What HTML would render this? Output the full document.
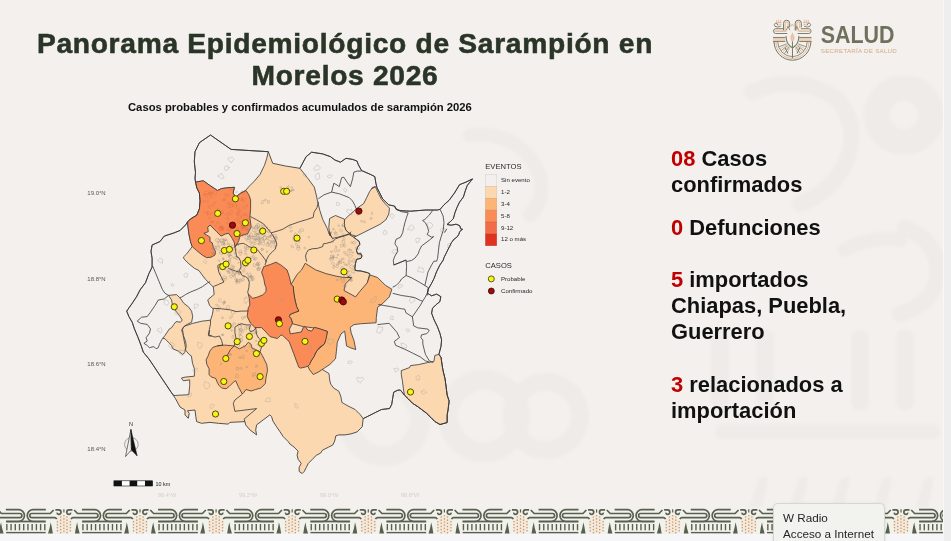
<!DOCTYPE html>
<html><head><meta charset="utf-8">
<style>
*{margin:0;padding:0;box-sizing:border-box}
html,body{width:951px;height:541px;overflow:hidden;background:#f6f6f8;font-family:"Liberation Sans",sans-serif}
#slide{position:absolute;left:0;top:0;width:944px;height:534.3px;background:#f3f0ed;overflow:hidden;will-change:transform}
.t{position:absolute;white-space:nowrap}
#title{left:0;width:690px;top:26.8px;text-align:center;font-weight:bold;font-size:28.2px;line-height:32px;color:#2a3427;letter-spacing:0.7px;-webkit-text-stroke:0.55px #2a3427}
#sub{left:128px;top:101px;font-weight:bold;font-size:11.25px;color:#111}
.rt{position:absolute;left:671px;font-weight:bold;font-size:21.9px;line-height:25.8px;color:#111;white-space:nowrap}
.rt b{color:#c00000}
#tip{position:absolute;left:773px;top:503px;width:112px;height:50px;background:#f2f2ee;border:1px solid #d6d6d2;border-radius:5px;box-shadow:0 1px 3px rgba(0,0,0,0.12)}
#tip div{position:absolute;left:9px;font-size:11.7px;color:#262626;white-space:nowrap}
svg{position:absolute;left:0;top:0}
</style></head><body>
<div id="slide">
<svg width="944" height="535" viewBox="0 0 944 535">
<defs><filter id="wmb" x="-10%" y="-10%" width="120%" height="120%"><feGaussianBlur stdDeviation="1.6"/></filter></defs>
<g filter="url(#wmb)">
<g fill="none" stroke="#eeebe8" stroke-linecap="round">
<circle cx="904" cy="115" r="27" stroke-width="26"/>
<path d="M752,92 Q800,72 838,100 Q860,125 846,162 Q832,192 800,204" stroke-width="16"/>
<path d="M905,228 Q938,240 938,275 Q932,305 900,314" stroke-width="16"/>
<path d="M845,250 Q870,236 900,240" stroke-width="14"/>
<circle cx="484" cy="416" r="36" stroke-width="20"/>
<circle cx="546" cy="416" r="34" stroke-width="18"/>
<circle cx="384" cy="420" r="36" stroke-width="20"/>
<path d="M470,135 Q520,130 540,175 Q545,200 530,215" stroke-width="14"/>
</g>
<g fill="#eeebe8">
<rect x="711" y="330" width="18" height="80" rx="8"/>
<rect x="756" y="330" width="18" height="80" rx="8"/>
<rect x="851" y="330" width="18" height="80" rx="8"/>
<rect x="896" y="330" width="18" height="80" rx="8"/>
<rect x="715" y="424" width="225" height="15" rx="7"/>
<path d="M750,507 L758,480 Q762,474 768,478 L762,507 Z"/>
<path d="M790,507 L798,480 Q802,474 808,478 L802,507 Z"/>
<path d="M832,507 L840,480 Q844,474 850,478 L844,507 Z"/>
<path d="M874,507 L882,480 Q886,474 892,478 L886,507 Z"/>
<path d="M916,507 L924,480 Q928,474 934,478 L928,507 Z"/>
</g>
</g>

<polygon points="210.5,135.0 220.0,141.7 231.1,149.4 268.3,151.7 272.7,163.3 285.5,166.0 299.9,168.3 306.1,156.7 311.6,152.2 322.7,153.9 330.5,156.7 334.9,160.0 340.5,162.2 346.0,158.3 352.6,159.4 357.1,161.1 358.2,164.4 361.5,170.5 370.4,174.4 374.8,176.6 375.9,183.3 377.0,187.7 379.3,192.1 382.6,198.8 388.8,204.9 394.4,206.0 396.6,209.3 400.0,210.6 410.4,211.2 425.9,210.0 437.5,210.0 440.1,209.3 444.0,204.8 449.2,200.2 454.4,193.1 459.5,184.7 466.0,182.1 472.5,178.9 467.3,185.4 465.4,190.5 463.4,197.0 459.5,202.2 457.0,207.4 455.0,212.5 453.3,218.7 450.5,221.5 447.0,224.5 451.4,225.2 456.0,224.2 459.7,225.6 460.7,228.9 462.5,229.3 459.7,231.6 458.8,234.4 456.9,237.2 454.2,239.0 451.4,242.7 449.6,246.4 447.7,250.1 445.9,253.8 444.0,257.5 443.3,260.0 439.9,265.0 436.6,271.6 434.1,278.3 431.6,283.3 428.3,289.1 427.5,293.3 431.6,295.8 436.6,294.1 440.8,296.6 439.9,301.6 435.8,304.9 432.5,308.3 431.6,313.2 434.1,319.9 437.4,326.6 439.9,333.2 441.6,339.9 441.0,346.3 438.9,354.4 441.0,357.4 442.0,364.6 443.0,370.6 445.0,378.8 446.1,386.9 447.1,395.0 449.1,401.1 448.1,409.3 447.1,415.4 447.1,422.5 440.0,424.5 434.9,421.5 430.8,417.4 426.7,413.3 422.7,410.3 418.6,407.2 412.5,403.2 408.5,399.1 404.4,395.0 400.3,390.0 397.8,390.2 393.7,392.2 392.7,398.3 391.7,404.4 389.6,408.5 381.5,409.5 375.4,412.5 367.3,416.6 363.2,418.6 362.2,426.8 357.1,431.9 351.0,433.9 344.9,434.9 338.8,434.9 335.8,435.9 334.7,441.0 332.7,445.1 328.6,447.1 322.5,450.2 320.5,453.2 316.4,455.2 312.4,459.3 308.3,463.4 306.3,467.4 304.2,471.5 302.2,473.5 299.2,471.5 299.2,467.4 301.2,463.4 298.1,459.3 297.1,455.2 298.1,451.2 294.1,447.1 290.0,444.1 288.2,441.6 283.2,436.6 279.9,431.6 276.5,426.6 273.2,421.6 271.5,416.6 269.9,414.9 263.2,419.9 256.6,424.9 255.7,429.9 256.6,434.9 249.9,429.9 245.7,424.9 244.9,421.6 229.9,422.4 228.3,424.1 218.3,423.3 210.0,422.4 201.6,423.3 196.6,421.6 195.8,416.6 195.0,410.0 187.5,410.8 189.2,413.3 188.3,418.3 185.0,414.9 185.0,410.0 180.0,407.0 175.5,398.7 171.0,392.0 166.6,385.4 162.1,378.7 157.7,372.1 153.3,365.4 148.8,358.8 143.3,352.1 141.1,345.5 137.7,336.6 134.4,328.8 132.2,322.2 128.9,316.6 126.7,311.1 132.2,303.3 136.6,296.7 140.0,290.0 145.5,282.7 148.8,273.8 152.1,267.1 152.1,258.3 151.0,251.6 152.1,245.0 159.9,241.6 164.3,236.1 174.3,232.8 180.0,230.5 185.5,225.0 187.8,221.6 190.4,219.0 196.8,215.1 199.4,208.7 200.0,200.9 199.4,193.1 196.8,188.0 195.5,182.1 195.0,178.2 195.5,172.7 194.3,161.6 195.0,151.6 199.4,142.7" fill="#fcd8b1" stroke="#363636" stroke-width="0" stroke-linejoin="round"/>
<polygon points="210.5,135.0 220.0,141.7 231.1,149.4 268.3,151.7 266.6,158.9 264.4,165.5 260.0,174.4 254.4,181.1 248.9,186.6 245.5,190.5 240.8,193.1 235.7,197.0 233.1,193.1 234.4,187.3 226.6,187.9 221.4,188.6 217.5,190.5 209.8,185.4 203.3,180.8 195.5,182.1 195.0,178.2 195.5,172.7 194.3,161.6 195.0,151.6 199.4,142.7" fill="#f2efec" stroke="#363636" stroke-width="0.8" stroke-linejoin="round"/>
<polygon points="299.9,168.3 306.1,156.7 311.6,152.2 322.7,153.9 330.5,156.7 334.9,160.0 340.5,162.2 346.0,158.3 352.6,159.4 357.1,161.1 358.2,164.4 361.5,170.5 370.4,174.4 374.8,176.6 375.9,183.3 377.0,187.7 379.3,192.1 382.6,198.8 388.8,204.9 394.4,206.0 396.6,209.3 400.0,210.6 410.4,211.2 425.9,210.0 437.5,210.0 440.1,209.3 444.0,204.8 449.2,200.2 454.4,193.1 459.5,184.7 466.0,182.1 472.5,178.9 467.3,185.4 465.4,190.5 463.4,197.0 459.5,202.2 457.0,207.4 455.0,212.5 453.3,218.7 450.5,221.5 447.0,224.5 451.4,225.2 456.0,224.2 459.7,225.6 460.7,228.9 462.5,229.3 459.7,231.6 458.8,234.4 456.9,237.2 454.2,239.0 451.4,242.7 449.6,246.4 447.7,250.1 445.9,253.8 444.0,257.5 443.3,260.0 439.9,265.0 436.6,271.6 434.1,278.3 431.6,283.3 428.3,289.1 427.5,293.3 431.6,295.8 436.6,294.1 440.8,296.6 439.9,301.6 435.8,304.9 432.5,308.3 431.6,313.2 434.1,319.9 437.4,326.6 439.9,333.2 441.6,339.9 441.0,346.3 438.9,354.4 441.0,357.4 442.0,364.6 443.0,370.6 445.0,378.8 446.1,386.9 447.1,395.0 449.1,401.1 448.1,409.3 447.1,415.4 447.1,422.5 440.0,424.5 434.9,421.5 430.8,417.4 426.7,413.3 422.7,410.3 418.6,407.2 412.5,403.2 408.5,399.1 404.4,395.0 400.3,390.0 397.8,390.2 393.7,392.2 392.7,398.3 391.7,404.4 389.6,408.5 381.5,409.5 375.4,412.5 367.3,416.6 363.2,418.6 360.2,414.6 355.1,409.5 346.9,405.4 341.9,402.4 340.8,396.3 338.8,391.2 333.7,388.1 330.7,384.1 329.7,380.0 329.0,373.6 321.6,369.0 330.0,352.0 345.0,312.0 365.0,292.0 369.8,273.8 367.6,272.7 361.0,271.0 355.4,270.5 354.9,268.2 355.4,263.8 356.5,259.4 361.0,258.3 362.0,256.0 361.0,253.8 357.6,253.8 356.5,250.5 357.6,247.2 359.8,244.4 359.3,241.6 356.5,239.4 353.7,237.2 356.2,236.2 345.0,228.0 332.5,238.4 328.8,232.9 327.3,228.5 322.8,219.6 319.9,210.7 317.7,201.8 316.5,196.0 314.3,187.1 307.7,178.2" fill="#f2efec" stroke="#363636" stroke-width="0.8" stroke-linejoin="round"/>
<polygon points="187.8,221.6 185.5,225.0 180.0,230.5 174.3,232.8 164.3,236.1 159.9,241.6 152.1,245.0 151.0,251.6 152.1,258.3 152.1,267.1 148.8,273.8 145.5,282.7 140.0,290.0 136.6,296.7 132.2,303.3 126.7,311.1 128.9,316.6 132.2,322.2 134.4,328.8 137.7,336.6 141.1,345.5 143.3,352.1 148.8,358.8 153.3,365.4 157.7,372.1 162.1,378.7 166.6,385.4 171.0,392.0 174.0,395.5 188.8,394.7 189.7,385.5 189.7,379.9 183.3,380.8 181.4,378.1 185.1,377.1 194.4,376.2 194.4,368.8 192.5,363.3 191.4,356.0 189.2,354.5 185.5,350.1 186.2,345.7 185.5,341.2 183.3,335.3 182.5,329.4 184.0,326.4 192.2,323.5 201.8,321.2 210.5,320.2 212.3,314.7 213.3,309.1 209.6,305.5 207.7,299.9 214.2,294.4 213.3,287.0 208.9,282.7 205.5,279.4 202.2,275.0 198.9,270.5 194.4,268.3 188.9,263.8 184.4,259.4 183.3,257.2 186.7,253.9 192.2,246.6 190.5,241.6 188.9,233.9 187.8,225.0" fill="#f2efec" stroke="#363636" stroke-width="0.8" stroke-linejoin="round"/>
<polygon points="168.5,295.4 176.6,294.6 179.6,297.6 181.6,300.0 183.8,303.3 188.3,306.7 191.6,311.1 192.7,316.6 191.6,322.2 187.2,324.4 183.8,326.6 181.6,330.0 182.7,333.3 183.8,338.8 184.9,344.4 185.5,347.7 184.9,352.2 182.7,354.4 178.3,351.1 172.7,348.8 171.6,345.5 168.3,342.2 165.0,338.8 162.7,338.3 165.0,335.5 167.2,332.2 169.4,328.9 171.6,327.7 173.8,324.4 176.1,321.6 180.5,322.2 182.2,320.0 179.4,315.5 175.0,310.0 172.7,306.7 171.6,300.0" fill="#fcd8b1" stroke="#363636" stroke-width="0.8" stroke-linejoin="round"/>
<polygon points="356.2,208.8 363.6,203.7 366.6,197.8 369.5,191.8 372.5,187.4 375.4,186.7 378.4,193.3 381.4,199.2 385.8,204.4 389.5,208.1 388.8,214.0 385.8,219.9 379.9,224.4 371.0,228.8 362.1,233.3 356.2,236.2 351.0,234.7 345.9,230.3 344.4,225.9 344.4,219.9 348.8,215.5 353.3,211.8" fill="#fcd8b1" stroke="#363636" stroke-width="0.8" stroke-linejoin="round"/>
<polygon points="329.6,218.5 335.5,215.5 344.4,219.2 344.4,225.9 345.9,230.3 351.0,234.7 350.3,233.3 344.4,235.5 338.5,237.0 332.5,238.4 329.6,233.3 328.8,227.3" fill="#fcd8b1" stroke="#363636" stroke-width="0.8" stroke-linejoin="round"/>
<polygon points="401.3,370.6 409.5,367.6 410.5,365.6 418.6,364.6 427.8,362.5 433.9,361.5 434.9,355.4 438.9,354.4 441.0,357.4 442.0,364.6 443.0,370.6 445.0,378.8 446.1,386.9 447.1,395.0 449.1,401.1 448.1,409.3 447.1,415.4 447.1,422.5 440.0,424.5 434.9,421.5 430.8,417.4 426.7,413.3 422.7,410.3 418.6,407.2 412.5,403.2 408.5,399.1 404.4,395.0 403.4,388.9 402.4,380.8 401.3,374.7" fill="#fcd8b1" stroke="#363636" stroke-width="0.8" stroke-linejoin="round"/>
<polygon points="195.5,182.1 203.3,180.8 209.8,185.4 217.5,190.5 221.4,188.6 226.6,187.9 234.4,187.3 233.1,193.1 235.7,197.0 240.8,193.1 246.0,190.5 248.6,194.4 250.6,199.6 250.6,208.7 249.9,217.7 251.2,226.8 247.3,234.5 246.6,233.9 240.0,236.1 238.8,240.5 237.7,242.8 234.9,247.2 234.4,242.8 232.2,238.3 228.8,233.3 225.5,233.9 221.1,236.1 216.6,231.7 210.0,225.0 209.8,225.5 207.7,227.2 208.3,231.7 203.9,233.3 206.6,235.0 210.0,237.2 210.0,241.6 212.2,242.8 213.3,247.2 215.5,251.6 215.0,255.0 211.1,257.2 206.6,257.7 202.2,255.0 196.6,250.5 192.2,246.6 190.5,241.6 188.9,233.9 187.8,225.0 187.8,221.6 190.4,219.0 196.8,215.1 199.4,208.7 200.0,200.9 199.4,193.1 196.8,188.0" fill="#fb8b56" stroke="#363636" stroke-width="0.8" stroke-linejoin="round"/>
<polygon points="305.2,263.3 315.5,269.8 325.9,273.6 336.2,276.2 344.0,277.5 351.8,277.5 345.3,284.0 344.0,290.5 355.6,296.9 359.5,291.8 367.3,282.7 369.9,274.9 377.6,277.5 385.4,285.3 391.9,289.2 389.3,296.9 382.8,303.4 377.6,307.3 376.3,317.6 376.1,322.8 361.3,323.7 353.9,324.6 350.2,327.4 351.2,332.9 353.9,340.3 355.8,349.6 350.2,347.7 346.5,345.9 344.7,331.1 341.0,333.9 337.3,342.2 336.4,351.4 335.5,358.8 329.9,364.4 324.4,368.1 318.8,371.8 313.3,374.5 309.6,369.9 307.9,366.2 312.5,358.8 317.1,350.5 324.4,344.0 327.4,331.5 317.0,328.3 303.3,326.6 292.2,323.7 292.2,322.1 291.1,318.8 289.4,316.6 290.0,314.4 295.5,312.2 298.8,311.1 296.6,306.6 295.0,300.0 293.8,293.3 293.3,286.7 291.1,284.4 297.1,274.4 301.5,270.0" fill="#fdb577" stroke="#363636" stroke-width="0.8" stroke-linejoin="round"/>
<polygon points="263.8,266.6 270.5,264.4 276.0,262.2 281.6,265.5 287.1,270.0 289.3,276.6 291.1,284.4 293.3,286.7 293.8,293.3 295.0,300.0 296.6,306.6 298.8,311.1 295.5,312.2 290.0,314.4 289.4,316.6 291.1,318.8 292.2,322.1 292.2,323.7 289.4,329.2 290.3,333.9 295.9,332.9 301.4,332.0 303.3,327.4 305.1,326.5 307.9,330.2 311.6,331.1 314.4,327.4 318.1,328.3 323.2,329.9 327.4,331.5 326.2,338.5 324.4,344.0 319.7,347.2 317.1,350.5 315.3,353.3 314.4,356.0 312.5,358.8 310.7,361.6 309.7,364.4 307.9,366.2 305.1,367.1 300.5,368.1 298.7,367.1 297.7,364.4 296.3,360.7 295.0,357.0 293.6,353.3 292.2,349.6 290.8,345.9 289.4,342.2 287.6,339.9 284.8,337.6 282.0,334.8 280.2,335.7 277.4,338.5 273.7,337.6 270.0,336.6 266.0,332.1 261.6,327.6 255.0,327.6 250.5,323.2 247.2,316.5 248.3,307.7 249.9,305.0 249.3,298.3 248.2,293.9 252.7,298.3 257.1,297.2 262.6,295.0 266.0,291.7 266.0,287.2 264.9,285.0 263.8,278.8 261.6,272.2" fill="#fb8b56" stroke="#363636" stroke-width="0.8" stroke-linejoin="round"/>
<polygon points="212.8,347.4 217.2,345.9 224.6,345.1 234.2,345.9 239.4,348.8 245.3,345.9 248.3,342.2 251.2,344.4 252.0,348.1 255.7,349.6 260.1,351.8 262.3,355.5 264.5,359.9 266.7,364.4 267.5,370.3 266.0,377.7 265.3,383.6 260.8,388.0 255.7,389.5 251.2,391.0 246.0,389.5 243.8,392.5 242.3,394.0 238.3,386.6 235.7,380.7 233.5,382.1 229.0,386.6 226.1,388.8 221.6,388.0 218.7,385.1 217.2,382.1 215.7,378.4 211.3,377.0 209.1,374.7 209.1,368.8 206.8,364.4 206.1,359.9 208.3,355.5 209.8,351.1" fill="#fdb577" stroke="#363636" stroke-width="0.8" stroke-linejoin="round"/>
<path d="M257.3,226.7 L257.4,228.5 L256.0,227.4 L255.2,226.6 L255.9,225.7 L257.5,224.6Z M267.3,239.4 L267.1,239.8 L266.4,239.9 L266.1,240.1 L265.7,239.7 L265.3,239.4 L265.5,239.1 L265.9,239.1 L266.3,238.6 L266.7,239.1Z M265.6,235.7 L265.4,236.5 L264.2,236.8 L263.4,236.5 L263.8,235.4 L264.7,234.9 L265.1,235.1Z M268.6,244.8 L268.7,246.3 L267.6,245.8 L266.3,246.3 L265.7,245.4 L266.2,244.0 L267.5,243.6 L269.0,243.7Z M258.2,240.5 L258.3,241.2 L257.0,241.1 L256.1,241.0 L256.0,239.2 L257.4,239.3 L258.1,239.4Z M252.1,226.9 L251.4,227.8 L250.8,228.3 L250.1,227.6 L249.5,227.0 L250.9,226.1 L251.5,226.6Z M269.1,238.5 L268.4,239.1 L268.1,239.6 L267.5,239.4 L267.1,239.3 L266.7,238.7 L266.6,237.6 L268.0,238.0 L268.5,238.0Z M259.2,225.7 L259.7,226.7 L257.7,227.5 L256.5,227.2 L255.4,227.0 L255.6,225.1 L257.0,223.5 L257.8,223.6 L259.1,223.7Z M264.1,249.3 L263.2,249.9 L261.9,250.8 L261.1,249.6 L261.4,248.4 L262.1,248.2 L262.9,248.7Z M247.8,230.6 L247.8,231.6 L246.9,231.3 L246.8,231.1 L246.4,230.9 L245.5,230.3 L246.2,229.6 L246.6,229.1 L247.0,229.2 L248.1,229.9Z M271.3,236.0 L270.5,237.0 L269.9,236.9 L269.3,237.5 L269.0,236.6 L269.2,235.6 L270.1,235.3 L270.9,235.4Z M252.0,238.5 L251.5,239.3 L250.6,238.8 L250.4,238.5 L250.5,237.9 L251.2,237.8Z M259.4,235.6 L258.5,236.6 L257.6,236.5 L257.0,236.7 L256.2,237.3 L255.9,236.0 L256.2,234.7 L256.7,234.4 L258.0,234.0 L258.3,234.6Z M254.9,230.3 L254.6,231.1 L255.0,232.6 L253.5,231.5 L252.7,231.5 L252.2,230.0 L252.4,229.5 L253.7,227.9 L255.2,228.3 L255.1,229.1Z M260.1,233.7 L259.8,234.3 L258.7,235.2 L258.4,234.1 L258.6,233.6 L259.0,232.4 L260.0,232.4Z M252.1,242.3 L251.9,242.6 L251.6,242.8 L250.8,242.9 L250.4,242.2 L250.5,241.8 L251.1,241.4 L251.5,241.4 L251.7,241.8Z M253.7,244.6 L253.1,245.9 L252.0,246.1 L250.8,245.4 L250.4,244.3 L250.8,244.2 L251.5,242.7 L252.6,243.5Z M276.3,240.9 L275.7,241.0 L274.9,241.4 L274.8,240.9 L274.5,240.3 L275.0,239.8 L275.6,240.4Z M249.4,237.1 L249.0,238.2 L247.3,239.0 L245.7,238.7 L244.7,238.6 L244.9,236.7 L245.0,235.4 L246.2,235.4 L246.8,236.0 L247.4,236.3Z M270.5,229.7 L270.4,230.8 L269.1,230.6 L269.1,229.8 L269.4,229.3 L270.0,229.0Z M254.1,227.5 L253.7,228.4 L252.8,228.4 L252.0,227.7 L252.5,227.1 L253.3,226.7Z M266.2,237.8 L265.4,238.8 L265.1,239.8 L264.6,240.1 L263.0,238.6 L262.6,237.6 L263.1,237.2 L264.1,235.7 L265.8,235.9 L266.7,236.6Z M268.9,242.5 L268.1,243.7 L267.6,243.3 L266.9,243.1 L267.4,242.2 L268.1,242.3Z M249.9,237.6 L250.7,238.9 L249.7,239.7 L247.7,238.9 L247.4,238.5 L247.0,236.8 L248.1,236.1 L248.9,236.7 L250.3,236.2Z M256.7,239.0 L256.1,239.4 L255.3,239.8 L255.1,239.1 L255.4,238.1 L256.0,238.5Z M250.3,236.5 L249.2,236.9 L248.2,237.6 L247.6,236.4 L248.0,235.4 L249.2,235.7Z M274.8,236.8 L273.0,238.0 L272.8,239.1 L271.2,238.4 L270.7,237.6 L270.3,235.7 L271.6,235.0 L273.3,236.6Z M276.8,243.2 L277.6,245.1 L276.3,246.0 L273.6,244.9 L274.6,243.5 L274.3,241.7 L275.1,240.7 L276.7,242.2Z M272.1,245.8 L271.2,247.3 L269.9,246.8 L269.3,246.0 L269.9,244.2 L271.3,244.7Z M251.5,236.0 L250.7,237.0 L250.3,237.3 L249.5,236.6 L249.4,236.1 L249.0,235.1 L250.1,235.1 L251.0,235.1Z M260.3,238.4 L260.3,239.0 L259.3,239.8 L258.8,238.7 L258.7,238.0 L259.4,237.6 L260.0,237.7Z M264.6,240.3 L263.5,242.4 L261.8,242.4 L259.5,241.6 L260.4,240.5 L262.0,238.5 L263.6,239.8Z M276.5,237.7 L276.9,238.5 L275.8,239.7 L274.8,239.0 L274.5,238.1 L275.0,237.6 L275.4,236.9 L276.3,236.5 L276.3,237.2Z M255.3,240.8 L254.4,242.2 L253.3,243.0 L252.4,241.6 L253.8,239.8 L254.9,239.1Z M255.4,238.3 L254.2,238.4 L252.9,239.2 L252.7,237.8 L252.9,236.0 L254.0,237.0Z M258.1,234.2 L257.2,235.5 L256.6,235.7 L255.7,234.9 L255.7,234.1 L256.8,233.6 L258.0,233.3Z M275.9,236.9 L275.5,237.7 L273.8,237.4 L273.6,236.9 L273.2,234.4 L276.3,234.8Z M258.7,226.9 L257.9,228.6 L256.9,228.9 L256.2,229.1 L254.0,228.7 L253.8,227.2 L255.4,226.3 L257.4,225.2 L257.4,226.8Z M263.5,232.9 L262.5,234.9 L261.0,235.3 L259.7,234.0 L258.9,232.2 L260.5,232.0 L262.0,231.2Z M260.0,231.7 L258.5,233.3 L257.1,234.4 L255.5,231.5 L257.3,231.0 L258.3,230.2Z M259.6,229.3 L260.0,230.2 L258.8,231.0 L258.1,230.4 L257.2,229.7 L257.2,228.8 L257.8,228.5 L258.3,228.4 L259.4,228.8Z M264.4,227.1 L264.0,227.4 L262.7,228.1 L262.5,226.9 L262.7,225.6 L264.3,225.6Z M274.0,241.8 L273.9,242.6 L273.2,242.6 L272.8,242.4 L272.2,241.7 L272.5,241.5 L273.4,241.1 L273.7,241.0Z M267.5,251.9 L267.5,252.2 L266.9,252.3 L266.7,252.6 L266.3,251.8 L266.1,251.7 L266.3,251.1 L267.2,250.8 L267.4,251.0Z M269.2,232.4 L269.4,233.0 L268.7,233.0 L268.4,233.0 L268.2,232.4 L268.3,232.2 L268.8,231.7 L268.9,232.1Z M260.0,238.6 L260.0,240.3 L257.8,239.7 L256.8,239.0 L258.2,237.1 L259.1,236.6Z M272.3,241.2 L272.3,242.2 L271.7,242.4 L270.9,242.2 L271.1,241.7 L270.4,240.8 L271.5,240.6 L271.9,240.3 L272.3,240.8Z M257.5,237.5 L255.9,240.0 L254.1,240.0 L252.5,238.4 L253.8,235.9 L255.7,236.7Z M270.9,242.8 L270.2,243.9 L268.5,243.7 L267.5,242.9 L267.6,242.2 L268.9,240.2 L270.0,240.4Z M274.7,241.8 L274.2,243.5 L273.1,243.6 L271.9,243.2 L271.5,242.0 L272.3,241.6 L273.1,240.6 L274.1,240.6Z M271.5,235.7 L271.6,236.2 L271.0,236.7 L270.7,236.2 L269.9,236.4 L269.9,235.5 L270.2,234.9 L271.4,234.8 L271.4,235.5Z M250.4,240.0 L249.3,242.4 L247.3,241.2 L245.9,240.0 L247.1,239.4 L248.8,239.6Z M262.8,249.6 L262.6,250.0 L262.1,250.7 L261.6,250.2 L260.8,249.7 L261.1,248.9 L261.7,248.4 L262.9,249.2Z M264.7,243.3 L264.5,244.3 L263.1,245.4 L261.5,243.8 L260.9,242.4 L260.7,241.4 L262.0,240.3 L264.0,240.9Z M267.8,231.3 L267.5,231.9 L267.1,231.7 L266.5,231.4 L267.0,231.1 L267.5,230.9Z M263.6,238.1 L263.5,238.9 L263.1,239.7 L262.2,238.7 L261.4,238.4 L261.9,236.7 L262.7,237.1 L263.4,236.8Z M265.6,232.6 L264.8,233.2 L264.4,233.3 L263.7,233.6 L262.2,233.6 L262.3,232.3 L263.5,231.5 L264.2,230.9 L265.4,231.5Z M260.1,240.3 L259.8,242.1 L258.8,241.0 L257.6,240.0 L258.4,239.0 L259.8,239.5Z M250.4,229.2 L249.7,229.5 L249.6,229.8 L248.7,229.5 L248.3,228.7 L248.6,228.3 L249.5,228.5 L249.7,228.6Z M275.7,247.4 L275.3,248.0 L274.9,248.6 L273.9,247.7 L273.8,246.5 L274.6,246.0 L275.9,246.4Z M261.3,244.0 L261.0,244.9 L260.2,244.5 L259.1,245.1 L257.9,244.2 L259.5,243.1 L259.6,242.1 L260.4,243.0Z M277.7,237.7 L277.3,238.4 L276.5,240.1 L275.4,239.7 L275.3,238.4 L275.6,237.9 L276.1,237.0 L276.6,236.6 L277.2,237.0Z M256.3,243.7 L255.7,244.1 L254.8,245.0 L254.5,244.5 L253.9,243.7 L254.0,242.9 L255.2,241.9 L255.7,242.8Z M261.0,237.4 L260.6,238.9 L259.6,238.7 L258.6,237.8 L259.0,236.5 L260.3,237.0Z M269.6,236.9 L268.6,237.4 L268.2,237.4 L267.3,236.7 L268.1,236.2 L268.8,236.4Z M257.6,234.7 L256.7,235.8 L255.3,236.6 L254.2,235.3 L254.6,234.4 L254.9,233.1 L256.9,233.6Z M252.9,234.9 L253.0,236.5 L251.8,236.5 L250.4,237.2 L249.6,236.3 L249.4,234.6 L250.3,234.2 L250.3,233.0 L251.8,232.7 L252.5,234.8Z M268.1,228.1 L267.5,228.3 L266.9,228.4 L266.4,228.3 L266.3,227.7 L267.0,226.8 L267.7,227.1Z M261.9,225.9 L261.9,227.7 L261.0,228.0 L259.7,227.5 L258.9,226.8 L259.4,225.6 L260.2,225.4 L260.8,224.9 L262.0,224.9Z M259.3,243.4 L259.4,244.1 L258.9,244.6 L258.3,243.9 L257.9,244.1 L258.3,243.1 L258.4,242.9 L259.2,242.2 L259.3,242.8Z" fill="none" stroke="#8f8780" stroke-width="0.4" stroke-opacity="0.85"/>
<path d="M255.4,259.0 L255.0,259.8 L254.7,260.3 L254.0,260.1 L253.3,259.5 L253.0,258.8 L254.0,258.6 L254.4,258.1 L254.8,258.3Z M233.9,269.9 L234.3,271.2 L232.6,271.8 L232.1,270.7 L231.4,270.4 L231.7,269.4 L232.8,268.8 L234.2,269.2Z M220.8,268.6 L220.2,269.4 L219.3,270.2 L218.4,269.7 L218.0,269.2 L218.1,268.3 L217.7,267.1 L219.4,267.3 L220.5,267.3Z M234.7,267.1 L234.1,267.9 L233.4,268.6 L232.0,268.1 L231.7,267.5 L232.7,266.4 L233.1,266.1 L234.7,266.2Z M235.3,274.2 L235.2,275.0 L234.6,275.2 L233.8,275.0 L233.9,274.2 L233.7,273.7 L234.3,273.3 L235.0,273.2 L235.1,273.6Z M219.8,260.9 L219.4,261.0 L219.1,261.6 L218.8,261.3 L218.2,260.9 L218.3,260.5 L218.4,259.7 L219.1,260.2 L219.6,260.1Z M237.2,273.0 L237.0,273.7 L236.1,273.7 L235.2,273.3 L235.4,272.6 L236.0,271.9 L236.7,272.4Z M254.5,256.8 L254.5,257.3 L253.6,257.5 L252.7,257.1 L252.6,256.3 L252.8,255.5 L253.4,255.3 L254.3,255.7Z M219.5,240.3 L219.0,242.0 L217.6,242.1 L216.2,241.9 L215.4,240.7 L215.4,239.8 L216.3,238.2 L217.3,238.9 L218.7,238.3Z M258.9,268.4 L258.4,268.8 L257.5,269.1 L256.5,268.8 L257.2,267.7 L257.6,267.5 L258.4,266.8Z M242.2,280.4 L241.1,281.7 L240.3,281.8 L240.0,280.2 L239.9,278.7 L241.4,279.3Z M223.9,243.7 L223.5,244.3 L223.4,245.2 L221.5,244.7 L222.1,243.5 L221.9,242.4 L222.9,241.7 L224.0,242.1Z M228.3,271.6 L228.2,272.5 L227.7,272.2 L227.1,272.0 L226.9,271.6 L226.8,271.1 L227.3,270.7 L227.6,270.4 L228.1,271.0Z M245.0,267.7 L244.5,269.8 L243.5,269.3 L242.4,270.3 L241.5,269.3 L240.7,267.8 L242.1,266.9 L242.3,266.8 L243.6,266.1 L245.3,266.9Z M254.4,278.4 L253.8,279.2 L252.6,279.4 L251.5,278.9 L250.7,278.0 L251.3,276.2 L252.5,277.0 L253.7,276.6Z M258.7,265.0 L258.9,265.6 L258.5,265.7 L257.6,265.7 L257.7,265.2 L257.8,264.8 L258.0,264.6 L258.5,264.4 L258.8,264.6Z M238.3,244.8 L238.5,245.5 L238.2,245.6 L237.5,245.5 L237.5,245.1 L237.1,244.3 L237.5,244.2 L237.9,243.9 L238.6,244.1Z M252.0,276.0 L251.2,277.2 L250.7,276.7 L248.8,277.5 L247.7,275.7 L249.0,273.4 L250.6,272.9 L251.3,274.9Z M228.7,248.7 L229.0,249.2 L227.9,249.3 L227.9,249.3 L227.1,249.5 L226.9,248.5 L227.0,248.4 L227.8,247.8 L228.2,248.3 L228.6,248.0Z M260.2,269.1 L259.8,269.7 L259.3,270.0 L258.7,270.1 L257.6,269.8 L257.9,268.9 L258.1,268.1 L258.3,267.9 L259.0,267.9 L260.0,268.3Z M224.4,243.2 L224.4,244.3 L224.0,244.9 L223.0,244.2 L222.8,243.5 L223.1,242.5 L223.5,242.2 L224.7,242.1Z M247.0,247.3 L246.0,248.8 L245.6,248.7 L244.7,248.7 L244.5,247.8 L244.3,246.1 L245.1,246.2 L246.3,246.7Z M239.0,258.2 L239.0,258.9 L238.1,259.5 L236.6,259.9 L236.7,259.2 L235.2,258.2 L236.1,256.8 L237.3,257.2 L237.7,256.4 L238.6,257.7Z M248.2,261.9 L247.9,263.5 L245.8,262.7 L244.3,262.0 L245.2,260.3 L247.3,260.1Z M248.9,264.5 L247.9,265.3 L246.8,266.8 L245.8,265.3 L245.5,264.2 L246.5,263.6 L247.7,261.9 L248.4,263.1Z M239.0,262.6 L238.9,263.1 L238.3,263.0 L237.7,262.9 L238.3,262.4 L238.9,262.1Z M238.6,270.4 L238.7,270.9 L237.8,270.9 L237.4,270.5 L237.5,269.7 L238.5,269.9Z M241.4,272.6 L241.3,273.3 L240.2,273.0 L239.5,272.0 L240.2,271.8 L241.0,271.6Z M240.1,282.6 L238.9,282.8 L237.8,283.7 L236.0,283.4 L236.1,281.6 L237.1,279.3 L238.5,281.2Z M243.9,280.4 L244.0,280.6 L243.7,281.2 L243.0,281.2 L242.3,280.9 L240.9,280.8 L241.7,278.6 L242.2,278.8 L243.8,279.0 L244.7,279.0Z M258.6,264.7 L258.4,265.6 L257.5,265.4 L256.9,264.5 L257.5,263.7 L258.4,263.4Z M214.6,253.3 L214.3,253.6 L213.6,254.1 L213.2,254.2 L212.6,254.3 L212.4,253.5 L213.0,253.1 L213.5,252.5 L213.6,252.5 L214.4,252.6Z M219.8,248.2 L218.6,249.3 L217.0,249.9 L216.3,248.7 L215.3,246.7 L217.6,246.8 L219.0,246.7Z M248.1,257.1 L248.1,257.8 L247.3,257.8 L246.5,257.9 L246.5,257.2 L246.4,256.8 L246.9,256.4 L247.3,256.1 L247.7,256.5Z M252.8,276.9 L252.2,278.1 L251.6,278.1 L250.6,277.9 L249.9,277.2 L250.2,276.9 L250.9,275.3 L251.7,276.4 L252.6,275.7Z M228.1,263.0 L228.0,263.4 L227.3,263.6 L226.6,263.6 L225.8,263.1 L226.3,262.7 L226.1,262.2 L226.7,261.5 L227.8,261.3 L227.8,262.1Z M230.7,262.3 L230.3,263.3 L229.1,264.4 L227.9,263.2 L227.8,261.2 L229.3,260.4 L230.6,260.6Z M223.7,279.2 L223.4,280.6 L222.0,279.7 L220.8,279.2 L221.5,277.9 L222.6,278.1Z M256.1,264.6 L255.4,266.7 L253.4,266.4 L253.2,265.7 L253.2,264.4 L253.8,263.4 L254.5,264.1Z M237.3,258.0 L236.3,258.8 L235.0,258.7 L233.0,257.6 L235.1,256.8 L236.0,255.9Z M214.3,248.1 L213.4,248.7 L211.8,249.3 L211.3,248.3 L212.7,247.2 L213.9,246.7Z M237.9,281.8 L237.5,282.2 L236.8,282.2 L236.4,282.1 L236.0,282.2 L235.4,281.6 L236.3,281.0 L236.9,280.3 L237.6,280.9Z M258.6,263.4 L258.9,264.0 L257.9,264.3 L257.2,264.1 L256.2,264.2 L256.5,263.3 L257.2,262.0 L257.6,262.4 L258.6,262.9Z M224.2,258.9 L223.8,259.6 L223.4,259.7 L222.8,259.7 L222.8,258.8 L222.8,257.9 L223.4,258.4 L223.8,258.5Z M247.4,273.8 L247.2,274.4 L246.6,274.5 L246.1,274.2 L246.1,273.5 L246.7,272.9 L247.5,272.6Z M252.0,278.9 L252.4,280.3 L249.9,281.0 L249.1,280.1 L248.3,277.5 L250.0,276.2 L251.4,277.3Z M226.6,265.9 L226.2,267.0 L225.2,267.1 L224.4,266.0 L225.3,265.0 L225.9,265.1Z M238.9,280.5 L239.4,282.1 L238.4,281.4 L237.2,282.1 L237.3,281.5 L236.1,281.1 L236.1,279.6 L237.9,279.6 L238.6,279.3 L239.9,279.6Z M227.7,242.1 L227.8,243.6 L226.0,244.3 L224.9,244.1 L224.1,243.3 L224.0,240.8 L225.4,240.9 L227.2,239.8 L227.1,241.3Z M220.8,273.8 L220.9,274.5 L220.3,274.7 L219.5,274.9 L219.4,273.8 L219.4,273.3 L220.1,272.5 L220.7,273.3Z M242.7,253.2 L241.1,254.2 L240.2,255.7 L239.8,254.6 L239.3,253.8 L239.1,253.4 L239.2,252.2 L239.4,252.1 L240.8,252.3 L241.7,252.2Z M227.4,263.9 L227.3,264.0 L226.4,264.4 L226.3,264.4 L226.0,263.8 L226.1,263.5 L226.2,262.8 L226.7,262.6 L226.9,263.3Z M224.9,244.5 L225.0,244.8 L224.3,245.4 L224.0,245.2 L223.4,244.5 L223.8,244.3 L224.1,243.8 L224.4,243.6 L225.0,243.7Z M226.0,240.4 L225.1,240.8 L224.4,241.0 L223.5,240.6 L223.0,240.1 L222.0,239.2 L223.4,239.3 L224.1,238.9 L224.6,239.5Z M252.3,257.6 L251.9,258.4 L250.5,258.7 L250.6,257.4 L250.7,256.8 L251.8,256.8Z M222.9,241.9 L222.3,242.4 L222.1,243.1 L221.4,243.3 L220.8,242.1 L220.7,241.4 L221.2,241.1 L222.0,241.2 L222.8,241.4Z M244.3,277.1 L244.4,277.7 L243.6,277.9 L243.4,277.9 L243.0,277.4 L243.1,276.6 L243.4,276.3 L244.1,276.0 L244.4,276.1Z M248.3,248.5 L248.6,249.3 L248.1,249.4 L247.4,249.7 L246.2,249.0 L245.9,248.2 L245.7,247.7 L247.3,247.6 L248.0,247.4 L248.7,247.1Z M240.8,273.5 L240.6,273.9 L240.3,274.3 L240.0,274.7 L239.2,274.4 L239.0,273.6 L239.2,272.9 L240.1,273.1 L240.5,273.0 L241.1,273.2Z M232.7,271.3 L232.5,272.8 L230.6,273.2 L229.0,273.5 L229.4,272.6 L228.2,271.1 L230.1,270.8 L230.5,270.7 L231.9,271.2Z M241.4,251.7 L241.7,252.6 L239.7,252.6 L239.3,252.1 L238.1,251.4 L238.9,251.0 L239.4,250.4 L240.2,249.6 L241.4,250.1Z M236.0,248.1 L236.9,249.7 L234.7,249.6 L234.2,250.3 L232.7,249.8 L232.7,248.7 L232.4,247.8 L234.0,247.5 L235.3,245.8 L235.2,247.5Z M246.4,250.8 L246.4,251.2 L246.2,251.6 L244.8,251.8 L245.1,251.1 L244.4,250.6 L244.3,250.0 L245.4,249.8 L245.9,249.9 L246.5,249.4Z M231.0,254.5 L229.8,255.5 L228.9,256.2 L227.3,255.0 L227.8,254.2 L228.5,253.2 L229.5,253.8Z M257.3,259.1 L256.2,259.4 L255.7,259.8 L255.0,260.2 L254.8,259.1 L253.8,259.2 L254.7,258.2 L255.1,257.7 L256.4,257.6 L257.1,258.0Z M240.4,273.0 L240.1,273.7 L238.7,274.9 L238.3,273.3 L237.5,271.7 L239.2,272.0 L240.9,271.5Z M229.6,244.3 L229.5,244.5 L229.6,245.4 L229.0,245.2 L228.0,244.9 L227.8,244.5 L228.7,243.9 L228.8,243.1 L229.5,243.6 L230.2,243.8Z M215.0,252.1 L214.1,253.6 L213.5,253.6 L212.2,254.2 L211.3,253.1 L212.1,251.5 L213.4,250.9 L214.6,251.5Z M229.8,272.3 L229.6,272.8 L228.4,273.1 L228.1,273.1 L227.9,272.1 L227.5,272.0 L228.0,270.9 L228.7,270.6 L229.4,271.1Z M219.7,240.9 L220.0,241.8 L218.8,242.6 L217.8,242.3 L217.7,241.4 L217.4,240.6 L218.0,240.0 L218.6,238.9 L219.0,239.8 L219.4,240.4Z M247.1,254.1 L246.3,255.0 L246.0,254.8 L245.4,255.0 L245.1,254.5 L244.7,253.6 L244.8,253.0 L245.7,253.1 L246.5,253.1Z M251.0,275.4 L250.3,276.4 L249.5,277.4 L249.2,276.4 L248.2,275.6 L249.2,275.4 L249.7,274.9 L250.1,275.3Z M259.7,269.8 L259.3,270.6 L258.4,270.5 L257.2,270.8 L257.3,269.2 L258.9,267.4 L260.8,267.9Z M215.3,248.3 L214.7,250.1 L213.4,249.7 L212.3,248.4 L213.3,247.7 L214.2,247.8Z M235.1,246.4 L234.0,247.8 L232.5,248.3 L231.6,247.7 L231.6,244.8 L233.1,245.3 L234.0,245.6Z M223.3,240.0 L223.3,241.0 L222.0,241.7 L220.1,242.1 L220.5,240.0 L220.5,239.0 L221.7,239.0 L223.8,238.8Z M254.3,279.5 L253.4,280.5 L252.0,280.5 L251.4,279.9 L250.6,278.1 L252.2,278.4 L253.1,278.4Z M245.6,262.8 L245.1,264.1 L244.7,264.8 L244.1,264.5 L243.4,263.7 L243.3,263.1 L243.3,262.5 L244.1,262.3 L244.8,262.2 L245.2,262.4Z M226.5,279.8 L226.0,280.3 L224.9,281.1 L224.3,280.7 L224.3,279.6 L223.8,278.8 L225.2,278.3 L226.8,278.8Z M233.2,276.2 L231.9,277.6 L230.0,277.8 L229.0,276.5 L230.2,275.1 L231.6,275.3Z M244.8,271.4 L244.5,272.1 L244.1,272.3 L243.6,272.4 L243.3,272.1 L243.2,271.6 L242.7,271.1 L243.4,270.9 L243.9,270.4 L244.4,270.8Z M234.9,274.9 L233.8,275.0 L232.8,276.6 L232.0,275.7 L232.0,274.6 L232.6,273.6 L233.3,272.2 L234.5,273.6Z M216.8,247.6 L216.1,249.0 L213.6,249.0 L213.2,247.9 L214.2,245.8 L216.3,246.1Z M237.2,278.6 L236.6,279.3 L236.1,280.2 L235.0,279.7 L234.7,279.5 L234.9,278.7 L235.3,277.7 L235.5,277.7 L236.5,278.5Z M235.3,275.9 L235.3,276.6 L234.6,277.3 L233.6,276.6 L233.9,276.1 L234.4,275.5 L234.9,275.2 L235.2,275.3Z M226.4,277.9 L225.7,278.0 L225.3,278.8 L224.4,278.6 L224.1,278.3 L222.7,277.3 L223.5,276.4 L223.7,275.8 L225.1,276.2 L226.2,276.7Z M224.0,258.4 L223.9,259.2 L222.7,259.5 L222.3,258.8 L222.5,257.9 L223.0,257.6 L223.4,257.7Z M260.2,263.5 L259.6,265.5 L258.3,265.0 L256.8,265.4 L256.5,264.4 L257.0,263.6 L257.2,262.9 L258.9,261.8 L259.3,262.7Z M220.3,245.7 L219.5,246.7 L218.6,246.4 L217.8,245.8 L217.5,244.4 L218.0,243.6 L219.1,244.6Z M228.5,268.1 L227.8,269.6 L226.6,270.2 L224.8,269.5 L224.9,266.6 L226.3,266.8 L227.7,266.4Z M237.5,280.7 L237.6,281.5 L237.1,281.5 L236.2,281.6 L236.0,280.9 L236.0,280.6 L236.5,280.5 L236.8,280.2 L237.2,280.4Z M230.9,259.9 L230.0,260.5 L229.5,260.8 L228.5,261.1 L228.4,260.1 L228.5,259.6 L229.2,258.9 L230.2,259.1Z M231.5,255.1 L230.3,255.7 L229.0,257.2 L228.6,255.9 L228.5,255.0 L229.1,254.1 L230.5,254.2Z M224.8,264.1 L224.7,264.5 L224.4,264.7 L223.7,264.5 L223.9,264.1 L223.9,263.5 L224.4,263.4 L224.7,263.8Z M226.5,239.1 L226.5,240.0 L225.6,240.2 L224.6,240.5 L223.8,240.1 L224.2,239.7 L224.4,239.1 L225.1,238.6 L225.4,238.7 L226.4,238.8Z M223.5,251.9 L222.9,253.5 L222.1,254.9 L220.3,253.7 L218.9,252.8 L220.1,252.1 L219.2,250.8 L220.9,250.6 L221.9,251.8Z M232.3,257.0 L231.7,258.3 L230.3,258.1 L229.3,257.7 L228.8,257.3 L229.2,255.4 L230.0,255.6 L232.0,255.5Z M239.5,271.9 L238.3,274.1 L236.9,273.2 L236.1,272.3 L237.2,270.9 L239.1,271.0Z M233.3,267.1 L233.4,267.8 L231.4,268.3 L230.0,268.3 L230.8,266.7 L231.1,266.2 L231.2,264.6 L233.0,265.4Z M235.8,253.4 L235.6,253.8 L234.7,254.1 L234.1,253.9 L234.1,253.4 L234.0,252.8 L234.8,252.1 L235.4,252.8Z" fill="none" stroke="#8f8780" stroke-width="0.4" stroke-opacity="0.85"/>
<path d="M220.7,307.9 L219.9,308.0 L219.3,308.9 L218.6,308.9 L218.2,307.9 L217.7,308.0 L218.4,307.2 L218.8,306.3 L219.7,306.4 L220.4,307.1Z M240.1,330.0 L240.1,330.6 L239.4,330.7 L238.9,330.6 L238.8,330.0 L238.9,329.1 L239.6,329.2 L240.0,329.7Z M243.7,330.6 L243.7,331.5 L242.8,332.6 L242.0,331.4 L241.3,330.9 L240.5,330.5 L241.4,329.0 L242.4,329.3 L243.8,330.2Z M223.0,335.0 L222.8,335.4 L222.6,335.7 L221.9,335.5 L221.9,335.1 L221.3,334.7 L221.8,334.3 L221.9,334.2 L222.5,334.4 L222.7,334.6Z M225.5,302.6 L225.2,303.0 L224.5,303.4 L223.8,303.6 L223.5,302.9 L223.8,302.2 L224.3,301.5 L224.5,301.0 L225.4,301.8Z M230.0,306.7 L228.8,308.8 L226.6,308.9 L226.4,307.4 L227.4,305.5 L228.6,305.4Z M223.6,334.6 L223.7,335.3 L222.9,335.7 L222.8,335.5 L222.0,335.1 L221.8,334.6 L222.4,334.5 L222.7,333.8 L222.9,334.1 L223.7,334.3Z M243.4,317.9 L243.2,319.1 L242.5,319.5 L241.8,318.4 L241.8,318.1 L241.6,317.1 L242.8,316.6 L243.4,317.2Z M235.4,311.9 L234.3,313.8 L232.5,314.4 L231.4,313.0 L231.5,311.2 L232.6,310.5 L234.8,311.0Z M224.4,302.9 L224.1,303.4 L223.8,305.0 L222.8,304.1 L222.6,303.4 L222.2,302.8 L221.9,302.5 L222.8,302.1 L223.4,301.7 L224.8,302.0Z M219.2,310.5 L219.0,311.0 L217.5,311.2 L216.4,310.8 L216.7,310.0 L216.2,309.1 L217.6,308.9 L218.7,309.5Z M218.4,305.0 L217.5,305.6 L217.5,306.1 L216.7,305.9 L216.0,305.7 L215.4,305.1 L216.2,304.1 L216.4,303.9 L217.1,304.3 L217.7,304.7Z M240.6,335.0 L239.8,335.8 L239.2,335.3 L239.0,335.2 L238.2,334.6 L238.8,334.3 L239.2,334.2 L240.3,333.9Z M224.9,302.0 L225.1,302.9 L224.5,303.2 L223.6,302.9 L223.9,302.0 L223.8,301.5 L224.7,300.7 L225.2,301.5Z M223.3,317.7 L223.4,318.6 L221.8,318.7 L221.8,317.4 L222.3,316.5 L222.8,316.8Z M239.2,323.9 L239.0,324.6 L238.6,324.5 L237.8,323.8 L238.3,323.2 L238.9,323.4Z M245.9,317.5 L245.5,317.7 L244.9,318.2 L244.3,318.1 L244.0,317.8 L244.3,317.1 L244.0,316.5 L244.8,316.2 L245.1,316.2 L245.2,316.9Z M232.5,316.7 L231.5,318.1 L230.3,318.8 L229.2,318.4 L230.2,317.0 L230.6,315.8 L232.7,315.9Z M233.5,325.9 L233.2,326.7 L231.9,327.0 L231.4,326.3 L232.1,325.1 L233.3,324.6Z M234.5,337.1 L234.1,337.9 L233.2,338.3 L232.5,338.4 L232.1,337.5 L231.6,337.2 L232.3,336.3 L232.6,335.4 L233.7,335.3 L233.6,336.5Z M232.7,330.7 L232.2,330.9 L231.6,331.5 L231.0,331.0 L230.9,329.8 L231.4,330.1 L232.1,329.7Z M235.6,323.7 L235.7,324.2 L234.4,324.1 L234.2,324.1 L233.0,323.7 L232.7,323.2 L234.1,322.7 L234.6,322.5 L234.9,322.8Z" fill="none" stroke="#8f8780" stroke-width="0.4" stroke-opacity="0.85"/>
<path d="M256.7,350.9 L256.5,351.8 L256.0,352.0 L255.4,351.9 L255.5,351.2 L255.4,351.0 L255.7,350.7 L256.4,350.2 L256.7,350.4Z M256.9,341.0 L256.7,341.3 L256.3,341.6 L255.8,341.8 L255.1,341.2 L255.8,340.3 L256.4,340.1 L256.7,340.6Z M257.4,352.6 L256.4,353.0 L255.3,354.1 L254.0,353.8 L254.1,352.9 L253.3,352.2 L254.4,351.4 L255.9,350.8 L256.5,351.3Z M251.8,346.4 L251.2,346.7 L250.1,347.3 L249.7,346.1 L250.3,344.8 L251.4,345.0Z M243.0,336.6 L242.8,337.9 L240.9,338.6 L239.7,338.0 L239.2,336.1 L241.1,334.9 L241.6,335.9Z M239.3,344.9 L240.1,346.1 L238.5,346.7 L237.7,345.8 L237.7,345.3 L237.9,344.3 L238.8,343.9 L239.1,344.5Z M257.6,332.2 L256.6,332.6 L256.3,333.6 L256.0,333.3 L254.8,332.6 L255.2,331.9 L255.5,331.4 L255.7,331.5 L256.3,331.1 L256.9,331.3Z M248.5,327.3 L248.4,328.1 L248.1,328.7 L247.4,328.3 L246.5,328.1 L246.5,326.7 L247.0,326.8 L248.1,326.2 L249.4,326.6Z M242.3,329.1 L242.3,331.3 L240.3,330.5 L238.9,330.0 L239.4,329.2 L240.7,328.4 L241.9,328.3Z M242.8,340.7 L241.8,340.8 L241.6,342.1 L240.8,341.2 L240.2,341.1 L240.0,340.0 L239.4,339.6 L240.8,338.7 L241.5,339.6 L242.6,339.3Z M247.4,351.4 L247.1,351.7 L246.6,351.8 L245.9,351.7 L246.0,350.9 L246.2,349.9 L247.4,350.4Z M240.9,338.8 L239.8,339.5 L239.7,340.0 L238.7,339.9 L238.6,339.2 L238.8,338.7 L239.0,338.0 L239.6,338.0 L240.0,338.5Z M250.5,333.0 L250.8,333.8 L249.7,333.9 L248.6,333.7 L249.0,332.2 L249.6,331.9 L250.4,331.5Z M261.6,346.9 L261.7,347.0 L261.4,347.9 L260.6,347.3 L260.1,347.1 L260.3,346.3 L260.8,346.3 L261.1,345.9 L261.9,346.2Z M241.7,326.3 L240.6,328.0 L240.3,328.8 L239.0,328.7 L238.5,326.9 L238.1,326.3 L237.3,325.2 L238.9,325.0 L240.5,324.2 L241.0,325.8Z M246.6,328.5 L246.5,329.8 L245.5,329.4 L244.5,329.3 L244.2,328.6 L244.1,327.3 L244.8,326.6 L246.7,327.4Z M245.4,346.8 L244.8,347.8 L243.8,347.3 L243.1,346.9 L243.2,346.1 L243.5,345.3 L244.7,345.8Z M259.0,344.8 L258.1,345.7 L257.6,345.2 L256.7,344.7 L257.5,344.3 L257.9,344.2Z M241.4,332.2 L241.3,334.5 L240.4,333.8 L239.3,333.0 L239.1,331.9 L240.1,331.7 L240.9,331.5Z M255.1,332.3 L255.4,333.7 L253.5,333.4 L252.5,334.0 L251.6,332.5 L251.8,331.2 L253.7,331.4 L254.4,331.6Z M255.9,349.9 L254.8,350.9 L254.0,352.0 L252.1,351.0 L252.0,348.9 L253.5,348.1 L254.3,348.9Z M241.9,324.9 L241.4,326.2 L240.4,325.8 L239.5,325.1 L239.5,324.5 L240.3,323.1 L241.7,323.5Z" fill="none" stroke="#8f8780" stroke-width="0.4" stroke-opacity="0.85"/>
<path d="M293.4,189.7 L292.8,190.3 L292.3,190.7 L291.1,190.7 L291.6,190.0 L291.4,189.5 L292.3,189.2 L293.1,189.4Z M292.4,187.4 L292.4,188.0 L292.2,188.4 L291.5,187.9 L291.2,187.6 L291.2,186.9 L291.7,187.0 L292.1,186.9 L292.4,187.2Z M288.8,186.7 L288.7,188.4 L287.6,187.6 L287.2,186.9 L287.8,186.0 L288.7,185.2Z M281.2,187.5 L280.8,187.8 L280.3,188.3 L279.8,187.6 L279.9,186.9 L280.3,186.9 L281.3,186.8Z M291.7,191.1 L291.7,191.9 L290.8,191.6 L289.9,191.8 L289.8,190.8 L290.7,190.4 L291.4,190.3Z M294.4,190.3 L293.8,190.4 L293.5,190.9 L292.8,190.6 L292.9,190.3 L293.1,189.6 L293.3,189.0 L294.0,189.8Z M290.2,190.8 L289.7,192.2 L288.8,192.4 L288.1,191.4 L287.8,190.9 L288.9,190.5 L289.6,190.3Z M284.7,191.7 L284.3,192.4 L283.3,192.9 L283.2,191.8 L282.9,190.9 L283.7,190.6 L284.4,190.4Z" fill="none" stroke="#8f8780" stroke-width="0.4" stroke-opacity="0.85"/>
<path d="M266.4,200.3 L265.8,200.5 L265.2,200.7 L264.8,200.6 L264.3,200.2 L264.4,200.0 L264.8,199.4 L265.2,199.2 L266.3,199.4Z M263.8,201.5 L263.6,203.2 L263.0,203.8 L261.1,203.6 L261.5,201.8 L261.6,201.4 L262.1,200.5 L262.4,200.0 L264.1,200.9Z M269.7,202.0 L269.3,202.8 L269.0,203.1 L267.4,203.1 L267.7,202.3 L267.1,201.1 L267.4,200.6 L269.0,200.8 L269.6,200.8Z" fill="none" stroke="#8f8780" stroke-width="0.4" stroke-opacity="0.85"/>
<path d="M297.3,234.5 L297.1,235.7 L294.9,235.9 L293.3,235.1 L294.5,234.3 L295.1,232.5 L296.0,233.1Z M291.6,227.8 L290.8,228.1 L290.4,228.3 L290.0,228.3 L289.6,227.9 L288.7,227.8 L289.4,226.8 L289.5,226.2 L290.2,225.8 L291.7,226.7Z M293.4,246.4 L293.5,247.8 L292.4,247.8 L290.9,246.9 L291.1,245.5 L291.9,244.7 L293.1,245.9Z M309.6,237.7 L309.2,238.1 L308.6,238.1 L308.1,237.5 L308.4,236.4 L309.2,236.5Z M297.2,237.3 L296.9,237.9 L296.4,238.3 L295.2,237.7 L295.6,236.8 L296.1,236.3 L297.1,236.5Z M300.5,232.3 L300.3,232.6 L299.8,233.3 L299.2,232.7 L298.3,232.2 L298.0,232.0 L299.1,231.2 L299.9,230.6 L300.3,231.3Z M296.2,240.7 L296.4,242.0 L294.2,241.6 L294.0,240.3 L294.9,238.9 L295.7,239.5Z M296.5,238.5 L296.9,239.6 L296.0,240.3 L295.3,239.3 L294.4,238.4 L295.4,237.9 L295.9,237.7 L297.0,237.7Z M296.3,238.5 L297.1,239.8 L295.6,240.1 L294.7,240.2 L292.9,239.3 L292.9,237.4 L293.9,236.7 L294.9,236.4 L296.0,238.0Z M306.1,248.4 L305.2,248.9 L304.4,249.0 L304.1,248.5 L303.9,247.2 L305.1,247.3Z M292.8,231.0 L291.9,231.9 L291.2,232.0 L289.7,231.4 L290.6,230.7 L290.9,230.5 L292.0,230.0Z M299.0,246.5 L299.3,247.7 L298.4,247.5 L297.8,248.2 L296.9,247.0 L297.4,246.2 L297.7,245.3 L298.9,245.1 L299.9,245.8Z M297.4,244.5 L297.3,245.4 L296.5,245.3 L296.3,245.1 L295.5,244.9 L295.6,243.8 L296.2,243.1 L296.8,243.6 L297.2,244.0Z M304.0,230.7 L302.8,231.5 L301.8,231.1 L301.4,231.0 L300.6,230.7 L299.9,229.4 L300.5,228.9 L301.8,228.6 L303.5,229.3Z M300.0,249.2 L299.3,250.1 L297.4,249.9 L296.8,248.8 L296.8,247.1 L299.9,247.2Z M300.2,240.8 L299.7,242.4 L298.0,241.9 L297.1,241.5 L297.0,240.8 L297.2,239.4 L298.1,239.8 L299.1,239.9Z" fill="none" stroke="#8f8780" stroke-width="0.4" stroke-opacity="0.85"/>
<path d="M337.9,279.9 L338.1,280.8 L337.7,280.7 L337.2,280.3 L336.6,280.4 L336.5,279.6 L337.1,279.2 L337.7,279.1 L337.8,279.6Z M359.5,247.7 L358.9,249.6 L356.5,250.4 L355.4,248.6 L355.2,247.0 L356.9,247.0 L358.9,246.7Z M351.4,276.2 L351.1,276.6 L350.6,276.8 L349.9,277.4 L349.2,276.3 L349.2,275.8 L350.2,275.7 L350.7,274.9 L351.0,275.6Z M333.5,256.5 L333.5,257.1 L332.8,257.5 L332.2,256.9 L332.3,256.0 L332.6,255.5 L333.6,255.9Z M345.4,286.1 L345.4,287.1 L344.3,287.5 L344.0,286.5 L343.8,285.9 L344.3,285.6 L345.2,285.5Z M333.6,259.5 L332.6,260.2 L331.2,260.9 L330.4,260.7 L329.1,258.3 L330.4,258.3 L331.0,257.1 L333.6,257.5Z M352.6,256.1 L350.5,257.9 L349.3,257.9 L348.7,257.1 L349.1,254.3 L352.2,254.9Z M349.5,271.3 L349.0,271.9 L348.8,271.9 L348.2,272.1 L348.1,271.2 L348.0,270.6 L348.7,270.5 L349.0,271.0Z M333.0,258.6 L332.1,259.3 L331.3,259.6 L330.5,258.9 L331.0,258.0 L332.4,258.1Z M346.2,285.7 L345.9,287.4 L345.0,286.7 L344.3,286.1 L344.0,285.1 L345.0,284.9 L346.3,284.3Z M334.3,263.4 L334.5,265.2 L334.2,265.5 L333.1,265.5 L332.4,264.5 L331.1,263.4 L332.2,263.0 L332.8,262.1 L333.6,262.7 L334.1,263.4Z M337.4,257.5 L337.1,258.1 L336.2,258.1 L335.9,257.7 L336.5,257.0 L336.8,257.0Z M337.2,250.2 L337.2,251.0 L336.1,252.0 L335.0,252.1 L334.4,250.4 L334.4,250.0 L334.6,249.0 L336.2,248.7 L336.5,249.9Z M352.1,279.2 L351.8,279.8 L351.7,280.3 L350.7,280.0 L350.7,279.4 L351.0,278.9 L351.5,278.5 L352.1,278.3Z M350.4,249.9 L350.7,250.6 L350.0,250.7 L349.2,251.0 L348.9,250.2 L349.1,249.6 L349.5,249.1 L350.1,249.3 L350.2,249.6Z M352.6,242.9 L352.8,243.3 L352.1,243.8 L351.5,243.5 L351.1,243.3 L350.5,242.6 L351.0,242.0 L351.1,241.4 L352.1,241.9 L352.6,242.1Z M352.9,280.4 L351.9,281.2 L351.3,281.3 L349.7,280.8 L350.4,279.4 L351.2,279.2 L351.6,279.6Z M347.6,254.8 L347.6,255.7 L346.4,255.3 L346.1,255.1 L345.0,254.7 L345.5,254.1 L345.7,253.5 L346.9,252.9 L347.8,253.7Z M344.1,258.9 L344.2,259.5 L343.1,259.3 L342.7,259.1 L342.5,258.5 L343.1,257.7 L343.5,258.0Z M343.1,245.7 L342.5,246.5 L341.6,247.2 L340.5,247.2 L340.8,246.2 L340.4,244.3 L341.5,244.5 L343.5,244.8Z M334.8,266.6 L334.7,267.4 L333.7,268.7 L333.6,267.8 L332.8,267.6 L332.4,266.8 L332.8,266.4 L333.3,265.6 L334.0,265.9 L334.9,265.9Z M351.7,261.3 L350.6,261.9 L349.6,261.7 L348.5,261.9 L348.0,260.1 L349.3,259.7 L350.3,260.3Z M333.9,240.9 L333.4,241.7 L333.1,242.2 L332.5,242.0 L332.1,241.4 L332.0,240.6 L332.0,239.7 L333.1,239.8 L333.7,239.9Z M350.3,274.9 L349.6,275.6 L348.3,276.1 L346.9,276.5 L347.0,274.8 L346.9,273.6 L348.7,273.1 L349.4,273.8Z M354.7,260.9 L355.4,262.2 L353.9,262.2 L352.8,262.2 L352.0,260.4 L352.7,260.1 L353.3,258.6 L355.1,259.3Z M354.2,271.6 L354.5,272.9 L353.4,272.9 L351.7,272.7 L351.0,271.4 L352.3,270.6 L353.0,269.3 L354.7,270.1Z M342.1,260.3 L341.4,261.1 L339.1,262.1 L339.5,260.0 L340.5,259.0 L342.2,258.8Z M344.2,280.7 L344.7,281.7 L343.4,281.8 L342.7,282.8 L342.1,282.3 L341.5,281.3 L342.3,280.0 L343.0,279.9 L343.5,278.7 L345.0,279.7Z M332.9,251.4 L332.4,252.2 L332.0,252.3 L331.1,252.7 L331.0,251.7 L330.3,251.7 L331.2,251.1 L331.5,250.9 L331.8,250.5 L332.7,251.0Z M341.4,262.1 L341.8,263.6 L340.2,263.1 L339.4,263.0 L338.4,262.6 L338.8,261.0 L340.5,261.1 L341.9,260.8Z M338.8,254.8 L338.5,255.3 L338.2,255.8 L337.3,255.7 L337.0,254.8 L337.6,254.4 L338.0,254.2 L338.8,254.3Z M351.1,279.9 L351.3,280.7 L350.7,280.8 L349.6,280.8 L349.6,280.5 L349.6,279.7 L349.7,279.0 L350.5,278.8 L350.9,279.7Z M348.1,265.1 L347.4,265.6 L347.2,265.6 L346.0,265.8 L346.3,265.2 L346.1,264.3 L347.2,264.5 L348.0,264.2Z M336.6,247.0 L336.9,248.0 L335.7,247.8 L335.0,246.9 L335.4,245.9 L336.3,246.0Z M344.0,262.4 L343.9,263.0 L343.3,263.0 L343.2,262.7 L343.0,262.0 L343.4,261.8 L344.3,261.9Z M344.9,245.5 L345.7,246.5 L344.2,247.3 L343.9,246.3 L342.7,246.0 L343.7,245.4 L343.6,244.7 L344.3,244.8 L345.7,244.9Z M345.1,270.5 L343.6,271.1 L342.7,271.8 L341.6,270.9 L341.0,269.9 L342.2,268.2 L344.0,268.7Z M355.4,242.6 L355.0,244.3 L353.2,243.6 L352.3,242.1 L354.0,241.3 L355.0,240.9Z M344.7,242.2 L345.0,243.4 L343.8,243.9 L342.9,242.8 L341.9,242.8 L342.2,241.1 L342.1,239.9 L343.4,240.6 L344.6,240.7Z M338.5,266.4 L337.7,267.8 L336.5,267.6 L335.7,266.6 L336.5,265.3 L338.1,265.1Z M341.5,279.0 L341.3,279.5 L340.7,279.9 L339.9,279.3 L340.6,278.6 L341.3,278.1Z M344.1,268.2 L343.7,270.0 L340.9,269.7 L340.4,268.5 L341.1,267.1 L343.0,266.6Z M349.7,263.5 L349.9,263.8 L349.4,264.4 L349.0,264.2 L348.6,263.7 L348.1,263.2 L348.5,262.6 L348.7,262.6 L349.4,263.0 L350.0,263.2Z M355.2,266.1 L354.6,266.8 L354.3,267.0 L353.5,266.7 L353.4,265.9 L354.1,265.4 L355.2,265.5Z M342.8,273.1 L342.6,273.5 L342.0,273.6 L341.0,274.1 L340.6,273.6 L340.6,273.0 L340.8,272.5 L341.5,271.7 L342.4,271.9 L342.6,272.2Z M345.5,253.1 L344.8,253.4 L344.0,253.7 L343.7,253.2 L343.0,252.6 L343.7,251.5 L345.1,251.6Z M339.9,250.7 L339.6,251.4 L338.3,251.6 L337.5,250.8 L338.6,249.7 L339.7,249.5Z M343.7,271.9 L343.5,272.7 L342.6,272.5 L342.3,272.3 L341.6,272.2 L341.8,271.6 L342.4,271.5 L342.7,271.4 L343.0,271.6Z M353.5,267.1 L352.2,268.4 L351.5,269.2 L350.6,267.7 L349.3,267.1 L350.3,265.4 L351.5,264.7 L352.5,266.1Z M344.6,277.1 L344.7,278.0 L343.1,278.0 L343.1,277.2 L343.5,276.3 L344.4,275.8Z M345.4,238.3 L344.9,239.3 L343.7,239.9 L343.0,238.1 L343.8,236.5 L345.1,237.5Z M339.8,262.4 L339.9,263.3 L339.9,264.0 L339.1,264.1 L337.7,263.2 L338.0,262.5 L338.5,262.2 L338.8,261.7 L339.9,261.5 L340.4,261.5Z M345.5,264.4 L345.4,265.4 L344.7,264.9 L343.9,264.4 L344.8,263.5 L345.3,263.4Z M351.3,251.3 L351.1,252.0 L350.6,253.0 L349.1,252.2 L347.6,251.7 L347.7,250.0 L348.7,248.6 L349.8,249.2 L351.6,249.6Z M345.0,270.4 L345.7,271.4 L344.8,271.9 L343.6,271.6 L343.4,270.1 L343.6,269.6 L344.5,268.9 L345.2,269.5Z M338.5,263.6 L338.3,265.2 L337.5,264.9 L336.4,264.9 L336.7,264.1 L337.1,263.4 L337.7,262.6 L338.2,263.3Z M334.0,256.7 L334.2,257.4 L332.5,257.6 L331.0,258.5 L330.4,258.3 L330.8,256.3 L329.9,255.7 L332.0,255.4 L333.2,254.5 L334.1,255.3Z M361.5,253.5 L360.7,255.6 L359.2,255.0 L358.1,254.7 L357.4,253.2 L359.6,252.4 L360.9,252.3Z M353.9,252.8 L353.5,253.2 L353.0,253.0 L352.6,253.0 L351.9,252.7 L352.0,252.0 L353.0,252.0 L353.3,252.2Z M334.6,257.6 L334.2,258.1 L333.6,258.0 L333.3,258.1 L332.7,258.2 L332.7,257.6 L332.4,256.8 L333.3,256.6 L333.8,256.2 L334.3,257.1Z" fill="none" stroke="#8f8780" stroke-width="0.4" stroke-opacity="0.85"/>
<path d="M365.3,221.8 L365.3,222.6 L364.6,222.5 L364.0,222.9 L363.3,221.5 L363.8,221.1 L364.7,220.7 L365.1,221.1Z M358.4,214.5 L358.2,215.5 L357.5,215.3 L357.2,214.8 L356.8,214.3 L357.3,213.9 L357.8,214.1 L358.5,214.0Z M362.2,221.2 L362.1,222.1 L361.0,221.7 L360.7,221.1 L360.9,220.6 L362.0,220.2Z M371.9,218.0 L372.0,219.1 L370.1,219.3 L370.0,218.0 L370.7,217.4 L371.7,217.3Z M372.4,213.4 L372.7,214.0 L371.9,214.7 L371.6,214.1 L371.2,213.7 L371.0,213.0 L371.6,212.3 L371.7,212.0 L372.3,212.7Z M357.4,210.4 L357.5,211.2 L356.7,211.2 L355.5,211.7 L355.1,210.5 L355.2,209.3 L356.4,209.3 L357.4,209.2Z" fill="none" stroke="#8f8780" stroke-width="0.4" stroke-opacity="0.85"/>
<path d="M344.9,234.7 L344.3,235.8 L343.2,236.7 L341.8,235.1 L342.5,234.2 L342.9,233.6 L343.8,234.1Z M337.3,234.0 L337.0,235.1 L336.1,235.4 L334.9,235.1 L334.1,233.8 L334.6,232.8 L335.6,232.2 L337.0,232.8Z M336.6,232.7 L335.9,233.4 L335.0,233.6 L334.6,233.0 L334.5,232.1 L335.0,231.7 L336.0,231.7Z M342.9,230.8 L341.9,231.6 L341.4,232.0 L340.5,231.9 L339.6,230.5 L339.7,229.7 L340.8,228.9 L341.7,229.9Z M334.3,229.4 L334.3,230.1 L333.6,229.9 L332.6,230.2 L332.9,229.7 L332.9,229.0 L332.8,228.1 L333.4,228.0 L333.9,228.8Z M343.4,225.9 L343.0,226.5 L342.3,227.0 L341.8,225.8 L342.0,224.8 L342.8,225.0Z M339.3,225.6 L339.3,226.4 L339.2,226.8 L338.4,226.0 L338.1,225.8 L337.7,225.3 L338.2,225.0 L338.9,225.1 L339.4,225.2Z M344.9,224.3 L344.5,225.9 L342.4,226.1 L342.3,224.5 L342.9,223.7 L344.4,223.2Z" fill="none" stroke="#8f8780" stroke-width="0.4" stroke-opacity="0.85"/>
<path d="M230.8,354.4 L230.4,355.1 L229.5,355.4 L228.5,356.1 L228.3,354.9 L228.7,354.1 L229.0,353.7 L229.4,353.8 L230.4,353.8Z M231.7,354.3 L231.5,355.1 L231.0,355.5 L230.5,355.4 L230.2,355.2 L229.6,354.8 L230.1,354.1 L230.6,353.5 L230.9,354.2 L231.5,354.1Z M257.2,366.4 L257.0,367.3 L256.7,367.3 L255.1,367.2 L255.7,366.6 L255.7,365.2 L256.5,365.6 L257.7,365.1Z M253.4,376.1 L253.3,376.6 L252.5,376.6 L252.0,376.3 L252.2,376.0 L252.5,375.3 L253.3,375.4Z M238.5,368.7 L238.5,369.8 L237.6,370.1 L236.3,370.0 L236.0,367.7 L237.5,367.7 L238.7,367.2Z M244.1,356.9 L244.6,357.7 L243.1,358.7 L242.8,357.7 L241.7,357.6 L241.7,356.0 L242.6,355.4 L243.5,354.9 L244.4,355.8Z M242.3,368.0 L241.7,368.9 L241.8,369.6 L240.8,369.2 L240.2,369.1 L239.7,368.2 L240.3,367.8 L240.8,367.3 L241.2,367.5 L241.9,367.8Z M255.2,374.5 L255.4,375.5 L253.4,375.7 L253.0,374.8 L252.3,373.0 L254.0,373.2 L255.6,372.5Z M247.5,367.1 L247.2,367.9 L246.3,368.0 L245.9,366.9 L246.2,366.4 L247.1,366.4Z M238.6,375.5 L238.3,376.6 L237.9,377.8 L236.9,377.7 L235.4,377.3 L235.8,375.3 L236.3,375.0 L236.5,373.9 L237.7,374.4 L237.8,374.8Z M241.2,357.3 L241.0,358.3 L240.0,358.6 L239.4,358.4 L239.1,358.0 L238.7,357.6 L238.7,356.9 L239.7,357.0 L240.2,356.9 L241.1,357.1Z M222.1,363.9 L221.5,364.4 L220.8,365.0 L220.6,364.9 L220.2,363.8 L220.6,363.5 L220.9,363.2 L221.9,363.6Z" fill="none" stroke="#8f8780" stroke-width="0.4" stroke-opacity="0.85"/>
<path d="M229.9,167.4 L228.2,168.6 L227.6,170.0 L225.3,170.5 L224.4,168.4 L224.8,166.9 L225.2,166.2 L227.5,165.7 L227.9,167.3Z M233.7,159.3 L232.2,161.3 L231.8,162.4 L229.9,162.1 L229.2,160.8 L228.0,159.1 L228.4,158.3 L230.6,157.4 L232.3,157.2 L234.1,158.9Z M223.0,175.7 L224.2,177.9 L221.8,178.7 L219.9,177.4 L217.5,176.1 L219.6,175.0 L221.2,173.1 L222.3,174.8Z M319.6,176.1 L319.7,178.4 L316.8,179.9 L314.9,176.2 L316.3,174.1 L318.9,172.8Z M320.6,168.2 L318.6,169.7 L314.8,170.5 L313.8,168.8 L316.1,165.6 L318.0,164.9Z M340.0,203.9 L339.3,205.1 L338.0,205.8 L336.5,205.1 L336.2,202.7 L337.7,202.0 L339.0,203.1Z M352.9,212.5 L351.9,212.8 L351.9,215.1 L349.5,214.4 L348.6,213.0 L346.5,211.6 L347.4,209.3 L349.3,210.3 L351.5,209.1 L351.8,210.5Z M394.5,215.9 L393.3,216.9 L392.4,218.3 L390.9,217.2 L390.3,216.4 L390.0,214.7 L391.2,214.5 L392.1,213.4 L393.4,215.2Z M386.7,232.2 L387.1,233.5 L384.8,234.5 L383.0,233.5 L383.9,231.5 L384.2,230.0 L386.4,231.0Z M396.4,252.4 L396.4,253.3 L393.9,253.3 L391.8,251.9 L393.3,250.1 L397.2,249.7Z M419.2,240.2 L419.0,241.3 L418.7,242.3 L416.0,242.4 L416.3,241.2 L415.5,239.7 L416.3,238.2 L418.5,238.2 L420.2,238.5Z M414.2,228.1 L413.7,229.2 L410.9,230.7 L410.1,229.4 L407.1,229.5 L409.3,227.4 L409.8,226.1 L411.9,224.7 L413.3,225.9Z M432.9,225.1 L432.1,226.9 L429.9,229.1 L429.1,227.5 L427.4,226.1 L427.4,223.6 L429.1,221.8 L430.0,222.9 L431.6,223.2Z M445.2,229.4 L445.1,231.6 L442.9,232.4 L441.3,232.2 L440.3,229.7 L441.4,228.5 L442.8,228.7 L444.7,228.2Z M451.5,245.6 L450.3,246.4 L449.7,246.3 L447.7,247.6 L448.3,245.8 L447.3,245.1 L448.0,244.2 L448.8,243.4 L449.9,243.6 L450.0,244.1Z M423.9,270.8 L423.6,272.5 L420.9,272.0 L419.5,271.5 L418.1,272.0 L417.5,270.4 L418.6,268.9 L419.0,266.6 L420.7,268.3 L423.0,268.0Z M402.9,285.6 L401.9,286.7 L400.1,287.7 L399.4,288.3 L398.1,287.9 L398.6,285.9 L399.2,285.0 L399.6,284.1 L400.1,284.7 L402.7,285.1Z M415.1,300.9 L413.1,301.5 L411.2,303.3 L409.4,300.8 L410.3,298.7 L411.4,297.0 L413.5,297.3Z M393.0,318.2 L393.6,319.6 L392.6,319.5 L391.3,319.2 L390.6,319.5 L390.2,317.7 L390.5,317.4 L391.5,316.0 L392.9,316.1 L392.9,317.7Z M406.6,345.2 L406.5,347.8 L403.4,348.0 L402.3,348.9 L402.0,346.5 L401.0,343.2 L403.8,343.7 L405.4,344.6Z M398.9,369.7 L397.1,370.9 L395.4,372.1 L394.6,370.3 L393.8,368.5 L395.6,368.6 L397.9,367.9Z M419.5,377.9 L419.4,379.9 L417.8,379.9 L417.3,380.5 L416.4,378.2 L415.5,377.3 L417.4,376.3 L418.4,375.0 L420.1,376.9Z M427.2,392.3 L425.8,392.9 L424.0,393.4 L423.5,394.3 L421.6,393.2 L421.3,391.3 L422.7,391.5 L422.8,390.2 L424.1,389.6 L425.5,391.1Z M376.1,299.8 L375.4,301.4 L373.8,302.1 L371.2,302.9 L370.5,300.3 L372.6,299.1 L373.4,298.6 L375.2,296.1 L376.3,296.6Z M382.6,330.4 L381.0,331.3 L380.3,333.4 L378.4,332.9 L376.6,332.1 L377.4,328.7 L378.3,326.6 L381.1,327.3 L382.8,327.0Z M410.2,330.5 L409.2,331.1 L407.4,332.0 L405.8,329.6 L407.6,329.0 L408.2,329.0Z M184.5,352.7 L185.0,353.5 L182.8,355.2 L180.9,355.2 L179.2,353.0 L179.1,352.6 L179.6,349.9 L180.9,350.4 L182.3,350.1 L184.4,351.2Z M173.9,345.9 L173.3,348.5 L171.6,348.9 L170.0,347.4 L168.5,346.2 L169.6,342.9 L171.6,342.2 L174.5,344.2Z M161.4,329.9 L162.2,330.9 L161.0,332.9 L159.8,332.7 L159.2,331.0 L157.0,330.7 L158.0,328.5 L159.4,328.4 L160.6,327.5 L161.6,328.6Z M181.1,311.6 L180.3,313.0 L178.5,315.0 L175.7,314.4 L174.8,312.9 L175.7,310.7 L174.7,309.0 L178.7,310.1 L179.3,310.2Z M168.7,302.4 L169.1,303.7 L166.5,305.3 L164.0,303.5 L164.1,300.2 L166.1,300.2 L167.9,300.5Z M198.3,306.3 L197.6,306.8 L195.5,308.2 L194.2,308.5 L194.5,305.6 L194.2,304.2 L195.5,304.1 L198.1,304.2Z M202.6,345.5 L201.4,346.2 L200.9,348.3 L199.3,348.4 L198.4,346.8 L197.4,345.6 L197.8,342.2 L199.9,343.0 L200.3,342.7 L201.5,343.2Z M197.5,369.4 L196.2,370.7 L195.7,372.2 L193.8,371.7 L192.5,370.3 L192.9,369.6 L194.0,368.8 L195.0,368.8 L197.0,368.0Z M191.5,395.4 L190.4,396.4 L188.4,397.2 L186.9,394.1 L188.4,393.4 L191.7,393.3Z M209.6,385.7 L209.3,387.1 L206.1,389.3 L204.5,386.8 L203.6,384.6 L204.9,381.2 L207.3,382.8 L209.1,383.1Z M214.4,405.6 L213.4,407.2 L212.1,408.4 L209.8,408.0 L210.5,406.3 L210.2,405.1 L211.5,404.1 L212.1,404.9 L213.6,404.6Z M283.3,300.0 L282.6,301.9 L280.5,301.4 L280.2,300.2 L281.1,298.2 L282.7,298.9Z M311.8,347.8 L311.1,349.9 L309.5,349.1 L308.8,349.0 L308.1,347.3 L309.1,345.0 L311.4,346.1Z M333.9,342.2 L331.5,342.9 L330.1,345.1 L329.4,343.7 L327.6,343.2 L327.6,341.8 L328.3,340.0 L328.2,338.3 L330.3,339.7 L333.5,339.4Z M352.5,362.0 L350.7,363.7 L349.5,363.3 L348.2,363.5 L348.2,361.6 L349.6,361.0 L351.3,361.0Z M363.7,379.2 L361.4,381.5 L360.5,383.1 L359.2,382.1 L357.9,381.6 L356.9,378.4 L357.6,377.1 L360.1,378.2 L362.6,377.2Z M298.2,406.6 L297.6,408.3 L295.4,407.2 L294.9,407.0 L294.6,405.0 L295.0,403.3 L296.7,404.4Z M270.2,399.9 L270.1,402.0 L267.3,401.4 L265.0,401.4 L266.3,398.6 L267.0,398.0 L269.9,397.7Z M206.7,262.5 L206.1,263.6 L205.3,263.1 L203.8,262.6 L203.8,261.8 L203.7,261.0 L205.2,259.6 L206.7,261.0Z M221.2,300.2 L220.9,301.6 L218.5,301.9 L218.5,300.4 L218.8,298.8 L220.6,298.7Z M249.5,301.0 L247.1,301.2 L246.4,303.1 L244.9,303.5 L244.6,300.9 L244.4,300.3 L243.8,298.2 L245.9,298.7 L246.1,296.4 L247.4,298.6Z M162.4,259.4 L162.6,263.3 L158.7,261.5 L157.4,260.5 L159.2,258.6 L160.6,258.1Z M174.1,284.7 L172.9,286.3 L171.5,285.9 L171.0,284.7 L171.5,284.1 L173.0,283.6Z M187.5,275.1 L187.4,276.2 L186.9,277.5 L185.9,277.2 L184.2,276.6 L183.9,274.6 L184.6,273.8 L185.0,273.0 L186.5,273.4 L188.0,274.0Z M346.7,189.6 L346.2,191.5 L345.3,192.3 L344.1,190.8 L343.3,189.6 L343.9,188.7 L344.8,188.1 L345.8,188.9Z M332.3,175.5 L330.6,177.8 L328.7,177.9 L327.2,176.0 L329.3,174.9 L330.5,174.8Z M306.5,174.9 L305.6,175.9 L305.8,176.7 L304.4,176.2 L303.6,175.8 L303.5,174.6 L303.6,173.6 L304.8,173.4 L305.7,174.4Z" fill="none" stroke="#9d9792" stroke-width="0.4" stroke-opacity="0.8"/>
<path d="M210.8,206.6 L210.6,208.5 L208.6,207.8 L208.9,206.4 L208.8,204.9 L210.2,205.7Z M243.7,225.2 L243.0,225.5 L242.3,225.5 L242.0,225.0 L242.6,224.0 L243.4,224.2Z M243.2,199.7 L242.7,201.1 L241.8,200.5 L241.5,199.9 L241.9,199.2 L242.7,199.4Z M220.1,222.9 L219.3,223.6 L218.5,223.9 L217.4,224.0 L216.6,223.1 L216.0,222.6 L217.6,221.9 L217.9,221.8 L219.2,222.3Z M223.8,229.6 L223.4,230.2 L222.8,230.8 L222.4,230.9 L222.0,230.3 L222.2,229.8 L222.3,229.6 L222.7,228.6 L223.0,229.3 L223.4,229.6Z M241.8,222.0 L241.0,223.8 L240.1,223.0 L239.1,223.3 L238.5,222.0 L239.0,221.4 L240.0,220.9 L240.4,221.5Z M210.6,192.3 L211.1,193.1 L209.3,193.3 L208.7,192.5 L208.6,191.9 L209.5,191.2 L210.4,191.3Z M244.8,225.2 L243.5,226.8 L242.6,227.2 L241.1,226.5 L241.9,225.0 L242.0,224.2 L243.9,224.6Z M209.0,192.9 L208.1,193.8 L206.7,194.3 L205.1,194.1 L204.1,193.4 L204.6,191.3 L206.1,191.4 L207.4,191.5Z M241.6,217.2 L239.8,218.7 L238.6,218.1 L238.0,217.8 L237.7,215.7 L240.0,216.1Z M244.2,216.2 L243.5,217.3 L242.5,218.3 L241.8,217.6 L241.2,216.9 L241.0,216.1 L241.8,214.3 L242.9,214.2 L243.8,215.0Z M227.7,194.4 L226.6,195.1 L226.4,196.0 L225.0,195.9 L225.2,195.1 L224.6,194.1 L225.0,193.2 L226.5,193.7 L226.7,194.0Z M245.6,213.9 L245.4,215.4 L244.1,215.4 L243.7,214.9 L243.2,214.3 L242.8,213.2 L244.0,212.1 L244.8,213.2Z M212.3,196.5 L212.8,196.9 L211.6,198.2 L210.8,198.1 L210.1,197.0 L210.5,196.1 L210.2,195.9 L210.3,194.6 L211.9,194.2 L212.2,196.1Z M245.1,193.0 L243.8,194.5 L242.3,193.2 L240.7,193.8 L241.2,191.1 L242.4,190.7 L243.4,191.4Z M229.3,203.1 L229.0,203.5 L228.5,204.0 L227.9,203.9 L227.6,203.2 L227.4,202.9 L227.7,202.1 L228.2,202.4 L228.9,202.2Z M214.4,221.5 L214.1,221.9 L213.3,222.3 L213.3,221.3 L213.4,220.6 L214.1,220.6Z M247.1,228.6 L247.3,229.5 L247.0,230.2 L245.2,229.4 L244.5,229.2 L244.2,228.0 L245.2,227.3 L246.4,227.4 L247.6,227.1Z M208.0,195.3 L207.6,196.0 L207.2,197.0 L205.8,197.3 L205.4,196.5 L204.6,195.4 L205.4,193.7 L206.5,194.0 L208.1,193.2 L208.1,194.7Z M242.3,223.6 L242.1,225.0 L241.5,225.8 L240.8,224.5 L240.0,224.3 L239.8,223.4 L240.0,222.7 L239.8,221.8 L241.4,222.2 L242.3,222.7Z M247.5,214.7 L247.8,216.1 L246.9,216.3 L246.3,216.1 L245.3,215.5 L245.1,214.3 L246.1,213.6 L246.8,213.6 L247.2,214.2Z M225.7,199.5 L225.1,200.7 L224.4,200.6 L223.1,200.3 L223.1,199.0 L224.4,198.8 L225.5,198.9Z M213.1,192.4 L213.3,192.9 L212.2,192.9 L211.9,192.5 L211.8,191.6 L212.5,191.7 L212.9,191.9Z M231.9,230.2 L231.4,231.0 L231.0,230.8 L229.9,231.4 L229.8,230.9 L229.4,230.2 L229.7,229.1 L230.3,228.5 L230.8,228.7 L231.4,229.3Z M228.4,222.7 L227.9,223.9 L227.0,223.8 L226.9,223.2 L226.4,222.8 L227.1,222.5 L227.9,222.1Z M214.3,204.9 L213.9,206.4 L212.4,205.8 L211.1,205.4 L211.6,204.4 L212.3,204.0 L213.2,204.2Z M232.6,205.9 L232.3,206.2 L232.2,207.7 L230.0,207.4 L229.3,206.8 L230.1,205.7 L229.8,204.0 L230.2,203.8 L231.4,204.6 L232.2,204.3Z M230.7,228.2 L229.7,229.4 L228.5,231.0 L226.5,229.7 L227.5,227.7 L228.5,227.5 L230.4,227.2Z M209.5,215.5 L208.8,216.1 L208.2,216.3 L207.7,216.1 L207.5,215.5 L207.6,214.7 L207.8,214.2 L208.8,214.5Z M248.0,205.6 L248.0,206.0 L247.6,206.1 L246.7,206.5 L246.3,206.0 L246.3,205.5 L246.9,205.2 L246.8,204.3 L247.4,204.7 L247.7,205.0Z M241.4,229.7 L241.1,231.1 L239.3,231.1 L239.3,230.6 L238.2,229.5 L237.8,228.6 L239.8,227.8 L241.5,228.5Z M237.6,231.9 L236.3,232.9 L235.3,233.0 L233.9,231.3 L234.8,230.6 L236.2,230.7Z M206.1,211.8 L205.5,212.9 L204.9,212.4 L204.3,212.3 L204.5,211.6 L205.1,211.0 L206.0,211.2Z M245.1,227.7 L244.8,228.1 L244.1,228.8 L243.8,228.2 L243.5,228.1 L243.2,227.7 L243.3,227.2 L243.7,226.6 L244.1,227.1 L244.3,227.3Z M243.1,235.6 L242.5,236.4 L242.2,236.7 L241.6,236.2 L241.2,235.6 L241.6,235.2 L242.2,234.8 L242.9,235.1Z M244.9,234.7 L243.9,235.1 L243.2,235.2 L243.0,236.4 L241.7,235.8 L242.3,234.3 L241.6,233.8 L242.3,233.0 L243.5,233.4 L243.9,233.8Z M244.3,220.9 L244.7,222.6 L243.8,222.6 L242.4,222.6 L242.3,221.9 L241.7,220.9 L241.6,220.2 L243.0,220.2 L243.7,219.5 L243.9,220.7Z M223.9,226.9 L224.1,228.0 L222.6,228.0 L221.4,228.0 L221.4,227.2 L222.2,226.1 L223.1,225.5 L223.2,226.4Z M241.1,210.3 L241.0,210.8 L240.5,211.7 L239.9,210.8 L238.7,210.9 L239.1,209.7 L239.6,209.0 L240.1,209.3 L240.6,209.5Z M242.4,200.0 L241.9,200.2 L241.1,200.5 L240.7,200.4 L239.6,199.3 L240.2,198.3 L241.4,197.8 L242.4,198.1Z M216.7,192.4 L216.3,194.5 L214.2,193.9 L212.6,193.3 L213.2,191.4 L215.4,190.7Z M244.6,227.3 L244.2,227.6 L244.1,227.7 L243.4,227.9 L243.3,227.8 L243.2,227.4 L243.1,226.8 L243.7,226.4 L243.9,226.8 L244.6,226.7Z M245.7,207.8 L245.5,208.5 L244.4,208.1 L243.7,208.4 L243.2,207.9 L243.2,207.2 L243.6,205.8 L244.5,205.7 L245.1,206.4Z M238.6,229.2 L237.7,229.4 L237.0,229.4 L236.0,229.7 L236.5,228.6 L237.0,227.6 L238.2,227.7Z M210.7,218.0 L210.0,219.0 L208.8,219.0 L208.9,218.3 L209.5,217.5 L210.0,217.0Z M216.8,226.1 L216.2,226.7 L215.5,226.5 L215.0,225.9 L215.3,225.1 L216.2,225.2Z M221.4,226.5 L222.0,228.1 L220.2,227.8 L218.9,226.5 L219.8,225.8 L221.4,225.3Z M207.9,213.4 L207.8,214.5 L207.0,214.4 L206.1,213.6 L207.0,212.6 L207.5,212.3Z M236.3,204.3 L236.6,205.9 L234.9,205.5 L233.8,204.0 L235.1,203.2 L236.1,203.5Z M232.7,189.7 L232.4,190.6 L231.1,190.3 L230.3,190.5 L231.0,189.5 L231.2,188.6 L231.6,189.2Z M234.0,205.4 L233.5,206.8 L232.6,206.8 L232.2,205.5 L232.4,204.2 L233.5,204.9Z M223.3,212.9 L222.5,213.6 L221.8,213.5 L221.2,212.7 L221.9,211.8 L222.5,212.5Z M245.6,199.6 L245.5,200.5 L243.9,201.9 L243.1,201.7 L242.4,199.6 L243.0,199.0 L243.6,197.9 L244.9,197.2 L245.8,198.3Z M229.9,195.3 L228.6,197.1 L227.5,196.5 L227.3,195.5 L227.8,194.9 L228.9,194.3Z M229.0,229.7 L228.7,230.3 L228.5,230.8 L227.7,230.3 L227.5,230.1 L227.0,229.5 L227.9,229.1 L228.4,228.9 L228.6,229.1Z M232.1,226.8 L231.0,228.0 L230.0,227.7 L229.2,227.4 L230.3,226.3 L231.1,225.6Z M205.1,200.8 L204.7,202.4 L203.8,201.7 L203.3,201.7 L203.1,201.3 L203.2,200.2 L203.7,200.3 L204.6,199.9Z M239.1,212.8 L239.5,214.1 L237.9,214.9 L236.5,214.5 L235.8,214.0 L236.8,212.5 L237.1,212.1 L238.2,211.5 L239.6,212.1Z M248.2,218.5 L248.2,219.5 L247.0,219.4 L246.0,219.4 L246.3,218.7 L246.4,218.0 L247.2,217.4 L247.6,218.0Z M209.5,212.1 L208.7,212.8 L208.2,213.0 L207.3,213.0 L207.3,211.8 L207.7,211.4 L207.8,210.8 L208.9,211.5Z M249.5,225.7 L249.2,226.8 L248.5,226.3 L248.2,226.0 L247.8,225.0 L248.8,225.0 L249.6,225.0Z M215.4,202.8 L215.3,203.4 L214.6,203.6 L214.2,203.5 L213.7,203.6 L213.9,202.7 L213.9,202.2 L214.2,202.3 L214.6,202.0 L215.5,202.5Z M237.4,191.7 L237.2,192.7 L235.7,192.8 L235.5,191.9 L236.1,191.3 L236.6,190.8Z M222.4,228.2 L222.6,229.4 L220.9,230.2 L220.2,229.1 L219.0,229.0 L218.3,228.1 L219.9,226.9 L220.4,227.1 L221.8,227.0Z M211.8,213.6 L211.7,214.1 L211.2,214.6 L210.6,214.7 L210.3,214.3 L210.5,213.7 L210.1,213.1 L210.8,213.1 L211.4,212.6 L211.6,213.5Z M225.8,199.7 L225.0,200.4 L224.2,200.8 L222.9,200.7 L223.5,200.1 L223.4,199.3 L224.1,198.6 L224.8,199.5Z M205.0,194.6 L205.0,195.7 L204.0,195.3 L202.8,195.2 L203.6,194.4 L203.8,194.0 L204.8,194.3Z M244.0,226.9 L243.0,227.2 L241.8,227.9 L241.8,226.7 L241.9,225.7 L243.4,226.1Z M223.6,211.9 L223.1,212.4 L222.4,212.9 L221.4,211.8 L221.5,210.8 L222.7,210.1 L223.3,210.8Z M220.5,229.0 L220.6,230.5 L219.6,230.5 L218.3,229.8 L218.1,229.0 L218.5,227.5 L219.4,227.1 L220.7,227.7Z M247.8,229.0 L247.2,229.7 L246.4,229.8 L245.0,229.4 L245.3,228.8 L245.8,228.2 L246.2,227.4 L246.9,227.7Z M232.6,212.9 L232.0,213.5 L231.0,215.1 L230.6,213.6 L228.7,213.2 L229.5,211.9 L230.3,211.4 L231.8,210.3 L232.7,211.2Z M209.0,200.7 L208.3,202.1 L207.2,202.1 L206.6,200.8 L207.5,199.9 L208.2,199.9Z M219.7,209.8 L219.3,211.6 L217.5,212.0 L216.6,210.5 L218.1,207.9 L219.4,209.2Z M229.2,215.1 L228.0,215.6 L227.4,215.4 L225.8,215.1 L225.8,213.0 L226.7,212.9 L228.2,213.1Z M224.1,227.6 L223.0,229.1 L221.9,230.2 L221.6,228.9 L220.8,228.6 L220.3,227.4 L220.7,226.7 L222.1,227.1 L222.6,227.4Z M216.4,215.9 L216.5,216.9 L214.6,217.7 L213.9,216.9 L214.3,215.5 L215.3,214.5 L216.1,214.8Z M211.7,194.4 L210.4,194.6 L209.0,195.2 L209.2,194.0 L209.4,192.6 L211.4,192.9Z M240.6,234.8 L240.5,235.2 L240.0,235.5 L239.0,235.3 L238.6,235.1 L237.8,234.4 L238.2,234.0 L238.7,233.1 L239.9,233.6 L240.2,233.7Z M244.6,229.5 L244.0,230.2 L243.2,230.5 L242.3,230.4 L242.0,229.8 L241.9,229.2 L242.3,228.0 L243.5,227.8 L243.9,228.8Z M238.4,238.5 L238.4,239.6 L236.4,239.5 L235.2,239.8 L234.8,237.5 L236.1,235.9 L238.0,237.5Z M228.6,219.1 L228.3,220.0 L227.3,219.5 L226.5,218.7 L226.6,217.7 L228.5,217.7Z M239.4,220.1 L237.7,222.2 L236.3,221.6 L234.5,220.2 L236.1,219.5 L238.2,218.7Z M239.2,207.3 L238.8,208.8 L237.1,209.6 L236.4,207.3 L236.1,205.9 L238.2,205.8Z M239.6,213.7 L239.0,214.5 L237.4,214.5 L236.8,214.1 L236.7,213.4 L237.2,212.0 L238.8,212.9Z M213.2,222.5 L213.1,223.2 L212.0,223.2 L211.9,222.3 L211.7,221.6 L213.0,221.4Z M231.7,203.2 L231.3,204.0 L230.2,205.2 L229.9,205.0 L228.2,203.7 L229.3,203.1 L229.9,202.1 L230.5,201.3 L231.4,202.4Z M230.1,206.2 L229.2,208.1 L227.4,208.0 L226.8,206.5 L227.2,205.2 L229.1,206.0Z M211.8,221.6 L211.9,222.6 L211.3,223.0 L210.3,222.7 L209.4,222.2 L209.7,221.5 L210.0,221.4 L210.6,221.1 L211.1,220.9 L211.8,220.8Z M243.1,226.8 L242.7,228.4 L242.1,228.6 L241.0,228.4 L240.5,228.1 L240.9,227.1 L240.1,226.4 L241.4,225.7 L242.2,226.3 L242.8,226.5Z" fill="none" stroke="#c9603c" stroke-width="0.35" stroke-opacity="0.6"/>
<polyline points="250.4,216.6 256.3,219.6 263.7,224.0 271.1,232.9 278.5,230.7 282.9,229.2 288.8,225.5 299.2,221.8 306.6,219.6 313.2,217.4 314.0,212.2 316.9,207.8 318.5,201.8" fill="none" stroke="#363636" stroke-width="0.8" stroke-linejoin="round"/>
<polyline points="271.1,232.9 274.0,237.3 276.2,241.8 276.5,244.4 275.4,248.9 272.1,252.2 268.7,255.5 266.5,260.0 265.0,265.0" fill="none" stroke="#363636" stroke-width="0.8" stroke-linejoin="round"/>
<polyline points="234.9,247.2 236.6,244.4 243.2,243.3 245.5,244.4 248.8,246.6 257.6,250.0 262.1,255.5 265.4,260.0 266.5,262.2" fill="none" stroke="#363636" stroke-width="0.8" stroke-linejoin="round"/>
<polyline points="234.9,247.2 235.5,250.0 236.6,256.6 238.8,257.7 240.5,261.1 241.0,266.6 239.4,270.5 241.0,273.3 242.1,275.5 245.5,276.6 247.7,278.2 249.3,282.1 248.8,287.7 247.7,292.1 248.2,293.9" fill="none" stroke="#363636" stroke-width="0.8" stroke-linejoin="round"/>
<polyline points="217.7,265.5 218.8,272.2 221.1,276.6 223.8,282.1 218.8,284.3 213.3,286.6" fill="none" stroke="#363636" stroke-width="0.8" stroke-linejoin="round"/>
<polyline points="217.7,265.5 221.0,263.5" fill="none" stroke="#363636" stroke-width="0.8" stroke-linejoin="round"/>
<polyline points="228.3,268.3 232.2,269.9 235.5,271.0 239.4,272.2" fill="none" stroke="#363636" stroke-width="0.8" stroke-linejoin="round"/>
<polyline points="212.8,308.3 221.6,308.8 230.5,309.9 236.0,311.6 241.6,311.1 248.3,311.0" fill="none" stroke="#363636" stroke-width="0.8" stroke-linejoin="round"/>
<polyline points="210.5,320.2 210.5,323.8 209.4,329.3 208.3,334.9 211.7,336.0 215.0,337.1 219.4,336.0 221.6,340.4 222.7,345.0 217.2,345.9" fill="none" stroke="#363636" stroke-width="0.8" stroke-linejoin="round"/>
<polyline points="234.2,345.9 236.0,338.2 234.9,332.7 234.9,327.1 238.3,324.9 241.6,323.8 246.0,324.9 250.5,324.9 249.3,329.3 250.5,331.6 253.8,330.5 256.0,327.6" fill="none" stroke="#363636" stroke-width="0.8" stroke-linejoin="round"/>
<polyline points="226.3,357.0 230.5,349.6 234.2,345.9" fill="none" stroke="#363636" stroke-width="0.8" stroke-linejoin="round"/>
<polyline points="255.7,327.6 256.5,334.0 258.5,338.0 263.0,342.0 261.5,347.0 260.1,351.8" fill="none" stroke="#363636" stroke-width="0.8" stroke-linejoin="round"/>
<polyline points="306.6,261.6 305.5,256.0 306.6,252.7 308.3,250.0 312.2,248.8 317.7,248.3 322.7,246.6 323.3,243.8 326.6,243.3 332.7,241.6 335.5,238.9 339.9,237.2 345.4,235.5 348.8,234.4 351.0,231.7" fill="none" stroke="#363636" stroke-width="0.8" stroke-linejoin="round"/>
<polyline points="328.8,232.9 330.2,236.0 331.0,231.7" fill="none" stroke="#363636" stroke-width="0.8" stroke-linejoin="round"/>
<polyline points="348.8,234.4 353.7,237.2 356.5,239.4 359.3,241.6 359.8,244.4 357.6,247.2 356.5,250.5 357.6,253.8 361.0,253.8 362.0,256.0 361.0,258.3 356.5,259.4 355.4,263.8 354.9,268.2 355.4,270.5 361.0,271.0 367.6,272.7 369.8,273.8" fill="none" stroke="#363636" stroke-width="0.8" stroke-linejoin="round"/>
<polyline points="351.0,278.2 347.6,276.0" fill="none" stroke="#363636" stroke-width="0.8" stroke-linejoin="round"/>
<polyline points="318.3,198.8 323.8,194.9 331.6,192.1 339.3,193.8 343.8,195.5 349.3,197.7 352.6,201.0 354.9,205.4 356.2,208.8" fill="none" stroke="#363636" stroke-width="0.8" stroke-linejoin="round"/>
<polyline points="331.6,192.1 333.8,183.3 336.0,184.4 339.3,186.6 341.6,177.7 343.8,177.2 347.1,182.2 350.4,186.6 352.6,178.8 353.8,172.2 357.1,171.1 361.5,171.1" fill="none" stroke="#363636" stroke-width="0.8" stroke-linejoin="round"/>
<polyline points="375.4,186.7 371.5,188.8" fill="none" stroke="#363636" stroke-width="0.8" stroke-linejoin="round"/>
<polyline points="394.4,206.0 396.0,209.4 401.6,211.7 408.2,212.8 406.6,217.2 404.9,222.7 403.8,227.2 402.7,232.7 400.5,237.2 396.0,239.4 394.9,243.8 397.2,247.1 397.7,251.6 394.9,256.0 393.3,260.4 393.8,265.0 406.1,260.0 406.6,266.7 406.1,275.5 401.6,278.9 399.4,282.2 396.1,285.5 392.7,287.2" fill="none" stroke="#363636" stroke-width="0.8" stroke-linejoin="round"/>
<polyline points="393.8,265.0 406.1,260.0" fill="none" stroke="#363636" stroke-width="0.8" stroke-linejoin="round"/>
<polyline points="432.6,210.5 429.3,215.0 424.9,219.4 422.6,220.5 425.4,222.7 427.6,227.2 428.7,231.6 427.1,234.4 431.5,237.2 433.7,236.6 430.4,239.4 426.0,242.7 421.5,246.0 419.3,250.5 418.2,253.8 414.9,258.2 411.6,260.4 407.1,261.5 406.1,262.0" fill="none" stroke="#363636" stroke-width="0.8" stroke-linejoin="round"/>
<polyline points="440.1,209.3 443.1,216.0 444.0,222.5 443.1,230.7 441.3,236.3 439.4,242.7 438.5,250.1 437.6,258.4 436.6,261.2 433.9,261.2 431.0,266.0 428.0,272.0 424.9,285.5" fill="none" stroke="#363636" stroke-width="0.8" stroke-linejoin="round"/>
<polyline points="446.8,228.9 444.5,232.6" fill="none" stroke="#363636" stroke-width="0.8" stroke-linejoin="round"/>
<polyline points="406.1,275.5 411.6,277.8 419.4,282.2 424.9,285.5 428.3,287.7 427.2,293.3 424.9,297.7 422.7,301.1" fill="none" stroke="#363636" stroke-width="0.8" stroke-linejoin="round"/>
<polyline points="392.7,293.3 401.6,295.5 409.4,296.6 414.9,297.7 420.5,300.5 422.7,301.1" fill="none" stroke="#363636" stroke-width="0.8" stroke-linejoin="round"/>
<polyline points="427.2,295.5 427.5,293.3" fill="none" stroke="#363636" stroke-width="0.8" stroke-linejoin="round"/>
<polyline points="378.3,304.4 383.9,305.5 390.5,306.6 396.1,307.7 401.6,308.8 404.7,309.1 406.0,312.9 412.4,316.8 413.7,325.9 417.6,327.8 428.0,329.1 429.3,331.0 426.7,333.6 421.5,334.9 420.9,337.5 422.8,340.1 422.8,344.0 424.1,349.2 425.4,354.3 429.3,360.8 433.2,362.5" fill="none" stroke="#363636" stroke-width="0.8" stroke-linejoin="round"/>
<polyline points="422.7,301.1 420.5,305.0 412.4,316.8" fill="none" stroke="#363636" stroke-width="0.8" stroke-linejoin="round"/>
<polyline points="377.5,324.6 389.2,323.3 396.9,332.3 399.5,337.5 394.3,341.4 395.6,345.3 404.7,349.2 412.4,353.0 420.2,356.9 425.4,360.8 429.3,362.1" fill="none" stroke="#363636" stroke-width="0.8" stroke-linejoin="round"/>
<polyline points="152.6,266.0 155.9,273.8 159.1,281.6 162.3,289.3 164.9,293.2 168.5,295.4" fill="none" stroke="#363636" stroke-width="0.8" stroke-linejoin="round"/>
<polyline points="179.6,297.6 181.7,297.1 185.6,294.5 190.8,291.9 197.3,289.3 202.4,286.7 207.6,282.9 210.2,281.6" fill="none" stroke="#363636" stroke-width="0.8" stroke-linejoin="round"/>
<polyline points="168.5,295.4 164.4,298.9 158.3,300.0 155.0,305.5 150.5,312.2 147.2,316.6 141.6,317.2 137.2,321.1 140.5,323.3 147.2,324.4 150.5,328.9 149.4,333.3 146.1,337.7 147.2,341.1 143.9,343.3 147.2,345.5 149.4,347.7 153.9,346.6 156.1,348.8 158.3,347.7 159.4,344.4 161.6,340.0 162.7,338.3" fill="none" stroke="#363636" stroke-width="0.8" stroke-linejoin="round"/>
<polyline points="209.6,330.0 208.8,335.9 211.7,336.0" fill="none" stroke="#363636" stroke-width="0.8" stroke-linejoin="round"/>
<polyline points="242.4,394.1 234.9,400.0 233.3,403.3 234.9,411.3 256.6,408.6 244.1,419.1 244.9,421.6" fill="none" stroke="#363636" stroke-width="0.8" stroke-linejoin="round"/>
<polygon points="210.5,135.0 220.0,141.7 231.1,149.4 268.3,151.7 272.7,163.3 285.5,166.0 299.9,168.3 306.1,156.7 311.6,152.2 322.7,153.9 330.5,156.7 334.9,160.0 340.5,162.2 346.0,158.3 352.6,159.4 357.1,161.1 358.2,164.4 361.5,170.5 370.4,174.4 374.8,176.6 375.9,183.3 377.0,187.7 379.3,192.1 382.6,198.8 388.8,204.9 394.4,206.0 396.6,209.3 400.0,210.6 410.4,211.2 425.9,210.0 437.5,210.0 440.1,209.3 444.0,204.8 449.2,200.2 454.4,193.1 459.5,184.7 466.0,182.1 472.5,178.9 467.3,185.4 465.4,190.5 463.4,197.0 459.5,202.2 457.0,207.4 455.0,212.5 453.3,218.7 450.5,221.5 447.0,224.5 451.4,225.2 456.0,224.2 459.7,225.6 460.7,228.9 462.5,229.3 459.7,231.6 458.8,234.4 456.9,237.2 454.2,239.0 451.4,242.7 449.6,246.4 447.7,250.1 445.9,253.8 444.0,257.5 443.3,260.0 439.9,265.0 436.6,271.6 434.1,278.3 431.6,283.3 428.3,289.1 427.5,293.3 431.6,295.8 436.6,294.1 440.8,296.6 439.9,301.6 435.8,304.9 432.5,308.3 431.6,313.2 434.1,319.9 437.4,326.6 439.9,333.2 441.6,339.9 441.0,346.3 438.9,354.4 441.0,357.4 442.0,364.6 443.0,370.6 445.0,378.8 446.1,386.9 447.1,395.0 449.1,401.1 448.1,409.3 447.1,415.4 447.1,422.5 440.0,424.5 434.9,421.5 430.8,417.4 426.7,413.3 422.7,410.3 418.6,407.2 412.5,403.2 408.5,399.1 404.4,395.0 400.3,390.0 397.8,390.2 393.7,392.2 392.7,398.3 391.7,404.4 389.6,408.5 381.5,409.5 375.4,412.5 367.3,416.6 363.2,418.6 362.2,426.8 357.1,431.9 351.0,433.9 344.9,434.9 338.8,434.9 335.8,435.9 334.7,441.0 332.7,445.1 328.6,447.1 322.5,450.2 320.5,453.2 316.4,455.2 312.4,459.3 308.3,463.4 306.3,467.4 304.2,471.5 302.2,473.5 299.2,471.5 299.2,467.4 301.2,463.4 298.1,459.3 297.1,455.2 298.1,451.2 294.1,447.1 290.0,444.1 288.2,441.6 283.2,436.6 279.9,431.6 276.5,426.6 273.2,421.6 271.5,416.6 269.9,414.9 263.2,419.9 256.6,424.9 255.7,429.9 256.6,434.9 249.9,429.9 245.7,424.9 244.9,421.6 229.9,422.4 228.3,424.1 218.3,423.3 210.0,422.4 201.6,423.3 196.6,421.6 195.8,416.6 195.0,410.0 187.5,410.8 189.2,413.3 188.3,418.3 185.0,414.9 185.0,410.0 180.0,407.0 175.5,398.7 171.0,392.0 166.6,385.4 162.1,378.7 157.7,372.1 153.3,365.4 148.8,358.8 143.3,352.1 141.1,345.5 137.7,336.6 134.4,328.8 132.2,322.2 128.9,316.6 126.7,311.1 132.2,303.3 136.6,296.7 140.0,290.0 145.5,282.7 148.8,273.8 152.1,267.1 152.1,258.3 151.0,251.6 152.1,245.0 159.9,241.6 164.3,236.1 174.3,232.8 180.0,230.5 185.5,225.0 187.8,221.6 190.4,219.0 196.8,215.1 199.4,208.7 200.0,200.9 199.4,193.1 196.8,188.0 195.5,182.1 195.0,178.2 195.5,172.7 194.3,161.6 195.0,151.6 199.4,142.7" fill="none" stroke="#383838" stroke-width="0.85" stroke-linejoin="round"/>
<circle cx="278.4" cy="319.8" r="3.15" fill="#990d0d" stroke="#3a0000" stroke-width="0.8"/>
<circle cx="283.7" cy="191.3" r="3.1" fill="#f6f615" stroke="#403a00" stroke-width="0.9"/>
<circle cx="286.6" cy="191.3" r="3.1" fill="#f6f615" stroke="#403a00" stroke-width="0.9"/>
<circle cx="235.4" cy="198.8" r="3.1" fill="#f6f615" stroke="#403a00" stroke-width="0.9"/>
<circle cx="217.7" cy="213.4" r="3.1" fill="#f6f615" stroke="#403a00" stroke-width="0.9"/>
<circle cx="245.4" cy="222.8" r="3.1" fill="#f6f615" stroke="#403a00" stroke-width="0.9"/>
<circle cx="237.0" cy="233.6" r="3.1" fill="#f6f615" stroke="#403a00" stroke-width="0.9"/>
<circle cx="201.4" cy="240.6" r="3.1" fill="#f6f615" stroke="#403a00" stroke-width="0.9"/>
<circle cx="262.7" cy="231.1" r="3.1" fill="#f6f615" stroke="#403a00" stroke-width="0.9"/>
<circle cx="297.0" cy="238.1" r="3.1" fill="#f6f615" stroke="#403a00" stroke-width="0.9"/>
<circle cx="224.4" cy="250.5" r="3.1" fill="#f6f615" stroke="#403a00" stroke-width="0.9"/>
<circle cx="229.4" cy="249.4" r="3.1" fill="#f6f615" stroke="#403a00" stroke-width="0.9"/>
<circle cx="253.8" cy="250" r="3.1" fill="#f6f615" stroke="#403a00" stroke-width="0.9"/>
<circle cx="222.7" cy="266.6" r="3.1" fill="#f6f615" stroke="#403a00" stroke-width="0.9"/>
<circle cx="226.1" cy="264.1" r="3.1" fill="#f6f615" stroke="#403a00" stroke-width="0.9"/>
<circle cx="245.5" cy="262.7" r="3.1" fill="#f6f615" stroke="#403a00" stroke-width="0.9"/>
<circle cx="247.9" cy="260.3" r="3.1" fill="#f6f615" stroke="#403a00" stroke-width="0.9"/>
<circle cx="344.0" cy="271.8" r="3.1" fill="#f6f615" stroke="#403a00" stroke-width="0.9"/>
<circle cx="337.2" cy="299.1" r="3.1" fill="#f6f615" stroke="#403a00" stroke-width="0.9"/>
<circle cx="279.4" cy="323.6" r="3.1" fill="#f6f615" stroke="#403a00" stroke-width="0.9"/>
<circle cx="305.0" cy="341.4" r="3.1" fill="#f6f615" stroke="#403a00" stroke-width="0.9"/>
<circle cx="174.3" cy="306.8" r="3.1" fill="#f6f615" stroke="#403a00" stroke-width="0.9"/>
<circle cx="228.1" cy="325.9" r="3.1" fill="#f6f615" stroke="#403a00" stroke-width="0.9"/>
<circle cx="237.2" cy="341.6" r="3.1" fill="#f6f615" stroke="#403a00" stroke-width="0.9"/>
<circle cx="249.4" cy="336.5" r="3.1" fill="#f6f615" stroke="#403a00" stroke-width="0.9"/>
<circle cx="261.5" cy="343.4" r="3.1" fill="#f6f615" stroke="#403a00" stroke-width="0.9"/>
<circle cx="263.9" cy="340.4" r="3.1" fill="#f6f615" stroke="#403a00" stroke-width="0.9"/>
<circle cx="256.4" cy="353.6" r="3.1" fill="#f6f615" stroke="#403a00" stroke-width="0.9"/>
<circle cx="225.8" cy="358.5" r="3.1" fill="#f6f615" stroke="#403a00" stroke-width="0.9"/>
<circle cx="260.1" cy="376.6" r="3.1" fill="#f6f615" stroke="#403a00" stroke-width="0.9"/>
<circle cx="223.8" cy="381.5" r="3.1" fill="#f6f615" stroke="#403a00" stroke-width="0.9"/>
<circle cx="215.5" cy="414" r="3.1" fill="#f6f615" stroke="#403a00" stroke-width="0.9"/>
<circle cx="410.5" cy="392" r="3.1" fill="#f6f615" stroke="#403a00" stroke-width="0.9"/>
<circle cx="232.5" cy="225.2" r="3.15" fill="#990d0d" stroke="#3a0000" stroke-width="0.8"/>
<circle cx="358.9" cy="211.1" r="3.15" fill="#990d0d" stroke="#3a0000" stroke-width="0.8"/>
<circle cx="341.8" cy="300.0" r="3.15" fill="#990d0d" stroke="#3a0000" stroke-width="0.8"/>
<circle cx="343.3" cy="301.8" r="3.15" fill="#990d0d" stroke="#3a0000" stroke-width="0.8"/>
<text x="485.3" y="169.2" font-size="7.6" fill="#2a2a2a">EVENTOS</text>
<rect x="485.3" y="174.40" width="11.5" height="11.9" fill="#f2efec" stroke="#00000022" stroke-width="0.5"/>
<text x="501" y="181.90" font-size="6.1" fill="#2a2a2a">Sin evento</text>
<rect x="485.3" y="186.30" width="11.5" height="11.9" fill="#fcd8b1" stroke="#00000022" stroke-width="0.5"/>
<text x="501" y="193.80" font-size="6.1" fill="#2a2a2a">1-2</text>
<rect x="485.3" y="198.20" width="11.5" height="11.9" fill="#fdb577" stroke="#00000022" stroke-width="0.5"/>
<text x="501" y="205.70" font-size="6.1" fill="#2a2a2a">3-4</text>
<rect x="485.3" y="210.10" width="11.5" height="11.9" fill="#fb8b56" stroke="#00000022" stroke-width="0.5"/>
<text x="501" y="217.60" font-size="6.1" fill="#2a2a2a">5-8</text>
<rect x="485.3" y="222.00" width="11.5" height="11.9" fill="#f26c47" stroke="#00000022" stroke-width="0.5"/>
<text x="501" y="229.50" font-size="6.1" fill="#2a2a2a">9-12</text>
<rect x="485.3" y="233.90" width="11.5" height="11.9" fill="#df321f" stroke="#00000022" stroke-width="0.5"/>
<text x="501" y="241.40" font-size="6.1" fill="#2a2a2a">12 o más</text>
<text x="485.3" y="267.7" font-size="7.6" fill="#2a2a2a">CASOS</text>
<circle cx="491.3" cy="278.9" r="3.0" fill="#f6f615" stroke="#403a00" stroke-width="0.8"/>
<text x="501" y="281.2" font-size="6.1" fill="#2a2a2a">Probable</text>
<circle cx="491.3" cy="291" r="3.0" fill="#990d0d" stroke="#3a0000" stroke-width="0.7"/>
<text x="501" y="293.3" font-size="6.1" fill="#2a2a2a">Confirmado</text>
<text x="87.3" y="195.1" font-size="6" fill="#575757">19.0°N</text>
<text x="87.3" y="280.5" font-size="6" fill="#575757">18.8°N</text>
<text x="87.3" y="365.9" font-size="6" fill="#575757">18.6°N</text>
<text x="87.3" y="451.3" font-size="6" fill="#575757">18.4°N</text>
<text x="158" y="496.5" font-size="5.5" fill="#d2d0cc">99.4°W</text>
<text x="239" y="496.5" font-size="5.5" fill="#d2d0cc">99.2°W</text>
<text x="320" y="496.5" font-size="5.5" fill="#d2d0cc">99.0°W</text>
<text x="401" y="496.5" font-size="5.5" fill="#d2d0cc">98.8°W</text>
<text x="130.9" y="425.6" font-size="5.6" text-anchor="middle" fill="#333">N</text>
<circle cx="131.4" cy="444.4" r="6.8" fill="none" stroke="#555" stroke-width="0.5"/>
<path d="M130.9,429.4 L125.5,456.6 L131.4,449.9 Z" fill="#f0eeeb" stroke="#222" stroke-width="0.6"/>
<path d="M130.9,429.4 L137.2,456 L131.4,449.9 Z" fill="#111" stroke="#111" stroke-width="0.5"/>
<rect x="113.9" y="480.8" width="38.7" height="5.2" fill="#fff" stroke="#111" stroke-width="0.6"/>
<rect x="113.9" y="480.8" width="8.0" height="5.2" fill="#111"/>
<rect x="129.6" y="480.8" width="7.6" height="5.2" fill="#111"/>
<rect x="145" y="480.8" width="7.6" height="5.2" fill="#111"/>
<text x="155.6" y="485.6" font-size="5.4" fill="#222">10 km</text>
<g id="logo" fill="none" stroke-linecap="round" stroke-linejoin="round">
<path d="M774.06,41.85 A18.4,18.4 0 0 0 810.86,41.85" stroke="#767a62" stroke-width="1.0"/>
<path d="M775.86,41.85 A16.6,16.6 0 0 0 809.06,41.85" stroke="#e2b08c" stroke-width="0.9"/>
<path d="M777.66,41.85 A14.8,14.8 0 0 0 807.26,41.85" stroke="#767a62" stroke-width="0.8"/>
<path d="M786.35,44.07 L779.49,46.57" stroke="#767a62" stroke-width="0.75"/>
<path d="M786.78,45.00 L780.39,48.54" stroke="#e2b08c" stroke-width="0.75"/>
<path d="M787.34,45.85 L781.59,50.34" stroke="#767a62" stroke-width="0.75"/>
<path d="M788.03,46.60 L783.05,51.94" stroke="#e2b08c" stroke-width="0.75"/>
<path d="M788.83,47.24 L784.75,53.29" stroke="#767a62" stroke-width="0.75"/>
<path d="M789.72,47.74 L786.63,54.35" stroke="#e2b08c" stroke-width="0.75"/>
<path d="M798.57,44.07 L805.43,46.57" stroke="#767a62" stroke-width="0.75"/>
<path d="M798.15,45.00 L804.53,48.54" stroke="#e2b08c" stroke-width="0.75"/>
<path d="M797.58,45.85 L803.34,50.34" stroke="#767a62" stroke-width="0.75"/>
<path d="M796.90,46.60 L801.87,51.94" stroke="#e2b08c" stroke-width="0.75"/>
<path d="M796.10,47.24 L800.18,53.29" stroke="#767a62" stroke-width="0.75"/>
<path d="M795.21,47.74 L798.29,54.35" stroke="#e2b08c" stroke-width="0.75"/>
<path d="M773.38,37.48 H784.91 M799.62,37.48 H811.14" stroke="#767a62" stroke-width="0.9"/>
<path d="M773.38,38.83 H784.91 M799.62,38.83 H811.14" stroke="#e2b08c" stroke-width="0.9"/>
<path d="M773.38,40.26 H784.91 M799.62,40.26 H811.14" stroke="#e2b08c" stroke-width="0.8"/>
<path d="M773.38,41.53 H784.91 M799.62,41.53 H811.14" stroke="#767a62" stroke-width="0.9"/>
<path d="M783.72,28.73 H775.63 A2.4,2.4 0 0 0 775.63,33.50 H786.90" stroke="#767a62" stroke-width="0.95"/>
<path d="M801.21,28.73 H808.90 A2.4,2.4 0 0 1 808.90,33.50 H798.03" stroke="#767a62" stroke-width="0.95"/>
<path d="M774.97,31.12 H786.10 M798.82,31.12 H809.55" stroke="#e2b08c" stroke-width="1.1"/>
<path d="M783.56,29.92 V23.29 A3.06,3.06 0 0 1 789.68,23.29 V26.92" stroke="#767a62" stroke-width="1.0"/>
<path d="M795.24,29.92 V23.29 A3.06,3.06 0 0 1 801.37,23.29 V26.92" stroke="#767a62" stroke-width="1.0"/>
<path d="M785.15,30.72 V23.45 A1.47,1.47 0 0 1 788.09,23.45 V27.72" stroke="#e2b08c" stroke-width="1.0"/>
<path d="M796.83,30.72 V23.45 A1.47,1.47 0 0 1 799.78,23.45 V27.72" stroke="#e2b08c" stroke-width="1.0"/>
<path d="M786.50,29.92 L788.09,26.35 L789.68,29.92 M795.24,29.92 L796.83,26.35 L798.42,29.92" stroke="#767a62" stroke-width="0.8"/>
<path d="M791.27,25.95 L792.30,23.96 L793.42,25.95" stroke="#e2b08c" stroke-width="0.9"/>
<path d="M804.39,26.35 Q807.57,27.94 809.95,26.35 Q811.54,24.36 809.55,23.17 Q807.17,22.77 807.17,25.00" stroke="#767a62" stroke-width="0.9"/>
<path d="M808.36,22.61 L808.20,20.38 M806.37,22.61 L806.21,20.23 M804.39,22.61 L804.23,20.38 M808.76,22.77 H803.59" stroke="#e2b08c" stroke-width="0.8"/>
<path d="M806.37,24.76 Q805.18,23.56 803.59,24.76" stroke="#e2b08c" stroke-width="0.8"/>
<path d="M780.54,26.35 Q777.36,27.94 774.97,26.35 Q773.38,24.36 775.37,23.17 Q777.76,22.77 777.76,25.00" stroke="#767a62" stroke-width="0.9"/>
<path d="M776.56,22.61 L776.72,20.38 M778.55,22.61 L778.71,20.23 M780.54,22.61 L780.70,20.38 M776.17,22.77 H781.33" stroke="#e2b08c" stroke-width="0.8"/>
<path d="M778.55,24.76 Q779.74,23.56 781.33,24.76" stroke="#e2b08c" stroke-width="0.8"/>
<path d="M792.46,33.50 Q789.06,37.67 792.46,41.85 Q795.86,37.67 792.46,33.50 Z" fill="#ecc9aa" stroke="#e2b08c" stroke-width="0.6"/>
<path d="M786.10,36.28 Q786.10,44.23 791.83,47.41" stroke="#767a62" stroke-width="1.1"/>
<path d="M798.82,36.28 Q798.82,44.23 793.10,47.41" stroke="#767a62" stroke-width="1.1"/>
<path d="M792.46,41.85 V57.75" stroke="#767a62" stroke-width="1.0"/>
<path d="M785.31,48.21 L787.69,52.98 M799.62,48.21 L797.23,52.98" stroke="#767a62" stroke-width="1.0"/>
</g>
<text x="820.7" y="42.7" font-family="Liberation Sans" font-weight="bold" font-size="23" fill="#6e715c" textLength="73.8" lengthAdjust="spacingAndGlyphs">SALUD</text>
<text x="820.8" y="52.9" font-family="Liberation Sans" font-size="6.2" fill="#d4ab88" textLength="76" lengthAdjust="spacing">SECRETARÍA DE SALUD</text>
<rect x="0" y="509" width="944" height="25.3" fill="#f2f2ec"/>
<g transform="translate(-50.26,0)"><path d="M-20,509.6 H-7.35 A5.95,5.95 0 0 1 -7.35,521.5 H-19.8" stroke="#5a6050" stroke-width="1.7" fill="none"/>
<path d="M20,509.6 H7.35 A5.95,5.95 0 0 0 7.35,521.5 H19.8" stroke="#5a6050" stroke-width="1.7" fill="none"/>
<path d="M-27.8,510 L-24.4,513.5 H-6 A2.05,2.05 0 0 1 -6,517.6 H-29 Q-30.3,517.8 -30.9,519.2" stroke="#5a6050" stroke-width="1.7" fill="none"/>
<path d="M27.8,510 L24.4,513.5 H6 A2.05,2.05 0 0 0 6,517.6 H29 Q30.3,517.8 30.9,519.2" stroke="#5a6050" stroke-width="1.7" fill="none"/>
<path d="M-29.5,509.9 H-33 Q-35.2,510 -35.2,512.2 Q-35,514.5 -32.6,514.4 Q-31.1,514.1 -31.4,512.6" stroke="#5a6050" stroke-width="1.7" fill="none"/>
<path d="M29.5,509.9 H33 Q35.2,510 35.2,512.2 Q35,514.5 32.6,514.4 Q31.1,514.1 31.4,512.6" stroke="#5a6050" stroke-width="1.7" fill="none"/>
<path d="M38.05,509.3 V512.6" stroke="#5a6050" stroke-width="1.2" fill="none"/>
<rect x="-19.8" y="520.65" width="39.6" height="1.7" fill="#5a6050"/>
<rect x="-19.8" y="531.9" width="39.6" height="1.4" fill="#5a6050"/>
<rect x="-19.70" y="524.0" width="1.4" height="6.3" fill="#5a6050"/>
<rect x="-15.48" y="524.0" width="1.4" height="6.3" fill="#5a6050"/>
<rect x="-11.26" y="524.0" width="1.4" height="6.3" fill="#5a6050"/>
<rect x="-7.04" y="524.0" width="1.4" height="6.3" fill="#5a6050"/>
<rect x="-2.82" y="524.0" width="1.4" height="6.3" fill="#5a6050"/>
<rect x="1.40" y="524.0" width="1.4" height="6.3" fill="#5a6050"/>
<rect x="5.62" y="524.0" width="1.4" height="6.3" fill="#5a6050"/>
<rect x="9.84" y="524.0" width="1.4" height="6.3" fill="#5a6050"/>
<rect x="14.06" y="524.0" width="1.4" height="6.3" fill="#5a6050"/>
<rect x="18.28" y="524.0" width="1.4" height="6.3" fill="#5a6050"/>
<path d="M-27,533.4 Q-26.2,527 -24.8,522.2 Q-24.1,527.8 -22.2,533.4 Z" fill="#5a6050"/>
<path d="M27,533.4 Q26.2,527 24.8,522.2 Q24.1,527.8 22.2,533.4 Z" fill="#5a6050"/>
<ellipse cx="38.05" cy="524.5" rx="8" ry="9.5" fill="#f4e0cf" opacity="0.45"/>
<circle cx="31.55" cy="521.70" r="0.78" fill="#cd9468"/>
<circle cx="31.55" cy="524.75" r="0.78" fill="#cd9468"/>
<circle cx="31.55" cy="527.80" r="0.78" fill="#cd9468"/>
<circle cx="31.55" cy="530.85" r="0.78" fill="#cd9468"/>
<circle cx="34.85" cy="517.00" r="0.78" fill="#cd9468"/>
<circle cx="34.85" cy="520.15" r="0.78" fill="#cd9468"/>
<circle cx="34.85" cy="523.30" r="0.78" fill="#cd9468"/>
<circle cx="34.85" cy="526.45" r="0.78" fill="#cd9468"/>
<circle cx="34.85" cy="529.60" r="0.78" fill="#cd9468"/>
<circle cx="34.85" cy="532.75" r="0.78" fill="#cd9468"/>
<circle cx="38.05" cy="515.80" r="0.78" fill="#cd9468"/>
<circle cx="38.05" cy="518.90" r="0.78" fill="#cd9468"/>
<circle cx="38.05" cy="522.00" r="0.78" fill="#cd9468"/>
<circle cx="38.05" cy="525.10" r="0.78" fill="#cd9468"/>
<circle cx="38.05" cy="528.20" r="0.78" fill="#cd9468"/>
<circle cx="38.05" cy="531.30" r="0.78" fill="#cd9468"/>
<circle cx="41.15" cy="517.00" r="0.78" fill="#cd9468"/>
<circle cx="41.15" cy="520.15" r="0.78" fill="#cd9468"/>
<circle cx="41.15" cy="523.30" r="0.78" fill="#cd9468"/>
<circle cx="41.15" cy="526.45" r="0.78" fill="#cd9468"/>
<circle cx="41.15" cy="529.60" r="0.78" fill="#cd9468"/>
<circle cx="41.15" cy="532.75" r="0.78" fill="#cd9468"/>
<circle cx="44.55" cy="521.70" r="0.78" fill="#cd9468"/>
<circle cx="44.55" cy="524.75" r="0.78" fill="#cd9468"/>
<circle cx="44.55" cy="527.80" r="0.78" fill="#cd9468"/>
<circle cx="44.55" cy="530.85" r="0.78" fill="#cd9468"/></g>
<g transform="translate(25.84,0)"><path d="M-20,509.6 H-7.35 A5.95,5.95 0 0 1 -7.35,521.5 H-19.8" stroke="#5a6050" stroke-width="1.7" fill="none"/>
<path d="M20,509.6 H7.35 A5.95,5.95 0 0 0 7.35,521.5 H19.8" stroke="#5a6050" stroke-width="1.7" fill="none"/>
<path d="M-27.8,510 L-24.4,513.5 H-6 A2.05,2.05 0 0 1 -6,517.6 H-29 Q-30.3,517.8 -30.9,519.2" stroke="#5a6050" stroke-width="1.7" fill="none"/>
<path d="M27.8,510 L24.4,513.5 H6 A2.05,2.05 0 0 0 6,517.6 H29 Q30.3,517.8 30.9,519.2" stroke="#5a6050" stroke-width="1.7" fill="none"/>
<path d="M-29.5,509.9 H-33 Q-35.2,510 -35.2,512.2 Q-35,514.5 -32.6,514.4 Q-31.1,514.1 -31.4,512.6" stroke="#5a6050" stroke-width="1.7" fill="none"/>
<path d="M29.5,509.9 H33 Q35.2,510 35.2,512.2 Q35,514.5 32.6,514.4 Q31.1,514.1 31.4,512.6" stroke="#5a6050" stroke-width="1.7" fill="none"/>
<path d="M38.05,509.3 V512.6" stroke="#5a6050" stroke-width="1.2" fill="none"/>
<rect x="-19.8" y="520.65" width="39.6" height="1.7" fill="#5a6050"/>
<rect x="-19.8" y="531.9" width="39.6" height="1.4" fill="#5a6050"/>
<rect x="-19.70" y="524.0" width="1.4" height="6.3" fill="#5a6050"/>
<rect x="-15.48" y="524.0" width="1.4" height="6.3" fill="#5a6050"/>
<rect x="-11.26" y="524.0" width="1.4" height="6.3" fill="#5a6050"/>
<rect x="-7.04" y="524.0" width="1.4" height="6.3" fill="#5a6050"/>
<rect x="-2.82" y="524.0" width="1.4" height="6.3" fill="#5a6050"/>
<rect x="1.40" y="524.0" width="1.4" height="6.3" fill="#5a6050"/>
<rect x="5.62" y="524.0" width="1.4" height="6.3" fill="#5a6050"/>
<rect x="9.84" y="524.0" width="1.4" height="6.3" fill="#5a6050"/>
<rect x="14.06" y="524.0" width="1.4" height="6.3" fill="#5a6050"/>
<rect x="18.28" y="524.0" width="1.4" height="6.3" fill="#5a6050"/>
<path d="M-27,533.4 Q-26.2,527 -24.8,522.2 Q-24.1,527.8 -22.2,533.4 Z" fill="#5a6050"/>
<path d="M27,533.4 Q26.2,527 24.8,522.2 Q24.1,527.8 22.2,533.4 Z" fill="#5a6050"/>
<ellipse cx="38.05" cy="524.5" rx="8" ry="9.5" fill="#f4e0cf" opacity="0.45"/>
<circle cx="31.55" cy="521.70" r="0.78" fill="#cd9468"/>
<circle cx="31.55" cy="524.75" r="0.78" fill="#cd9468"/>
<circle cx="31.55" cy="527.80" r="0.78" fill="#cd9468"/>
<circle cx="31.55" cy="530.85" r="0.78" fill="#cd9468"/>
<circle cx="34.85" cy="517.00" r="0.78" fill="#cd9468"/>
<circle cx="34.85" cy="520.15" r="0.78" fill="#cd9468"/>
<circle cx="34.85" cy="523.30" r="0.78" fill="#cd9468"/>
<circle cx="34.85" cy="526.45" r="0.78" fill="#cd9468"/>
<circle cx="34.85" cy="529.60" r="0.78" fill="#cd9468"/>
<circle cx="34.85" cy="532.75" r="0.78" fill="#cd9468"/>
<circle cx="38.05" cy="515.80" r="0.78" fill="#cd9468"/>
<circle cx="38.05" cy="518.90" r="0.78" fill="#cd9468"/>
<circle cx="38.05" cy="522.00" r="0.78" fill="#cd9468"/>
<circle cx="38.05" cy="525.10" r="0.78" fill="#cd9468"/>
<circle cx="38.05" cy="528.20" r="0.78" fill="#cd9468"/>
<circle cx="38.05" cy="531.30" r="0.78" fill="#cd9468"/>
<circle cx="41.15" cy="517.00" r="0.78" fill="#cd9468"/>
<circle cx="41.15" cy="520.15" r="0.78" fill="#cd9468"/>
<circle cx="41.15" cy="523.30" r="0.78" fill="#cd9468"/>
<circle cx="41.15" cy="526.45" r="0.78" fill="#cd9468"/>
<circle cx="41.15" cy="529.60" r="0.78" fill="#cd9468"/>
<circle cx="41.15" cy="532.75" r="0.78" fill="#cd9468"/>
<circle cx="44.55" cy="521.70" r="0.78" fill="#cd9468"/>
<circle cx="44.55" cy="524.75" r="0.78" fill="#cd9468"/>
<circle cx="44.55" cy="527.80" r="0.78" fill="#cd9468"/>
<circle cx="44.55" cy="530.85" r="0.78" fill="#cd9468"/></g>
<g transform="translate(101.94,0)"><path d="M-20,509.6 H-7.35 A5.95,5.95 0 0 1 -7.35,521.5 H-19.8" stroke="#5a6050" stroke-width="1.7" fill="none"/>
<path d="M20,509.6 H7.35 A5.95,5.95 0 0 0 7.35,521.5 H19.8" stroke="#5a6050" stroke-width="1.7" fill="none"/>
<path d="M-27.8,510 L-24.4,513.5 H-6 A2.05,2.05 0 0 1 -6,517.6 H-29 Q-30.3,517.8 -30.9,519.2" stroke="#5a6050" stroke-width="1.7" fill="none"/>
<path d="M27.8,510 L24.4,513.5 H6 A2.05,2.05 0 0 0 6,517.6 H29 Q30.3,517.8 30.9,519.2" stroke="#5a6050" stroke-width="1.7" fill="none"/>
<path d="M-29.5,509.9 H-33 Q-35.2,510 -35.2,512.2 Q-35,514.5 -32.6,514.4 Q-31.1,514.1 -31.4,512.6" stroke="#5a6050" stroke-width="1.7" fill="none"/>
<path d="M29.5,509.9 H33 Q35.2,510 35.2,512.2 Q35,514.5 32.6,514.4 Q31.1,514.1 31.4,512.6" stroke="#5a6050" stroke-width="1.7" fill="none"/>
<path d="M38.05,509.3 V512.6" stroke="#5a6050" stroke-width="1.2" fill="none"/>
<rect x="-19.8" y="520.65" width="39.6" height="1.7" fill="#5a6050"/>
<rect x="-19.8" y="531.9" width="39.6" height="1.4" fill="#5a6050"/>
<rect x="-19.70" y="524.0" width="1.4" height="6.3" fill="#5a6050"/>
<rect x="-15.48" y="524.0" width="1.4" height="6.3" fill="#5a6050"/>
<rect x="-11.26" y="524.0" width="1.4" height="6.3" fill="#5a6050"/>
<rect x="-7.04" y="524.0" width="1.4" height="6.3" fill="#5a6050"/>
<rect x="-2.82" y="524.0" width="1.4" height="6.3" fill="#5a6050"/>
<rect x="1.40" y="524.0" width="1.4" height="6.3" fill="#5a6050"/>
<rect x="5.62" y="524.0" width="1.4" height="6.3" fill="#5a6050"/>
<rect x="9.84" y="524.0" width="1.4" height="6.3" fill="#5a6050"/>
<rect x="14.06" y="524.0" width="1.4" height="6.3" fill="#5a6050"/>
<rect x="18.28" y="524.0" width="1.4" height="6.3" fill="#5a6050"/>
<path d="M-27,533.4 Q-26.2,527 -24.8,522.2 Q-24.1,527.8 -22.2,533.4 Z" fill="#5a6050"/>
<path d="M27,533.4 Q26.2,527 24.8,522.2 Q24.1,527.8 22.2,533.4 Z" fill="#5a6050"/>
<ellipse cx="38.05" cy="524.5" rx="8" ry="9.5" fill="#f4e0cf" opacity="0.45"/>
<circle cx="31.55" cy="521.70" r="0.78" fill="#cd9468"/>
<circle cx="31.55" cy="524.75" r="0.78" fill="#cd9468"/>
<circle cx="31.55" cy="527.80" r="0.78" fill="#cd9468"/>
<circle cx="31.55" cy="530.85" r="0.78" fill="#cd9468"/>
<circle cx="34.85" cy="517.00" r="0.78" fill="#cd9468"/>
<circle cx="34.85" cy="520.15" r="0.78" fill="#cd9468"/>
<circle cx="34.85" cy="523.30" r="0.78" fill="#cd9468"/>
<circle cx="34.85" cy="526.45" r="0.78" fill="#cd9468"/>
<circle cx="34.85" cy="529.60" r="0.78" fill="#cd9468"/>
<circle cx="34.85" cy="532.75" r="0.78" fill="#cd9468"/>
<circle cx="38.05" cy="515.80" r="0.78" fill="#cd9468"/>
<circle cx="38.05" cy="518.90" r="0.78" fill="#cd9468"/>
<circle cx="38.05" cy="522.00" r="0.78" fill="#cd9468"/>
<circle cx="38.05" cy="525.10" r="0.78" fill="#cd9468"/>
<circle cx="38.05" cy="528.20" r="0.78" fill="#cd9468"/>
<circle cx="38.05" cy="531.30" r="0.78" fill="#cd9468"/>
<circle cx="41.15" cy="517.00" r="0.78" fill="#cd9468"/>
<circle cx="41.15" cy="520.15" r="0.78" fill="#cd9468"/>
<circle cx="41.15" cy="523.30" r="0.78" fill="#cd9468"/>
<circle cx="41.15" cy="526.45" r="0.78" fill="#cd9468"/>
<circle cx="41.15" cy="529.60" r="0.78" fill="#cd9468"/>
<circle cx="41.15" cy="532.75" r="0.78" fill="#cd9468"/>
<circle cx="44.55" cy="521.70" r="0.78" fill="#cd9468"/>
<circle cx="44.55" cy="524.75" r="0.78" fill="#cd9468"/>
<circle cx="44.55" cy="527.80" r="0.78" fill="#cd9468"/>
<circle cx="44.55" cy="530.85" r="0.78" fill="#cd9468"/></g>
<g transform="translate(178.04,0)"><path d="M-20,509.6 H-7.35 A5.95,5.95 0 0 1 -7.35,521.5 H-19.8" stroke="#5a6050" stroke-width="1.7" fill="none"/>
<path d="M20,509.6 H7.35 A5.95,5.95 0 0 0 7.35,521.5 H19.8" stroke="#5a6050" stroke-width="1.7" fill="none"/>
<path d="M-27.8,510 L-24.4,513.5 H-6 A2.05,2.05 0 0 1 -6,517.6 H-29 Q-30.3,517.8 -30.9,519.2" stroke="#5a6050" stroke-width="1.7" fill="none"/>
<path d="M27.8,510 L24.4,513.5 H6 A2.05,2.05 0 0 0 6,517.6 H29 Q30.3,517.8 30.9,519.2" stroke="#5a6050" stroke-width="1.7" fill="none"/>
<path d="M-29.5,509.9 H-33 Q-35.2,510 -35.2,512.2 Q-35,514.5 -32.6,514.4 Q-31.1,514.1 -31.4,512.6" stroke="#5a6050" stroke-width="1.7" fill="none"/>
<path d="M29.5,509.9 H33 Q35.2,510 35.2,512.2 Q35,514.5 32.6,514.4 Q31.1,514.1 31.4,512.6" stroke="#5a6050" stroke-width="1.7" fill="none"/>
<path d="M38.05,509.3 V512.6" stroke="#5a6050" stroke-width="1.2" fill="none"/>
<rect x="-19.8" y="520.65" width="39.6" height="1.7" fill="#5a6050"/>
<rect x="-19.8" y="531.9" width="39.6" height="1.4" fill="#5a6050"/>
<rect x="-19.70" y="524.0" width="1.4" height="6.3" fill="#5a6050"/>
<rect x="-15.48" y="524.0" width="1.4" height="6.3" fill="#5a6050"/>
<rect x="-11.26" y="524.0" width="1.4" height="6.3" fill="#5a6050"/>
<rect x="-7.04" y="524.0" width="1.4" height="6.3" fill="#5a6050"/>
<rect x="-2.82" y="524.0" width="1.4" height="6.3" fill="#5a6050"/>
<rect x="1.40" y="524.0" width="1.4" height="6.3" fill="#5a6050"/>
<rect x="5.62" y="524.0" width="1.4" height="6.3" fill="#5a6050"/>
<rect x="9.84" y="524.0" width="1.4" height="6.3" fill="#5a6050"/>
<rect x="14.06" y="524.0" width="1.4" height="6.3" fill="#5a6050"/>
<rect x="18.28" y="524.0" width="1.4" height="6.3" fill="#5a6050"/>
<path d="M-27,533.4 Q-26.2,527 -24.8,522.2 Q-24.1,527.8 -22.2,533.4 Z" fill="#5a6050"/>
<path d="M27,533.4 Q26.2,527 24.8,522.2 Q24.1,527.8 22.2,533.4 Z" fill="#5a6050"/>
<ellipse cx="38.05" cy="524.5" rx="8" ry="9.5" fill="#f4e0cf" opacity="0.45"/>
<circle cx="31.55" cy="521.70" r="0.78" fill="#cd9468"/>
<circle cx="31.55" cy="524.75" r="0.78" fill="#cd9468"/>
<circle cx="31.55" cy="527.80" r="0.78" fill="#cd9468"/>
<circle cx="31.55" cy="530.85" r="0.78" fill="#cd9468"/>
<circle cx="34.85" cy="517.00" r="0.78" fill="#cd9468"/>
<circle cx="34.85" cy="520.15" r="0.78" fill="#cd9468"/>
<circle cx="34.85" cy="523.30" r="0.78" fill="#cd9468"/>
<circle cx="34.85" cy="526.45" r="0.78" fill="#cd9468"/>
<circle cx="34.85" cy="529.60" r="0.78" fill="#cd9468"/>
<circle cx="34.85" cy="532.75" r="0.78" fill="#cd9468"/>
<circle cx="38.05" cy="515.80" r="0.78" fill="#cd9468"/>
<circle cx="38.05" cy="518.90" r="0.78" fill="#cd9468"/>
<circle cx="38.05" cy="522.00" r="0.78" fill="#cd9468"/>
<circle cx="38.05" cy="525.10" r="0.78" fill="#cd9468"/>
<circle cx="38.05" cy="528.20" r="0.78" fill="#cd9468"/>
<circle cx="38.05" cy="531.30" r="0.78" fill="#cd9468"/>
<circle cx="41.15" cy="517.00" r="0.78" fill="#cd9468"/>
<circle cx="41.15" cy="520.15" r="0.78" fill="#cd9468"/>
<circle cx="41.15" cy="523.30" r="0.78" fill="#cd9468"/>
<circle cx="41.15" cy="526.45" r="0.78" fill="#cd9468"/>
<circle cx="41.15" cy="529.60" r="0.78" fill="#cd9468"/>
<circle cx="41.15" cy="532.75" r="0.78" fill="#cd9468"/>
<circle cx="44.55" cy="521.70" r="0.78" fill="#cd9468"/>
<circle cx="44.55" cy="524.75" r="0.78" fill="#cd9468"/>
<circle cx="44.55" cy="527.80" r="0.78" fill="#cd9468"/>
<circle cx="44.55" cy="530.85" r="0.78" fill="#cd9468"/></g>
<g transform="translate(254.14,0)"><path d="M-20,509.6 H-7.35 A5.95,5.95 0 0 1 -7.35,521.5 H-19.8" stroke="#5a6050" stroke-width="1.7" fill="none"/>
<path d="M20,509.6 H7.35 A5.95,5.95 0 0 0 7.35,521.5 H19.8" stroke="#5a6050" stroke-width="1.7" fill="none"/>
<path d="M-27.8,510 L-24.4,513.5 H-6 A2.05,2.05 0 0 1 -6,517.6 H-29 Q-30.3,517.8 -30.9,519.2" stroke="#5a6050" stroke-width="1.7" fill="none"/>
<path d="M27.8,510 L24.4,513.5 H6 A2.05,2.05 0 0 0 6,517.6 H29 Q30.3,517.8 30.9,519.2" stroke="#5a6050" stroke-width="1.7" fill="none"/>
<path d="M-29.5,509.9 H-33 Q-35.2,510 -35.2,512.2 Q-35,514.5 -32.6,514.4 Q-31.1,514.1 -31.4,512.6" stroke="#5a6050" stroke-width="1.7" fill="none"/>
<path d="M29.5,509.9 H33 Q35.2,510 35.2,512.2 Q35,514.5 32.6,514.4 Q31.1,514.1 31.4,512.6" stroke="#5a6050" stroke-width="1.7" fill="none"/>
<path d="M38.05,509.3 V512.6" stroke="#5a6050" stroke-width="1.2" fill="none"/>
<rect x="-19.8" y="520.65" width="39.6" height="1.7" fill="#5a6050"/>
<rect x="-19.8" y="531.9" width="39.6" height="1.4" fill="#5a6050"/>
<rect x="-19.70" y="524.0" width="1.4" height="6.3" fill="#5a6050"/>
<rect x="-15.48" y="524.0" width="1.4" height="6.3" fill="#5a6050"/>
<rect x="-11.26" y="524.0" width="1.4" height="6.3" fill="#5a6050"/>
<rect x="-7.04" y="524.0" width="1.4" height="6.3" fill="#5a6050"/>
<rect x="-2.82" y="524.0" width="1.4" height="6.3" fill="#5a6050"/>
<rect x="1.40" y="524.0" width="1.4" height="6.3" fill="#5a6050"/>
<rect x="5.62" y="524.0" width="1.4" height="6.3" fill="#5a6050"/>
<rect x="9.84" y="524.0" width="1.4" height="6.3" fill="#5a6050"/>
<rect x="14.06" y="524.0" width="1.4" height="6.3" fill="#5a6050"/>
<rect x="18.28" y="524.0" width="1.4" height="6.3" fill="#5a6050"/>
<path d="M-27,533.4 Q-26.2,527 -24.8,522.2 Q-24.1,527.8 -22.2,533.4 Z" fill="#5a6050"/>
<path d="M27,533.4 Q26.2,527 24.8,522.2 Q24.1,527.8 22.2,533.4 Z" fill="#5a6050"/>
<ellipse cx="38.05" cy="524.5" rx="8" ry="9.5" fill="#f4e0cf" opacity="0.45"/>
<circle cx="31.55" cy="521.70" r="0.78" fill="#cd9468"/>
<circle cx="31.55" cy="524.75" r="0.78" fill="#cd9468"/>
<circle cx="31.55" cy="527.80" r="0.78" fill="#cd9468"/>
<circle cx="31.55" cy="530.85" r="0.78" fill="#cd9468"/>
<circle cx="34.85" cy="517.00" r="0.78" fill="#cd9468"/>
<circle cx="34.85" cy="520.15" r="0.78" fill="#cd9468"/>
<circle cx="34.85" cy="523.30" r="0.78" fill="#cd9468"/>
<circle cx="34.85" cy="526.45" r="0.78" fill="#cd9468"/>
<circle cx="34.85" cy="529.60" r="0.78" fill="#cd9468"/>
<circle cx="34.85" cy="532.75" r="0.78" fill="#cd9468"/>
<circle cx="38.05" cy="515.80" r="0.78" fill="#cd9468"/>
<circle cx="38.05" cy="518.90" r="0.78" fill="#cd9468"/>
<circle cx="38.05" cy="522.00" r="0.78" fill="#cd9468"/>
<circle cx="38.05" cy="525.10" r="0.78" fill="#cd9468"/>
<circle cx="38.05" cy="528.20" r="0.78" fill="#cd9468"/>
<circle cx="38.05" cy="531.30" r="0.78" fill="#cd9468"/>
<circle cx="41.15" cy="517.00" r="0.78" fill="#cd9468"/>
<circle cx="41.15" cy="520.15" r="0.78" fill="#cd9468"/>
<circle cx="41.15" cy="523.30" r="0.78" fill="#cd9468"/>
<circle cx="41.15" cy="526.45" r="0.78" fill="#cd9468"/>
<circle cx="41.15" cy="529.60" r="0.78" fill="#cd9468"/>
<circle cx="41.15" cy="532.75" r="0.78" fill="#cd9468"/>
<circle cx="44.55" cy="521.70" r="0.78" fill="#cd9468"/>
<circle cx="44.55" cy="524.75" r="0.78" fill="#cd9468"/>
<circle cx="44.55" cy="527.80" r="0.78" fill="#cd9468"/>
<circle cx="44.55" cy="530.85" r="0.78" fill="#cd9468"/></g>
<g transform="translate(330.24,0)"><path d="M-20,509.6 H-7.35 A5.95,5.95 0 0 1 -7.35,521.5 H-19.8" stroke="#5a6050" stroke-width="1.7" fill="none"/>
<path d="M20,509.6 H7.35 A5.95,5.95 0 0 0 7.35,521.5 H19.8" stroke="#5a6050" stroke-width="1.7" fill="none"/>
<path d="M-27.8,510 L-24.4,513.5 H-6 A2.05,2.05 0 0 1 -6,517.6 H-29 Q-30.3,517.8 -30.9,519.2" stroke="#5a6050" stroke-width="1.7" fill="none"/>
<path d="M27.8,510 L24.4,513.5 H6 A2.05,2.05 0 0 0 6,517.6 H29 Q30.3,517.8 30.9,519.2" stroke="#5a6050" stroke-width="1.7" fill="none"/>
<path d="M-29.5,509.9 H-33 Q-35.2,510 -35.2,512.2 Q-35,514.5 -32.6,514.4 Q-31.1,514.1 -31.4,512.6" stroke="#5a6050" stroke-width="1.7" fill="none"/>
<path d="M29.5,509.9 H33 Q35.2,510 35.2,512.2 Q35,514.5 32.6,514.4 Q31.1,514.1 31.4,512.6" stroke="#5a6050" stroke-width="1.7" fill="none"/>
<path d="M38.05,509.3 V512.6" stroke="#5a6050" stroke-width="1.2" fill="none"/>
<rect x="-19.8" y="520.65" width="39.6" height="1.7" fill="#5a6050"/>
<rect x="-19.8" y="531.9" width="39.6" height="1.4" fill="#5a6050"/>
<rect x="-19.70" y="524.0" width="1.4" height="6.3" fill="#5a6050"/>
<rect x="-15.48" y="524.0" width="1.4" height="6.3" fill="#5a6050"/>
<rect x="-11.26" y="524.0" width="1.4" height="6.3" fill="#5a6050"/>
<rect x="-7.04" y="524.0" width="1.4" height="6.3" fill="#5a6050"/>
<rect x="-2.82" y="524.0" width="1.4" height="6.3" fill="#5a6050"/>
<rect x="1.40" y="524.0" width="1.4" height="6.3" fill="#5a6050"/>
<rect x="5.62" y="524.0" width="1.4" height="6.3" fill="#5a6050"/>
<rect x="9.84" y="524.0" width="1.4" height="6.3" fill="#5a6050"/>
<rect x="14.06" y="524.0" width="1.4" height="6.3" fill="#5a6050"/>
<rect x="18.28" y="524.0" width="1.4" height="6.3" fill="#5a6050"/>
<path d="M-27,533.4 Q-26.2,527 -24.8,522.2 Q-24.1,527.8 -22.2,533.4 Z" fill="#5a6050"/>
<path d="M27,533.4 Q26.2,527 24.8,522.2 Q24.1,527.8 22.2,533.4 Z" fill="#5a6050"/>
<ellipse cx="38.05" cy="524.5" rx="8" ry="9.5" fill="#f4e0cf" opacity="0.45"/>
<circle cx="31.55" cy="521.70" r="0.78" fill="#cd9468"/>
<circle cx="31.55" cy="524.75" r="0.78" fill="#cd9468"/>
<circle cx="31.55" cy="527.80" r="0.78" fill="#cd9468"/>
<circle cx="31.55" cy="530.85" r="0.78" fill="#cd9468"/>
<circle cx="34.85" cy="517.00" r="0.78" fill="#cd9468"/>
<circle cx="34.85" cy="520.15" r="0.78" fill="#cd9468"/>
<circle cx="34.85" cy="523.30" r="0.78" fill="#cd9468"/>
<circle cx="34.85" cy="526.45" r="0.78" fill="#cd9468"/>
<circle cx="34.85" cy="529.60" r="0.78" fill="#cd9468"/>
<circle cx="34.85" cy="532.75" r="0.78" fill="#cd9468"/>
<circle cx="38.05" cy="515.80" r="0.78" fill="#cd9468"/>
<circle cx="38.05" cy="518.90" r="0.78" fill="#cd9468"/>
<circle cx="38.05" cy="522.00" r="0.78" fill="#cd9468"/>
<circle cx="38.05" cy="525.10" r="0.78" fill="#cd9468"/>
<circle cx="38.05" cy="528.20" r="0.78" fill="#cd9468"/>
<circle cx="38.05" cy="531.30" r="0.78" fill="#cd9468"/>
<circle cx="41.15" cy="517.00" r="0.78" fill="#cd9468"/>
<circle cx="41.15" cy="520.15" r="0.78" fill="#cd9468"/>
<circle cx="41.15" cy="523.30" r="0.78" fill="#cd9468"/>
<circle cx="41.15" cy="526.45" r="0.78" fill="#cd9468"/>
<circle cx="41.15" cy="529.60" r="0.78" fill="#cd9468"/>
<circle cx="41.15" cy="532.75" r="0.78" fill="#cd9468"/>
<circle cx="44.55" cy="521.70" r="0.78" fill="#cd9468"/>
<circle cx="44.55" cy="524.75" r="0.78" fill="#cd9468"/>
<circle cx="44.55" cy="527.80" r="0.78" fill="#cd9468"/>
<circle cx="44.55" cy="530.85" r="0.78" fill="#cd9468"/></g>
<g transform="translate(406.34,0)"><path d="M-20,509.6 H-7.35 A5.95,5.95 0 0 1 -7.35,521.5 H-19.8" stroke="#5a6050" stroke-width="1.7" fill="none"/>
<path d="M20,509.6 H7.35 A5.95,5.95 0 0 0 7.35,521.5 H19.8" stroke="#5a6050" stroke-width="1.7" fill="none"/>
<path d="M-27.8,510 L-24.4,513.5 H-6 A2.05,2.05 0 0 1 -6,517.6 H-29 Q-30.3,517.8 -30.9,519.2" stroke="#5a6050" stroke-width="1.7" fill="none"/>
<path d="M27.8,510 L24.4,513.5 H6 A2.05,2.05 0 0 0 6,517.6 H29 Q30.3,517.8 30.9,519.2" stroke="#5a6050" stroke-width="1.7" fill="none"/>
<path d="M-29.5,509.9 H-33 Q-35.2,510 -35.2,512.2 Q-35,514.5 -32.6,514.4 Q-31.1,514.1 -31.4,512.6" stroke="#5a6050" stroke-width="1.7" fill="none"/>
<path d="M29.5,509.9 H33 Q35.2,510 35.2,512.2 Q35,514.5 32.6,514.4 Q31.1,514.1 31.4,512.6" stroke="#5a6050" stroke-width="1.7" fill="none"/>
<path d="M38.05,509.3 V512.6" stroke="#5a6050" stroke-width="1.2" fill="none"/>
<rect x="-19.8" y="520.65" width="39.6" height="1.7" fill="#5a6050"/>
<rect x="-19.8" y="531.9" width="39.6" height="1.4" fill="#5a6050"/>
<rect x="-19.70" y="524.0" width="1.4" height="6.3" fill="#5a6050"/>
<rect x="-15.48" y="524.0" width="1.4" height="6.3" fill="#5a6050"/>
<rect x="-11.26" y="524.0" width="1.4" height="6.3" fill="#5a6050"/>
<rect x="-7.04" y="524.0" width="1.4" height="6.3" fill="#5a6050"/>
<rect x="-2.82" y="524.0" width="1.4" height="6.3" fill="#5a6050"/>
<rect x="1.40" y="524.0" width="1.4" height="6.3" fill="#5a6050"/>
<rect x="5.62" y="524.0" width="1.4" height="6.3" fill="#5a6050"/>
<rect x="9.84" y="524.0" width="1.4" height="6.3" fill="#5a6050"/>
<rect x="14.06" y="524.0" width="1.4" height="6.3" fill="#5a6050"/>
<rect x="18.28" y="524.0" width="1.4" height="6.3" fill="#5a6050"/>
<path d="M-27,533.4 Q-26.2,527 -24.8,522.2 Q-24.1,527.8 -22.2,533.4 Z" fill="#5a6050"/>
<path d="M27,533.4 Q26.2,527 24.8,522.2 Q24.1,527.8 22.2,533.4 Z" fill="#5a6050"/>
<ellipse cx="38.05" cy="524.5" rx="8" ry="9.5" fill="#f4e0cf" opacity="0.45"/>
<circle cx="31.55" cy="521.70" r="0.78" fill="#cd9468"/>
<circle cx="31.55" cy="524.75" r="0.78" fill="#cd9468"/>
<circle cx="31.55" cy="527.80" r="0.78" fill="#cd9468"/>
<circle cx="31.55" cy="530.85" r="0.78" fill="#cd9468"/>
<circle cx="34.85" cy="517.00" r="0.78" fill="#cd9468"/>
<circle cx="34.85" cy="520.15" r="0.78" fill="#cd9468"/>
<circle cx="34.85" cy="523.30" r="0.78" fill="#cd9468"/>
<circle cx="34.85" cy="526.45" r="0.78" fill="#cd9468"/>
<circle cx="34.85" cy="529.60" r="0.78" fill="#cd9468"/>
<circle cx="34.85" cy="532.75" r="0.78" fill="#cd9468"/>
<circle cx="38.05" cy="515.80" r="0.78" fill="#cd9468"/>
<circle cx="38.05" cy="518.90" r="0.78" fill="#cd9468"/>
<circle cx="38.05" cy="522.00" r="0.78" fill="#cd9468"/>
<circle cx="38.05" cy="525.10" r="0.78" fill="#cd9468"/>
<circle cx="38.05" cy="528.20" r="0.78" fill="#cd9468"/>
<circle cx="38.05" cy="531.30" r="0.78" fill="#cd9468"/>
<circle cx="41.15" cy="517.00" r="0.78" fill="#cd9468"/>
<circle cx="41.15" cy="520.15" r="0.78" fill="#cd9468"/>
<circle cx="41.15" cy="523.30" r="0.78" fill="#cd9468"/>
<circle cx="41.15" cy="526.45" r="0.78" fill="#cd9468"/>
<circle cx="41.15" cy="529.60" r="0.78" fill="#cd9468"/>
<circle cx="41.15" cy="532.75" r="0.78" fill="#cd9468"/>
<circle cx="44.55" cy="521.70" r="0.78" fill="#cd9468"/>
<circle cx="44.55" cy="524.75" r="0.78" fill="#cd9468"/>
<circle cx="44.55" cy="527.80" r="0.78" fill="#cd9468"/>
<circle cx="44.55" cy="530.85" r="0.78" fill="#cd9468"/></g>
<g transform="translate(482.44,0)"><path d="M-20,509.6 H-7.35 A5.95,5.95 0 0 1 -7.35,521.5 H-19.8" stroke="#5a6050" stroke-width="1.7" fill="none"/>
<path d="M20,509.6 H7.35 A5.95,5.95 0 0 0 7.35,521.5 H19.8" stroke="#5a6050" stroke-width="1.7" fill="none"/>
<path d="M-27.8,510 L-24.4,513.5 H-6 A2.05,2.05 0 0 1 -6,517.6 H-29 Q-30.3,517.8 -30.9,519.2" stroke="#5a6050" stroke-width="1.7" fill="none"/>
<path d="M27.8,510 L24.4,513.5 H6 A2.05,2.05 0 0 0 6,517.6 H29 Q30.3,517.8 30.9,519.2" stroke="#5a6050" stroke-width="1.7" fill="none"/>
<path d="M-29.5,509.9 H-33 Q-35.2,510 -35.2,512.2 Q-35,514.5 -32.6,514.4 Q-31.1,514.1 -31.4,512.6" stroke="#5a6050" stroke-width="1.7" fill="none"/>
<path d="M29.5,509.9 H33 Q35.2,510 35.2,512.2 Q35,514.5 32.6,514.4 Q31.1,514.1 31.4,512.6" stroke="#5a6050" stroke-width="1.7" fill="none"/>
<path d="M38.05,509.3 V512.6" stroke="#5a6050" stroke-width="1.2" fill="none"/>
<rect x="-19.8" y="520.65" width="39.6" height="1.7" fill="#5a6050"/>
<rect x="-19.8" y="531.9" width="39.6" height="1.4" fill="#5a6050"/>
<rect x="-19.70" y="524.0" width="1.4" height="6.3" fill="#5a6050"/>
<rect x="-15.48" y="524.0" width="1.4" height="6.3" fill="#5a6050"/>
<rect x="-11.26" y="524.0" width="1.4" height="6.3" fill="#5a6050"/>
<rect x="-7.04" y="524.0" width="1.4" height="6.3" fill="#5a6050"/>
<rect x="-2.82" y="524.0" width="1.4" height="6.3" fill="#5a6050"/>
<rect x="1.40" y="524.0" width="1.4" height="6.3" fill="#5a6050"/>
<rect x="5.62" y="524.0" width="1.4" height="6.3" fill="#5a6050"/>
<rect x="9.84" y="524.0" width="1.4" height="6.3" fill="#5a6050"/>
<rect x="14.06" y="524.0" width="1.4" height="6.3" fill="#5a6050"/>
<rect x="18.28" y="524.0" width="1.4" height="6.3" fill="#5a6050"/>
<path d="M-27,533.4 Q-26.2,527 -24.8,522.2 Q-24.1,527.8 -22.2,533.4 Z" fill="#5a6050"/>
<path d="M27,533.4 Q26.2,527 24.8,522.2 Q24.1,527.8 22.2,533.4 Z" fill="#5a6050"/>
<ellipse cx="38.05" cy="524.5" rx="8" ry="9.5" fill="#f4e0cf" opacity="0.45"/>
<circle cx="31.55" cy="521.70" r="0.78" fill="#cd9468"/>
<circle cx="31.55" cy="524.75" r="0.78" fill="#cd9468"/>
<circle cx="31.55" cy="527.80" r="0.78" fill="#cd9468"/>
<circle cx="31.55" cy="530.85" r="0.78" fill="#cd9468"/>
<circle cx="34.85" cy="517.00" r="0.78" fill="#cd9468"/>
<circle cx="34.85" cy="520.15" r="0.78" fill="#cd9468"/>
<circle cx="34.85" cy="523.30" r="0.78" fill="#cd9468"/>
<circle cx="34.85" cy="526.45" r="0.78" fill="#cd9468"/>
<circle cx="34.85" cy="529.60" r="0.78" fill="#cd9468"/>
<circle cx="34.85" cy="532.75" r="0.78" fill="#cd9468"/>
<circle cx="38.05" cy="515.80" r="0.78" fill="#cd9468"/>
<circle cx="38.05" cy="518.90" r="0.78" fill="#cd9468"/>
<circle cx="38.05" cy="522.00" r="0.78" fill="#cd9468"/>
<circle cx="38.05" cy="525.10" r="0.78" fill="#cd9468"/>
<circle cx="38.05" cy="528.20" r="0.78" fill="#cd9468"/>
<circle cx="38.05" cy="531.30" r="0.78" fill="#cd9468"/>
<circle cx="41.15" cy="517.00" r="0.78" fill="#cd9468"/>
<circle cx="41.15" cy="520.15" r="0.78" fill="#cd9468"/>
<circle cx="41.15" cy="523.30" r="0.78" fill="#cd9468"/>
<circle cx="41.15" cy="526.45" r="0.78" fill="#cd9468"/>
<circle cx="41.15" cy="529.60" r="0.78" fill="#cd9468"/>
<circle cx="41.15" cy="532.75" r="0.78" fill="#cd9468"/>
<circle cx="44.55" cy="521.70" r="0.78" fill="#cd9468"/>
<circle cx="44.55" cy="524.75" r="0.78" fill="#cd9468"/>
<circle cx="44.55" cy="527.80" r="0.78" fill="#cd9468"/>
<circle cx="44.55" cy="530.85" r="0.78" fill="#cd9468"/></g>
<g transform="translate(558.54,0)"><path d="M-20,509.6 H-7.35 A5.95,5.95 0 0 1 -7.35,521.5 H-19.8" stroke="#5a6050" stroke-width="1.7" fill="none"/>
<path d="M20,509.6 H7.35 A5.95,5.95 0 0 0 7.35,521.5 H19.8" stroke="#5a6050" stroke-width="1.7" fill="none"/>
<path d="M-27.8,510 L-24.4,513.5 H-6 A2.05,2.05 0 0 1 -6,517.6 H-29 Q-30.3,517.8 -30.9,519.2" stroke="#5a6050" stroke-width="1.7" fill="none"/>
<path d="M27.8,510 L24.4,513.5 H6 A2.05,2.05 0 0 0 6,517.6 H29 Q30.3,517.8 30.9,519.2" stroke="#5a6050" stroke-width="1.7" fill="none"/>
<path d="M-29.5,509.9 H-33 Q-35.2,510 -35.2,512.2 Q-35,514.5 -32.6,514.4 Q-31.1,514.1 -31.4,512.6" stroke="#5a6050" stroke-width="1.7" fill="none"/>
<path d="M29.5,509.9 H33 Q35.2,510 35.2,512.2 Q35,514.5 32.6,514.4 Q31.1,514.1 31.4,512.6" stroke="#5a6050" stroke-width="1.7" fill="none"/>
<path d="M38.05,509.3 V512.6" stroke="#5a6050" stroke-width="1.2" fill="none"/>
<rect x="-19.8" y="520.65" width="39.6" height="1.7" fill="#5a6050"/>
<rect x="-19.8" y="531.9" width="39.6" height="1.4" fill="#5a6050"/>
<rect x="-19.70" y="524.0" width="1.4" height="6.3" fill="#5a6050"/>
<rect x="-15.48" y="524.0" width="1.4" height="6.3" fill="#5a6050"/>
<rect x="-11.26" y="524.0" width="1.4" height="6.3" fill="#5a6050"/>
<rect x="-7.04" y="524.0" width="1.4" height="6.3" fill="#5a6050"/>
<rect x="-2.82" y="524.0" width="1.4" height="6.3" fill="#5a6050"/>
<rect x="1.40" y="524.0" width="1.4" height="6.3" fill="#5a6050"/>
<rect x="5.62" y="524.0" width="1.4" height="6.3" fill="#5a6050"/>
<rect x="9.84" y="524.0" width="1.4" height="6.3" fill="#5a6050"/>
<rect x="14.06" y="524.0" width="1.4" height="6.3" fill="#5a6050"/>
<rect x="18.28" y="524.0" width="1.4" height="6.3" fill="#5a6050"/>
<path d="M-27,533.4 Q-26.2,527 -24.8,522.2 Q-24.1,527.8 -22.2,533.4 Z" fill="#5a6050"/>
<path d="M27,533.4 Q26.2,527 24.8,522.2 Q24.1,527.8 22.2,533.4 Z" fill="#5a6050"/>
<ellipse cx="38.05" cy="524.5" rx="8" ry="9.5" fill="#f4e0cf" opacity="0.45"/>
<circle cx="31.55" cy="521.70" r="0.78" fill="#cd9468"/>
<circle cx="31.55" cy="524.75" r="0.78" fill="#cd9468"/>
<circle cx="31.55" cy="527.80" r="0.78" fill="#cd9468"/>
<circle cx="31.55" cy="530.85" r="0.78" fill="#cd9468"/>
<circle cx="34.85" cy="517.00" r="0.78" fill="#cd9468"/>
<circle cx="34.85" cy="520.15" r="0.78" fill="#cd9468"/>
<circle cx="34.85" cy="523.30" r="0.78" fill="#cd9468"/>
<circle cx="34.85" cy="526.45" r="0.78" fill="#cd9468"/>
<circle cx="34.85" cy="529.60" r="0.78" fill="#cd9468"/>
<circle cx="34.85" cy="532.75" r="0.78" fill="#cd9468"/>
<circle cx="38.05" cy="515.80" r="0.78" fill="#cd9468"/>
<circle cx="38.05" cy="518.90" r="0.78" fill="#cd9468"/>
<circle cx="38.05" cy="522.00" r="0.78" fill="#cd9468"/>
<circle cx="38.05" cy="525.10" r="0.78" fill="#cd9468"/>
<circle cx="38.05" cy="528.20" r="0.78" fill="#cd9468"/>
<circle cx="38.05" cy="531.30" r="0.78" fill="#cd9468"/>
<circle cx="41.15" cy="517.00" r="0.78" fill="#cd9468"/>
<circle cx="41.15" cy="520.15" r="0.78" fill="#cd9468"/>
<circle cx="41.15" cy="523.30" r="0.78" fill="#cd9468"/>
<circle cx="41.15" cy="526.45" r="0.78" fill="#cd9468"/>
<circle cx="41.15" cy="529.60" r="0.78" fill="#cd9468"/>
<circle cx="41.15" cy="532.75" r="0.78" fill="#cd9468"/>
<circle cx="44.55" cy="521.70" r="0.78" fill="#cd9468"/>
<circle cx="44.55" cy="524.75" r="0.78" fill="#cd9468"/>
<circle cx="44.55" cy="527.80" r="0.78" fill="#cd9468"/>
<circle cx="44.55" cy="530.85" r="0.78" fill="#cd9468"/></g>
<g transform="translate(634.64,0)"><path d="M-20,509.6 H-7.35 A5.95,5.95 0 0 1 -7.35,521.5 H-19.8" stroke="#5a6050" stroke-width="1.7" fill="none"/>
<path d="M20,509.6 H7.35 A5.95,5.95 0 0 0 7.35,521.5 H19.8" stroke="#5a6050" stroke-width="1.7" fill="none"/>
<path d="M-27.8,510 L-24.4,513.5 H-6 A2.05,2.05 0 0 1 -6,517.6 H-29 Q-30.3,517.8 -30.9,519.2" stroke="#5a6050" stroke-width="1.7" fill="none"/>
<path d="M27.8,510 L24.4,513.5 H6 A2.05,2.05 0 0 0 6,517.6 H29 Q30.3,517.8 30.9,519.2" stroke="#5a6050" stroke-width="1.7" fill="none"/>
<path d="M-29.5,509.9 H-33 Q-35.2,510 -35.2,512.2 Q-35,514.5 -32.6,514.4 Q-31.1,514.1 -31.4,512.6" stroke="#5a6050" stroke-width="1.7" fill="none"/>
<path d="M29.5,509.9 H33 Q35.2,510 35.2,512.2 Q35,514.5 32.6,514.4 Q31.1,514.1 31.4,512.6" stroke="#5a6050" stroke-width="1.7" fill="none"/>
<path d="M38.05,509.3 V512.6" stroke="#5a6050" stroke-width="1.2" fill="none"/>
<rect x="-19.8" y="520.65" width="39.6" height="1.7" fill="#5a6050"/>
<rect x="-19.8" y="531.9" width="39.6" height="1.4" fill="#5a6050"/>
<rect x="-19.70" y="524.0" width="1.4" height="6.3" fill="#5a6050"/>
<rect x="-15.48" y="524.0" width="1.4" height="6.3" fill="#5a6050"/>
<rect x="-11.26" y="524.0" width="1.4" height="6.3" fill="#5a6050"/>
<rect x="-7.04" y="524.0" width="1.4" height="6.3" fill="#5a6050"/>
<rect x="-2.82" y="524.0" width="1.4" height="6.3" fill="#5a6050"/>
<rect x="1.40" y="524.0" width="1.4" height="6.3" fill="#5a6050"/>
<rect x="5.62" y="524.0" width="1.4" height="6.3" fill="#5a6050"/>
<rect x="9.84" y="524.0" width="1.4" height="6.3" fill="#5a6050"/>
<rect x="14.06" y="524.0" width="1.4" height="6.3" fill="#5a6050"/>
<rect x="18.28" y="524.0" width="1.4" height="6.3" fill="#5a6050"/>
<path d="M-27,533.4 Q-26.2,527 -24.8,522.2 Q-24.1,527.8 -22.2,533.4 Z" fill="#5a6050"/>
<path d="M27,533.4 Q26.2,527 24.8,522.2 Q24.1,527.8 22.2,533.4 Z" fill="#5a6050"/>
<ellipse cx="38.05" cy="524.5" rx="8" ry="9.5" fill="#f4e0cf" opacity="0.45"/>
<circle cx="31.55" cy="521.70" r="0.78" fill="#cd9468"/>
<circle cx="31.55" cy="524.75" r="0.78" fill="#cd9468"/>
<circle cx="31.55" cy="527.80" r="0.78" fill="#cd9468"/>
<circle cx="31.55" cy="530.85" r="0.78" fill="#cd9468"/>
<circle cx="34.85" cy="517.00" r="0.78" fill="#cd9468"/>
<circle cx="34.85" cy="520.15" r="0.78" fill="#cd9468"/>
<circle cx="34.85" cy="523.30" r="0.78" fill="#cd9468"/>
<circle cx="34.85" cy="526.45" r="0.78" fill="#cd9468"/>
<circle cx="34.85" cy="529.60" r="0.78" fill="#cd9468"/>
<circle cx="34.85" cy="532.75" r="0.78" fill="#cd9468"/>
<circle cx="38.05" cy="515.80" r="0.78" fill="#cd9468"/>
<circle cx="38.05" cy="518.90" r="0.78" fill="#cd9468"/>
<circle cx="38.05" cy="522.00" r="0.78" fill="#cd9468"/>
<circle cx="38.05" cy="525.10" r="0.78" fill="#cd9468"/>
<circle cx="38.05" cy="528.20" r="0.78" fill="#cd9468"/>
<circle cx="38.05" cy="531.30" r="0.78" fill="#cd9468"/>
<circle cx="41.15" cy="517.00" r="0.78" fill="#cd9468"/>
<circle cx="41.15" cy="520.15" r="0.78" fill="#cd9468"/>
<circle cx="41.15" cy="523.30" r="0.78" fill="#cd9468"/>
<circle cx="41.15" cy="526.45" r="0.78" fill="#cd9468"/>
<circle cx="41.15" cy="529.60" r="0.78" fill="#cd9468"/>
<circle cx="41.15" cy="532.75" r="0.78" fill="#cd9468"/>
<circle cx="44.55" cy="521.70" r="0.78" fill="#cd9468"/>
<circle cx="44.55" cy="524.75" r="0.78" fill="#cd9468"/>
<circle cx="44.55" cy="527.80" r="0.78" fill="#cd9468"/>
<circle cx="44.55" cy="530.85" r="0.78" fill="#cd9468"/></g>
<g transform="translate(710.74,0)"><path d="M-20,509.6 H-7.35 A5.95,5.95 0 0 1 -7.35,521.5 H-19.8" stroke="#5a6050" stroke-width="1.7" fill="none"/>
<path d="M20,509.6 H7.35 A5.95,5.95 0 0 0 7.35,521.5 H19.8" stroke="#5a6050" stroke-width="1.7" fill="none"/>
<path d="M-27.8,510 L-24.4,513.5 H-6 A2.05,2.05 0 0 1 -6,517.6 H-29 Q-30.3,517.8 -30.9,519.2" stroke="#5a6050" stroke-width="1.7" fill="none"/>
<path d="M27.8,510 L24.4,513.5 H6 A2.05,2.05 0 0 0 6,517.6 H29 Q30.3,517.8 30.9,519.2" stroke="#5a6050" stroke-width="1.7" fill="none"/>
<path d="M-29.5,509.9 H-33 Q-35.2,510 -35.2,512.2 Q-35,514.5 -32.6,514.4 Q-31.1,514.1 -31.4,512.6" stroke="#5a6050" stroke-width="1.7" fill="none"/>
<path d="M29.5,509.9 H33 Q35.2,510 35.2,512.2 Q35,514.5 32.6,514.4 Q31.1,514.1 31.4,512.6" stroke="#5a6050" stroke-width="1.7" fill="none"/>
<path d="M38.05,509.3 V512.6" stroke="#5a6050" stroke-width="1.2" fill="none"/>
<rect x="-19.8" y="520.65" width="39.6" height="1.7" fill="#5a6050"/>
<rect x="-19.8" y="531.9" width="39.6" height="1.4" fill="#5a6050"/>
<rect x="-19.70" y="524.0" width="1.4" height="6.3" fill="#5a6050"/>
<rect x="-15.48" y="524.0" width="1.4" height="6.3" fill="#5a6050"/>
<rect x="-11.26" y="524.0" width="1.4" height="6.3" fill="#5a6050"/>
<rect x="-7.04" y="524.0" width="1.4" height="6.3" fill="#5a6050"/>
<rect x="-2.82" y="524.0" width="1.4" height="6.3" fill="#5a6050"/>
<rect x="1.40" y="524.0" width="1.4" height="6.3" fill="#5a6050"/>
<rect x="5.62" y="524.0" width="1.4" height="6.3" fill="#5a6050"/>
<rect x="9.84" y="524.0" width="1.4" height="6.3" fill="#5a6050"/>
<rect x="14.06" y="524.0" width="1.4" height="6.3" fill="#5a6050"/>
<rect x="18.28" y="524.0" width="1.4" height="6.3" fill="#5a6050"/>
<path d="M-27,533.4 Q-26.2,527 -24.8,522.2 Q-24.1,527.8 -22.2,533.4 Z" fill="#5a6050"/>
<path d="M27,533.4 Q26.2,527 24.8,522.2 Q24.1,527.8 22.2,533.4 Z" fill="#5a6050"/>
<ellipse cx="38.05" cy="524.5" rx="8" ry="9.5" fill="#f4e0cf" opacity="0.45"/>
<circle cx="31.55" cy="521.70" r="0.78" fill="#cd9468"/>
<circle cx="31.55" cy="524.75" r="0.78" fill="#cd9468"/>
<circle cx="31.55" cy="527.80" r="0.78" fill="#cd9468"/>
<circle cx="31.55" cy="530.85" r="0.78" fill="#cd9468"/>
<circle cx="34.85" cy="517.00" r="0.78" fill="#cd9468"/>
<circle cx="34.85" cy="520.15" r="0.78" fill="#cd9468"/>
<circle cx="34.85" cy="523.30" r="0.78" fill="#cd9468"/>
<circle cx="34.85" cy="526.45" r="0.78" fill="#cd9468"/>
<circle cx="34.85" cy="529.60" r="0.78" fill="#cd9468"/>
<circle cx="34.85" cy="532.75" r="0.78" fill="#cd9468"/>
<circle cx="38.05" cy="515.80" r="0.78" fill="#cd9468"/>
<circle cx="38.05" cy="518.90" r="0.78" fill="#cd9468"/>
<circle cx="38.05" cy="522.00" r="0.78" fill="#cd9468"/>
<circle cx="38.05" cy="525.10" r="0.78" fill="#cd9468"/>
<circle cx="38.05" cy="528.20" r="0.78" fill="#cd9468"/>
<circle cx="38.05" cy="531.30" r="0.78" fill="#cd9468"/>
<circle cx="41.15" cy="517.00" r="0.78" fill="#cd9468"/>
<circle cx="41.15" cy="520.15" r="0.78" fill="#cd9468"/>
<circle cx="41.15" cy="523.30" r="0.78" fill="#cd9468"/>
<circle cx="41.15" cy="526.45" r="0.78" fill="#cd9468"/>
<circle cx="41.15" cy="529.60" r="0.78" fill="#cd9468"/>
<circle cx="41.15" cy="532.75" r="0.78" fill="#cd9468"/>
<circle cx="44.55" cy="521.70" r="0.78" fill="#cd9468"/>
<circle cx="44.55" cy="524.75" r="0.78" fill="#cd9468"/>
<circle cx="44.55" cy="527.80" r="0.78" fill="#cd9468"/>
<circle cx="44.55" cy="530.85" r="0.78" fill="#cd9468"/></g>
<g transform="translate(786.84,0)"><path d="M-20,509.6 H-7.35 A5.95,5.95 0 0 1 -7.35,521.5 H-19.8" stroke="#5a6050" stroke-width="1.7" fill="none"/>
<path d="M20,509.6 H7.35 A5.95,5.95 0 0 0 7.35,521.5 H19.8" stroke="#5a6050" stroke-width="1.7" fill="none"/>
<path d="M-27.8,510 L-24.4,513.5 H-6 A2.05,2.05 0 0 1 -6,517.6 H-29 Q-30.3,517.8 -30.9,519.2" stroke="#5a6050" stroke-width="1.7" fill="none"/>
<path d="M27.8,510 L24.4,513.5 H6 A2.05,2.05 0 0 0 6,517.6 H29 Q30.3,517.8 30.9,519.2" stroke="#5a6050" stroke-width="1.7" fill="none"/>
<path d="M-29.5,509.9 H-33 Q-35.2,510 -35.2,512.2 Q-35,514.5 -32.6,514.4 Q-31.1,514.1 -31.4,512.6" stroke="#5a6050" stroke-width="1.7" fill="none"/>
<path d="M29.5,509.9 H33 Q35.2,510 35.2,512.2 Q35,514.5 32.6,514.4 Q31.1,514.1 31.4,512.6" stroke="#5a6050" stroke-width="1.7" fill="none"/>
<path d="M38.05,509.3 V512.6" stroke="#5a6050" stroke-width="1.2" fill="none"/>
<rect x="-19.8" y="520.65" width="39.6" height="1.7" fill="#5a6050"/>
<rect x="-19.8" y="531.9" width="39.6" height="1.4" fill="#5a6050"/>
<rect x="-19.70" y="524.0" width="1.4" height="6.3" fill="#5a6050"/>
<rect x="-15.48" y="524.0" width="1.4" height="6.3" fill="#5a6050"/>
<rect x="-11.26" y="524.0" width="1.4" height="6.3" fill="#5a6050"/>
<rect x="-7.04" y="524.0" width="1.4" height="6.3" fill="#5a6050"/>
<rect x="-2.82" y="524.0" width="1.4" height="6.3" fill="#5a6050"/>
<rect x="1.40" y="524.0" width="1.4" height="6.3" fill="#5a6050"/>
<rect x="5.62" y="524.0" width="1.4" height="6.3" fill="#5a6050"/>
<rect x="9.84" y="524.0" width="1.4" height="6.3" fill="#5a6050"/>
<rect x="14.06" y="524.0" width="1.4" height="6.3" fill="#5a6050"/>
<rect x="18.28" y="524.0" width="1.4" height="6.3" fill="#5a6050"/>
<path d="M-27,533.4 Q-26.2,527 -24.8,522.2 Q-24.1,527.8 -22.2,533.4 Z" fill="#5a6050"/>
<path d="M27,533.4 Q26.2,527 24.8,522.2 Q24.1,527.8 22.2,533.4 Z" fill="#5a6050"/>
<ellipse cx="38.05" cy="524.5" rx="8" ry="9.5" fill="#f4e0cf" opacity="0.45"/>
<circle cx="31.55" cy="521.70" r="0.78" fill="#cd9468"/>
<circle cx="31.55" cy="524.75" r="0.78" fill="#cd9468"/>
<circle cx="31.55" cy="527.80" r="0.78" fill="#cd9468"/>
<circle cx="31.55" cy="530.85" r="0.78" fill="#cd9468"/>
<circle cx="34.85" cy="517.00" r="0.78" fill="#cd9468"/>
<circle cx="34.85" cy="520.15" r="0.78" fill="#cd9468"/>
<circle cx="34.85" cy="523.30" r="0.78" fill="#cd9468"/>
<circle cx="34.85" cy="526.45" r="0.78" fill="#cd9468"/>
<circle cx="34.85" cy="529.60" r="0.78" fill="#cd9468"/>
<circle cx="34.85" cy="532.75" r="0.78" fill="#cd9468"/>
<circle cx="38.05" cy="515.80" r="0.78" fill="#cd9468"/>
<circle cx="38.05" cy="518.90" r="0.78" fill="#cd9468"/>
<circle cx="38.05" cy="522.00" r="0.78" fill="#cd9468"/>
<circle cx="38.05" cy="525.10" r="0.78" fill="#cd9468"/>
<circle cx="38.05" cy="528.20" r="0.78" fill="#cd9468"/>
<circle cx="38.05" cy="531.30" r="0.78" fill="#cd9468"/>
<circle cx="41.15" cy="517.00" r="0.78" fill="#cd9468"/>
<circle cx="41.15" cy="520.15" r="0.78" fill="#cd9468"/>
<circle cx="41.15" cy="523.30" r="0.78" fill="#cd9468"/>
<circle cx="41.15" cy="526.45" r="0.78" fill="#cd9468"/>
<circle cx="41.15" cy="529.60" r="0.78" fill="#cd9468"/>
<circle cx="41.15" cy="532.75" r="0.78" fill="#cd9468"/>
<circle cx="44.55" cy="521.70" r="0.78" fill="#cd9468"/>
<circle cx="44.55" cy="524.75" r="0.78" fill="#cd9468"/>
<circle cx="44.55" cy="527.80" r="0.78" fill="#cd9468"/>
<circle cx="44.55" cy="530.85" r="0.78" fill="#cd9468"/></g>
<g transform="translate(862.94,0)"><path d="M-20,509.6 H-7.35 A5.95,5.95 0 0 1 -7.35,521.5 H-19.8" stroke="#5a6050" stroke-width="1.7" fill="none"/>
<path d="M20,509.6 H7.35 A5.95,5.95 0 0 0 7.35,521.5 H19.8" stroke="#5a6050" stroke-width="1.7" fill="none"/>
<path d="M-27.8,510 L-24.4,513.5 H-6 A2.05,2.05 0 0 1 -6,517.6 H-29 Q-30.3,517.8 -30.9,519.2" stroke="#5a6050" stroke-width="1.7" fill="none"/>
<path d="M27.8,510 L24.4,513.5 H6 A2.05,2.05 0 0 0 6,517.6 H29 Q30.3,517.8 30.9,519.2" stroke="#5a6050" stroke-width="1.7" fill="none"/>
<path d="M-29.5,509.9 H-33 Q-35.2,510 -35.2,512.2 Q-35,514.5 -32.6,514.4 Q-31.1,514.1 -31.4,512.6" stroke="#5a6050" stroke-width="1.7" fill="none"/>
<path d="M29.5,509.9 H33 Q35.2,510 35.2,512.2 Q35,514.5 32.6,514.4 Q31.1,514.1 31.4,512.6" stroke="#5a6050" stroke-width="1.7" fill="none"/>
<path d="M38.05,509.3 V512.6" stroke="#5a6050" stroke-width="1.2" fill="none"/>
<rect x="-19.8" y="520.65" width="39.6" height="1.7" fill="#5a6050"/>
<rect x="-19.8" y="531.9" width="39.6" height="1.4" fill="#5a6050"/>
<rect x="-19.70" y="524.0" width="1.4" height="6.3" fill="#5a6050"/>
<rect x="-15.48" y="524.0" width="1.4" height="6.3" fill="#5a6050"/>
<rect x="-11.26" y="524.0" width="1.4" height="6.3" fill="#5a6050"/>
<rect x="-7.04" y="524.0" width="1.4" height="6.3" fill="#5a6050"/>
<rect x="-2.82" y="524.0" width="1.4" height="6.3" fill="#5a6050"/>
<rect x="1.40" y="524.0" width="1.4" height="6.3" fill="#5a6050"/>
<rect x="5.62" y="524.0" width="1.4" height="6.3" fill="#5a6050"/>
<rect x="9.84" y="524.0" width="1.4" height="6.3" fill="#5a6050"/>
<rect x="14.06" y="524.0" width="1.4" height="6.3" fill="#5a6050"/>
<rect x="18.28" y="524.0" width="1.4" height="6.3" fill="#5a6050"/>
<path d="M-27,533.4 Q-26.2,527 -24.8,522.2 Q-24.1,527.8 -22.2,533.4 Z" fill="#5a6050"/>
<path d="M27,533.4 Q26.2,527 24.8,522.2 Q24.1,527.8 22.2,533.4 Z" fill="#5a6050"/>
<ellipse cx="38.05" cy="524.5" rx="8" ry="9.5" fill="#f4e0cf" opacity="0.45"/>
<circle cx="31.55" cy="521.70" r="0.78" fill="#cd9468"/>
<circle cx="31.55" cy="524.75" r="0.78" fill="#cd9468"/>
<circle cx="31.55" cy="527.80" r="0.78" fill="#cd9468"/>
<circle cx="31.55" cy="530.85" r="0.78" fill="#cd9468"/>
<circle cx="34.85" cy="517.00" r="0.78" fill="#cd9468"/>
<circle cx="34.85" cy="520.15" r="0.78" fill="#cd9468"/>
<circle cx="34.85" cy="523.30" r="0.78" fill="#cd9468"/>
<circle cx="34.85" cy="526.45" r="0.78" fill="#cd9468"/>
<circle cx="34.85" cy="529.60" r="0.78" fill="#cd9468"/>
<circle cx="34.85" cy="532.75" r="0.78" fill="#cd9468"/>
<circle cx="38.05" cy="515.80" r="0.78" fill="#cd9468"/>
<circle cx="38.05" cy="518.90" r="0.78" fill="#cd9468"/>
<circle cx="38.05" cy="522.00" r="0.78" fill="#cd9468"/>
<circle cx="38.05" cy="525.10" r="0.78" fill="#cd9468"/>
<circle cx="38.05" cy="528.20" r="0.78" fill="#cd9468"/>
<circle cx="38.05" cy="531.30" r="0.78" fill="#cd9468"/>
<circle cx="41.15" cy="517.00" r="0.78" fill="#cd9468"/>
<circle cx="41.15" cy="520.15" r="0.78" fill="#cd9468"/>
<circle cx="41.15" cy="523.30" r="0.78" fill="#cd9468"/>
<circle cx="41.15" cy="526.45" r="0.78" fill="#cd9468"/>
<circle cx="41.15" cy="529.60" r="0.78" fill="#cd9468"/>
<circle cx="41.15" cy="532.75" r="0.78" fill="#cd9468"/>
<circle cx="44.55" cy="521.70" r="0.78" fill="#cd9468"/>
<circle cx="44.55" cy="524.75" r="0.78" fill="#cd9468"/>
<circle cx="44.55" cy="527.80" r="0.78" fill="#cd9468"/>
<circle cx="44.55" cy="530.85" r="0.78" fill="#cd9468"/></g>
<g transform="translate(939.04,0)"><path d="M-20,509.6 H-7.35 A5.95,5.95 0 0 1 -7.35,521.5 H-19.8" stroke="#5a6050" stroke-width="1.7" fill="none"/>
<path d="M20,509.6 H7.35 A5.95,5.95 0 0 0 7.35,521.5 H19.8" stroke="#5a6050" stroke-width="1.7" fill="none"/>
<path d="M-27.8,510 L-24.4,513.5 H-6 A2.05,2.05 0 0 1 -6,517.6 H-29 Q-30.3,517.8 -30.9,519.2" stroke="#5a6050" stroke-width="1.7" fill="none"/>
<path d="M27.8,510 L24.4,513.5 H6 A2.05,2.05 0 0 0 6,517.6 H29 Q30.3,517.8 30.9,519.2" stroke="#5a6050" stroke-width="1.7" fill="none"/>
<path d="M-29.5,509.9 H-33 Q-35.2,510 -35.2,512.2 Q-35,514.5 -32.6,514.4 Q-31.1,514.1 -31.4,512.6" stroke="#5a6050" stroke-width="1.7" fill="none"/>
<path d="M29.5,509.9 H33 Q35.2,510 35.2,512.2 Q35,514.5 32.6,514.4 Q31.1,514.1 31.4,512.6" stroke="#5a6050" stroke-width="1.7" fill="none"/>
<path d="M38.05,509.3 V512.6" stroke="#5a6050" stroke-width="1.2" fill="none"/>
<rect x="-19.8" y="520.65" width="39.6" height="1.7" fill="#5a6050"/>
<rect x="-19.8" y="531.9" width="39.6" height="1.4" fill="#5a6050"/>
<rect x="-19.70" y="524.0" width="1.4" height="6.3" fill="#5a6050"/>
<rect x="-15.48" y="524.0" width="1.4" height="6.3" fill="#5a6050"/>
<rect x="-11.26" y="524.0" width="1.4" height="6.3" fill="#5a6050"/>
<rect x="-7.04" y="524.0" width="1.4" height="6.3" fill="#5a6050"/>
<rect x="-2.82" y="524.0" width="1.4" height="6.3" fill="#5a6050"/>
<rect x="1.40" y="524.0" width="1.4" height="6.3" fill="#5a6050"/>
<rect x="5.62" y="524.0" width="1.4" height="6.3" fill="#5a6050"/>
<rect x="9.84" y="524.0" width="1.4" height="6.3" fill="#5a6050"/>
<rect x="14.06" y="524.0" width="1.4" height="6.3" fill="#5a6050"/>
<rect x="18.28" y="524.0" width="1.4" height="6.3" fill="#5a6050"/>
<path d="M-27,533.4 Q-26.2,527 -24.8,522.2 Q-24.1,527.8 -22.2,533.4 Z" fill="#5a6050"/>
<path d="M27,533.4 Q26.2,527 24.8,522.2 Q24.1,527.8 22.2,533.4 Z" fill="#5a6050"/>
<ellipse cx="38.05" cy="524.5" rx="8" ry="9.5" fill="#f4e0cf" opacity="0.45"/>
<circle cx="31.55" cy="521.70" r="0.78" fill="#cd9468"/>
<circle cx="31.55" cy="524.75" r="0.78" fill="#cd9468"/>
<circle cx="31.55" cy="527.80" r="0.78" fill="#cd9468"/>
<circle cx="31.55" cy="530.85" r="0.78" fill="#cd9468"/>
<circle cx="34.85" cy="517.00" r="0.78" fill="#cd9468"/>
<circle cx="34.85" cy="520.15" r="0.78" fill="#cd9468"/>
<circle cx="34.85" cy="523.30" r="0.78" fill="#cd9468"/>
<circle cx="34.85" cy="526.45" r="0.78" fill="#cd9468"/>
<circle cx="34.85" cy="529.60" r="0.78" fill="#cd9468"/>
<circle cx="34.85" cy="532.75" r="0.78" fill="#cd9468"/>
<circle cx="38.05" cy="515.80" r="0.78" fill="#cd9468"/>
<circle cx="38.05" cy="518.90" r="0.78" fill="#cd9468"/>
<circle cx="38.05" cy="522.00" r="0.78" fill="#cd9468"/>
<circle cx="38.05" cy="525.10" r="0.78" fill="#cd9468"/>
<circle cx="38.05" cy="528.20" r="0.78" fill="#cd9468"/>
<circle cx="38.05" cy="531.30" r="0.78" fill="#cd9468"/>
<circle cx="41.15" cy="517.00" r="0.78" fill="#cd9468"/>
<circle cx="41.15" cy="520.15" r="0.78" fill="#cd9468"/>
<circle cx="41.15" cy="523.30" r="0.78" fill="#cd9468"/>
<circle cx="41.15" cy="526.45" r="0.78" fill="#cd9468"/>
<circle cx="41.15" cy="529.60" r="0.78" fill="#cd9468"/>
<circle cx="41.15" cy="532.75" r="0.78" fill="#cd9468"/>
<circle cx="44.55" cy="521.70" r="0.78" fill="#cd9468"/>
<circle cx="44.55" cy="524.75" r="0.78" fill="#cd9468"/>
<circle cx="44.55" cy="527.80" r="0.78" fill="#cd9468"/>
<circle cx="44.55" cy="530.85" r="0.78" fill="#cd9468"/></g>
</svg>
<div class="t" id="title">Panorama Epidemiológico de Sarampión en<br>Morelos 2026</div>
<div class="t" id="sub">Casos probables y confirmados acumulados de sarampión 2026</div>
<div class="rt" style="top:146.3px"><b>08</b> Casos<br>confirmados</div>
<div class="rt" style="top:214.5px"><b>0</b> Defunciones</div>
<div class="rt" style="top:267px"><b>5</b> importados<br>Chiapas, Puebla,<br>Guerrero</div>
<div class="rt" style="top:372px"><b>3</b> relacionados a<br>importación</div>
</div>
<div style="position:absolute;left:944px;top:0;width:7px;height:541px;background:#eeeeee"></div>
<div style="position:absolute;left:943px;top:0;width:1px;height:534px;background:#f8f8f6"></div>
<div id="tip"><div style="top:7px">W Radio</div><div style="top:23px">Acceso a Internet</div></div>
</body></html>
